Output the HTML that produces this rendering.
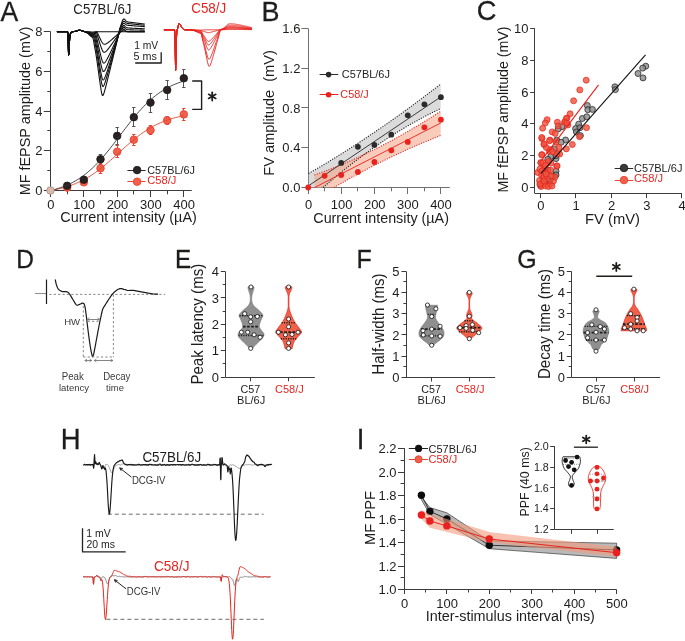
<!DOCTYPE html>
<html><head><meta charset="utf-8"><style>
html,body{margin:0;padding:0;background:#fff;}
svg{display:block;will-change:transform;}
text{font-family:"Liberation Sans", sans-serif;}
</style></head><body>
<svg width="685" height="641" viewBox="0 0 685 641">
<rect width="685" height="641" fill="#fff"/>
<text transform="translate(0.6 20.6) scale(0.9569 1)" font-size="27.8" fill="#1d1d1b" stroke="#1d1d1b" stroke-width="0.3">A</text>
<line x1="50.5" y1="31.5" x2="50.5" y2="190.5" stroke="#3c3c3c" stroke-width="1"/>
<line x1="50.5" y1="190.5" x2="191.8" y2="190.5" stroke="#3c3c3c" stroke-width="1"/>
<line x1="43.8" y1="190.5" x2="50.5" y2="190.5" stroke="#3c3c3c" stroke-width="1"/>
<text transform="translate(42.5 195.2) scale(0.9569 1)" font-size="13.58" text-anchor="end" fill="#1d1d1b">0</text>
<line x1="47.3" y1="170.5" x2="50.5" y2="170.5" stroke="#3c3c3c" stroke-width="1"/>
<line x1="43.8" y1="150.5" x2="50.5" y2="150.5" stroke="#3c3c3c" stroke-width="1"/>
<text transform="translate(42.5 155.45) scale(0.9569 1)" font-size="13.58" text-anchor="end" fill="#1d1d1b">2</text>
<line x1="47.3" y1="130.5" x2="50.5" y2="130.5" stroke="#3c3c3c" stroke-width="1"/>
<line x1="43.8" y1="111.5" x2="50.5" y2="111.5" stroke="#3c3c3c" stroke-width="1"/>
<text transform="translate(42.5 115.7) scale(0.9569 1)" font-size="13.58" text-anchor="end" fill="#1d1d1b">4</text>
<line x1="47.3" y1="91.5" x2="50.5" y2="91.5" stroke="#3c3c3c" stroke-width="1"/>
<line x1="43.8" y1="71.5" x2="50.5" y2="71.5" stroke="#3c3c3c" stroke-width="1"/>
<text transform="translate(42.5 75.95) scale(0.9569 1)" font-size="13.58" text-anchor="end" fill="#1d1d1b">6</text>
<line x1="47.3" y1="51.5" x2="50.5" y2="51.5" stroke="#3c3c3c" stroke-width="1"/>
<line x1="43.8" y1="31.5" x2="50.5" y2="31.5" stroke="#3c3c3c" stroke-width="1"/>
<text transform="translate(42.5 36.2) scale(0.9569 1)" font-size="13.58" text-anchor="end" fill="#1d1d1b">8</text>
<line x1="50.5" y1="190.5" x2="50.5" y2="197" stroke="#3c3c3c" stroke-width="1"/>
<text transform="translate(50.8 209) scale(0.9569 1)" font-size="13.58" text-anchor="middle" fill="#1d1d1b">0</text>
<line x1="67.5" y1="190.5" x2="67.5" y2="194.3" stroke="#3c3c3c" stroke-width="1"/>
<line x1="83.5" y1="190.5" x2="83.5" y2="197" stroke="#3c3c3c" stroke-width="1"/>
<text transform="translate(84.13 209) scale(0.9569 1)" font-size="13.58" text-anchor="middle" fill="#1d1d1b">100</text>
<line x1="100.5" y1="190.5" x2="100.5" y2="194.3" stroke="#3c3c3c" stroke-width="1"/>
<line x1="117.5" y1="190.5" x2="117.5" y2="197" stroke="#3c3c3c" stroke-width="1"/>
<text transform="translate(117.46 209) scale(0.9569 1)" font-size="13.58" text-anchor="middle" fill="#1d1d1b">200</text>
<line x1="133.5" y1="190.5" x2="133.5" y2="194.3" stroke="#3c3c3c" stroke-width="1"/>
<line x1="150.5" y1="190.5" x2="150.5" y2="197" stroke="#3c3c3c" stroke-width="1"/>
<text transform="translate(150.79 209) scale(0.9569 1)" font-size="13.58" text-anchor="middle" fill="#1d1d1b">300</text>
<line x1="167.5" y1="190.5" x2="167.5" y2="194.3" stroke="#3c3c3c" stroke-width="1"/>
<line x1="183.5" y1="190.5" x2="183.5" y2="197" stroke="#3c3c3c" stroke-width="1"/>
<text transform="translate(184.12 209) scale(0.9569 1)" font-size="13.58" text-anchor="middle" fill="#1d1d1b">400</text>
<text transform="translate(60.28 222.3) scale(0.9569 1)" font-size="15.09" fill="#1d1d1b">Current intensity (µA)</text>
<text transform="translate(29.6 195.35) rotate(-90) scale(0.9569 1)" font-size="15.07" fill="#1d1d1b">MF fEPSP amplitude (mV)</text>
<line x1="82.13" y1="176.5" x2="85.53" y2="176.5" stroke="#555" stroke-width="1"/>
<line x1="82.13" y1="182.5" x2="85.53" y2="182.5" stroke="#555" stroke-width="1"/>
<line x1="83.5" y1="176.7" x2="83.5" y2="182.7" stroke="#555" stroke-width="1"/>
<line x1="98.8" y1="154.5" x2="102.2" y2="154.5" stroke="#555" stroke-width="1"/>
<line x1="98.8" y1="164.5" x2="102.2" y2="164.5" stroke="#555" stroke-width="1"/>
<line x1="100.5" y1="154.2" x2="100.5" y2="164.2" stroke="#555" stroke-width="1"/>
<line x1="98.8" y1="163.5" x2="102.2" y2="163.5" stroke="#e8432f" stroke-width="1"/>
<line x1="98.8" y1="173.5" x2="102.2" y2="173.5" stroke="#e8432f" stroke-width="1"/>
<line x1="100.5" y1="163.3" x2="100.5" y2="173.3" stroke="#e8432f" stroke-width="1"/>
<line x1="115.46" y1="127.5" x2="118.86" y2="127.5" stroke="#555" stroke-width="1"/>
<line x1="115.46" y1="144.5" x2="118.86" y2="144.5" stroke="#555" stroke-width="1"/>
<line x1="117.5" y1="127.4" x2="117.5" y2="144.4" stroke="#555" stroke-width="1"/>
<line x1="115.46" y1="145.5" x2="118.86" y2="145.5" stroke="#e8432f" stroke-width="1"/>
<line x1="115.46" y1="157.5" x2="118.86" y2="157.5" stroke="#e8432f" stroke-width="1"/>
<line x1="117.5" y1="145.7" x2="117.5" y2="157.7" stroke="#e8432f" stroke-width="1"/>
<line x1="132.12" y1="107.5" x2="135.52" y2="107.5" stroke="#555" stroke-width="1"/>
<line x1="132.12" y1="126.5" x2="135.52" y2="126.5" stroke="#555" stroke-width="1"/>
<line x1="133.5" y1="107.6" x2="133.5" y2="126.8" stroke="#555" stroke-width="1"/>
<line x1="132.12" y1="134.5" x2="135.52" y2="134.5" stroke="#e8432f" stroke-width="1"/>
<line x1="132.12" y1="145.5" x2="135.52" y2="145.5" stroke="#e8432f" stroke-width="1"/>
<line x1="133.5" y1="134.2" x2="133.5" y2="145.2" stroke="#e8432f" stroke-width="1"/>
<line x1="148.79" y1="93.5" x2="152.19" y2="93.5" stroke="#555" stroke-width="1"/>
<line x1="148.79" y1="112.5" x2="152.19" y2="112.5" stroke="#555" stroke-width="1"/>
<line x1="150.5" y1="93" x2="150.5" y2="112.2" stroke="#555" stroke-width="1"/>
<line x1="148.79" y1="125.5" x2="152.19" y2="125.5" stroke="#e8432f" stroke-width="1"/>
<line x1="148.79" y1="134.5" x2="152.19" y2="134.5" stroke="#e8432f" stroke-width="1"/>
<line x1="150.5" y1="126" x2="150.5" y2="134.4" stroke="#e8432f" stroke-width="1"/>
<line x1="165.46" y1="80.5" x2="168.85" y2="80.5" stroke="#555" stroke-width="1"/>
<line x1="165.46" y1="99.5" x2="168.85" y2="99.5" stroke="#555" stroke-width="1"/>
<line x1="167.5" y1="80.5" x2="167.5" y2="99.5" stroke="#555" stroke-width="1"/>
<line x1="165.46" y1="116.5" x2="168.85" y2="116.5" stroke="#e8432f" stroke-width="1"/>
<line x1="165.46" y1="124.5" x2="168.85" y2="124.5" stroke="#e8432f" stroke-width="1"/>
<line x1="167.5" y1="116.4" x2="167.5" y2="124.4" stroke="#e8432f" stroke-width="1"/>
<line x1="182.12" y1="69.5" x2="185.52" y2="69.5" stroke="#555" stroke-width="1"/>
<line x1="182.12" y1="87.5" x2="185.52" y2="87.5" stroke="#555" stroke-width="1"/>
<line x1="183.5" y1="69.1" x2="183.5" y2="87.5" stroke="#555" stroke-width="1"/>
<line x1="182.12" y1="108.5" x2="185.52" y2="108.5" stroke="#e8432f" stroke-width="1"/>
<line x1="182.12" y1="120.5" x2="185.52" y2="120.5" stroke="#e8432f" stroke-width="1"/>
<line x1="183.5" y1="108.8" x2="183.5" y2="120" stroke="#e8432f" stroke-width="1"/>
<circle cx="67.16" cy="187.6" r="3.8" fill="#f0604b" stroke="#e53d2c" stroke-width="0.8"/>
<circle cx="83.83" cy="182.3" r="3.8" fill="#f0604b" stroke="#e53d2c" stroke-width="0.8"/>
<circle cx="100.5" cy="168.3" r="3.8" fill="#f0604b" stroke="#e53d2c" stroke-width="0.8"/>
<circle cx="117.16" cy="151.7" r="3.8" fill="#f0604b" stroke="#e53d2c" stroke-width="0.8"/>
<circle cx="133.82" cy="139.7" r="3.8" fill="#f0604b" stroke="#e53d2c" stroke-width="0.8"/>
<circle cx="150.49" cy="130.2" r="3.8" fill="#f0604b" stroke="#e53d2c" stroke-width="0.8"/>
<circle cx="167.16" cy="120.4" r="3.8" fill="#f0604b" stroke="#e53d2c" stroke-width="0.8"/>
<circle cx="183.82" cy="114.4" r="3.8" fill="#f0604b" stroke="#e53d2c" stroke-width="0.8"/>
<path d="M50.5 190.5 L52.17 190.21 L53.83 189.91 L55.5 189.58 L57.17 189.23 L58.83 188.86 L60.5 188.47 L62.17 188.05 L63.83 187.6 L65.5 187.13 L67.16 186.62 L68.83 186.09 L70.5 185.52 L72.16 184.92 L73.83 184.28 L75.5 183.61 L77.16 182.9 L78.83 182.15 L80.5 181.37 L82.16 180.54 L83.83 179.67 L85.5 178.76 L87.16 177.81 L88.83 176.82 L90.5 175.78 L92.16 174.7 L93.83 173.58 L95.5 172.41 L97.16 171.21 L98.83 169.96 L100.5 168.68 L102.16 167.36 L103.83 166.01 L105.49 164.63 L107.16 163.22 L108.83 161.78 L110.49 160.32 L112.16 158.84 L113.83 157.34 L115.49 155.83 L117.16 154.32 L118.83 152.8 L120.49 151.28 L122.16 149.76 L123.83 148.26 L125.49 146.76 L127.16 145.28 L128.83 143.82 L130.49 142.39 L132.16 140.98 L133.82 139.6 L135.49 138.25 L137.16 136.93 L138.82 135.65 L140.49 134.41 L142.16 133.21 L143.82 132.05 L145.49 130.93 L147.16 129.85 L148.82 128.81 L150.49 127.82 L152.16 126.87 L153.82 125.96 L155.49 125.1 L157.16 124.27 L158.82 123.49 L160.49 122.75 L162.16 122.04 L163.82 121.37 L165.49 120.74 L167.16 120.14 L168.82 119.57 L170.49 119.04 L172.15 118.54 L173.82 118.06 L175.49 117.62 L177.15 117.2 L178.82 116.81 L180.49 116.44 L182.15 116.09 L183.82 115.77" stroke="#e5402c" stroke-width="0.9" fill="none" stroke-linejoin="round"/>
<circle cx="67.16" cy="185.8" r="3.8" fill="#2a2020" stroke="#1a1a1a" stroke-width="0.8"/>
<circle cx="83.83" cy="179.7" r="3.8" fill="#2a2020" stroke="#1a1a1a" stroke-width="0.8"/>
<circle cx="100.5" cy="159.2" r="3.8" fill="#2a2020" stroke="#1a1a1a" stroke-width="0.8"/>
<circle cx="117.16" cy="135.9" r="3.8" fill="#2a2020" stroke="#1a1a1a" stroke-width="0.8"/>
<circle cx="133.82" cy="117.2" r="3.8" fill="#2a2020" stroke="#1a1a1a" stroke-width="0.8"/>
<circle cx="150.49" cy="102.6" r="3.8" fill="#2a2020" stroke="#1a1a1a" stroke-width="0.8"/>
<circle cx="167.16" cy="90" r="3.8" fill="#2a2020" stroke="#1a1a1a" stroke-width="0.8"/>
<circle cx="183.82" cy="78.3" r="3.8" fill="#2a2020" stroke="#1a1a1a" stroke-width="0.8"/>
<path d="M50.5 190.5 L52.17 190.1 L53.83 189.67 L55.5 189.21 L57.17 188.72 L58.83 188.2 L60.5 187.65 L62.17 187.06 L63.83 186.43 L65.5 185.77 L67.16 185.06 L68.83 184.31 L70.5 183.51 L72.16 182.67 L73.83 181.78 L75.5 180.84 L77.16 179.85 L78.83 178.8 L80.5 177.7 L82.16 176.54 L83.83 175.32 L85.5 174.04 L87.16 172.71 L88.83 171.31 L90.5 169.85 L92.16 168.33 L93.83 166.75 L95.5 165.11 L97.16 163.4 L98.83 161.64 L100.5 159.83 L102.16 157.96 L103.83 156.04 L105.49 154.07 L107.16 152.05 L108.83 150 L110.49 147.91 L112.16 145.78 L113.83 143.63 L115.49 141.45 L117.16 139.26 L118.83 137.06 L120.49 134.85 L122.16 132.64 L123.83 130.44 L125.49 128.25 L127.16 126.08 L128.83 123.93 L130.49 121.8 L132.16 119.71 L133.82 117.66 L135.49 115.64 L137.16 113.68 L138.82 111.76 L140.49 109.89 L142.16 108.07 L143.82 106.32 L145.49 104.62 L147.16 102.98 L148.82 101.4 L150.49 99.88 L152.16 98.42 L153.82 97.03 L155.49 95.69 L157.16 94.42 L158.82 93.2 L160.49 92.04 L162.16 90.94 L163.82 89.9 L165.49 88.91 L167.16 87.97 L168.82 87.08 L170.49 86.24 L172.15 85.45 L173.82 84.7 L175.49 83.99 L177.15 83.33 L178.82 82.7 L180.49 82.12 L182.15 81.56 L183.82 81.04" stroke="#333" stroke-width="0.9" fill="none" stroke-linejoin="round"/>
<circle cx="50.5" cy="190.5" r="3.8" fill="#d9b9aa" stroke="#a08a80" stroke-width="0.8"/>
<path d="M192.2 81 L201.6 81 L201.6 109.4 L192.2 109.4" stroke="#1d1d1b" stroke-width="1.4" fill="none" stroke-linejoin="round"/>
<line x1="212.2" y1="92.3" x2="212.2" y2="100.5" stroke="#1d1d1b" stroke-width="1.75" stroke-linecap="round"/>
<line x1="208.65" y1="94.35" x2="215.75" y2="98.45" stroke="#1d1d1b" stroke-width="1.75" stroke-linecap="round"/>
<line x1="208.65" y1="98.45" x2="215.75" y2="94.35" stroke="#1d1d1b" stroke-width="1.75" stroke-linecap="round"/>
<line x1="127.4" y1="170.5" x2="145.6" y2="170.5" stroke="#2a2a2a" stroke-width="1"/>
<circle cx="137.1" cy="170.1" r="3.8" fill="#2a2424" stroke="#1a1a1a" stroke-width="0.8"/>
<text transform="translate(147.26 173.7) scale(0.9569 1)" font-size="11.35" fill="#1d1d1b">C57BL/6J</text>
<line x1="127.4" y1="181.5" x2="145.6" y2="181.5" stroke="#e8432f" stroke-width="1"/>
<circle cx="137.1" cy="181.7" r="3.8" fill="#f0604b" stroke="#e53d2c" stroke-width="0.8"/>
<text transform="translate(147.24 184.3) scale(0.9569 1)" font-size="11.66" fill="#e52521">C58/J</text>
<text transform="translate(73.34 13.65) scale(0.9569 1)" font-size="13.82" fill="#1d1d1b">C57BL/6J</text>
<text transform="translate(191.23 13.1) scale(0.9569 1)" font-size="14" fill="#e52521">C58/J</text>
<text transform="translate(134.18 49) scale(0.9569 1)" font-size="10.76" fill="#1d1d1b">1 mV</text>
<text transform="translate(133.47 59.5) scale(0.9569 1)" font-size="11.29" fill="#1d1d1b">5 ms</text>
<path d="M135.2 63 L161.2 63 L161.2 52.2" stroke="#1d1d1b" stroke-width="1.3" fill="none" stroke-linejoin="round"/>
<path d="M56.9 31.7 L57.2 31.7 L57.5 31.7 L57.8 31.7 L58.1 31.7 L58.4 31.7 L58.7 31.7 L59 31.7 L59.3 31.7 L59.6 31.7 L59.9 31.7 L60.2 31.7 L60.5 31.7 L60.8 31.7 L61.1 31.7 L61.4 31.7 L61.7 31.7 L62 31.7 L62.3 31.7 L62.6 31.7 L62.9 31.7 L63.2 31.7 L63.5 31.7 L63.8 31.7 L64.1 31.7 L64.4 31.7 L64.7 31.7 L65 31.7 L65.3 31.7 L65.6 31.7 L65.9 31.7 L66.2 31.7 L66.5 31.7 L66.8 31.7 L67.1 31.7 L67.4 31.72 L67.7 32.11 L68 35.48 L68.3 46.17 L68.6 54.99 L68.9 53.54 L69.2 47.73 L69.5 41.28 L69.8 37.06 L70.1 34.9 L70.4 33.83 L70.7 33.17 L71 32.68 L71.3 32.31 L71.6 32.05 L71.9 31.88 L72.2 31.77 L72.5 31.7 L72.8 31.66 L73.1 31.63 L73.4 31.6 L73.7 31.57 L74 31.53 L74.3 31.48 L74.6 31.43 L74.9 31.38 L75.2 31.31 L75.5 31.24 L75.8 31.16 L76.1 31.07 L76.4 30.98 L76.7 30.89 L77 30.79 L77.3 30.7 L77.6 30.61 L77.9 30.53 L78.2 30.45 L78.5 30.39 L78.8 30.35 L79.1 30.32 L79.4 30.3 L79.7 30.3 L80 30.32 L80.3 30.36 L80.6 30.41 L80.9 30.48 L81.2 30.55 L81.5 30.64 L81.8 30.73 L82.1 30.83 L82.4 30.92 L82.7 31.01 L83 31.1 L83.3 31.19 L83.6 31.27 L83.9 31.34 L84.2 31.41 L84.5 31.47 L84.8 31.52 L85.1 31.56 L85.4 31.6 L85.7 31.63 L86 31.66 L86.3 31.69 L86.6 31.71 L86.9 31.73 L87.2 31.74 L87.5 31.76 L87.8 31.78 L88.1 31.79 L88.4 31.81 L88.7 31.82 L89 31.84 L89.3 31.86 L89.6 31.87 L89.9 31.89 L90.2 31.9 L90.5 31.92 L90.8 31.93 L91.1 31.95 L91.4 31.96 L91.7 31.97 L92 31.98 L92.3 31.99 L92.6 31.99 L92.9 32 L93.2 32 L93.5 32 L93.8 31.98 L94.1 31.96 L94.4 31.93 L94.7 31.9 L95 31.87 L95.3 31.83 L95.6 31.8 L95.9 31.77 L96.2 31.75 L96.5 31.74 L96.8 31.72 L97.1 31.72 L97.4 31.71 L97.7 31.71 L98 31.7 L98.3 31.7 L98.6 31.7 L98.9 31.7 L99.2 31.7 L99.5 31.7 L99.8 31.7 L100.1 31.7 L100.4 31.7 L100.7 31.7 L101 31.7 L101.3 31.7 L101.6 31.7 L101.9 31.7 L102.2 31.7 L102.5 31.7 L102.8 31.7 L103.1 31.7 L103.4 31.7 L103.7 31.7 L104 31.7 L104.3 31.7 L104.6 31.7 L104.9 31.7 L105.2 31.7 L105.5 31.7 L105.8 31.7 L106.1 31.7 L106.4 31.7 L106.7 31.7 L107 31.7 L107.3 31.7 L107.6 31.7 L107.9 31.7 L108.2 31.7 L108.5 31.7 L108.8 31.7 L109.1 31.7 L109.4 31.7 L109.7 31.7 L110 31.7 L110.3 31.7 L110.6 31.7 L110.9 31.7 L111.2 31.7 L111.5 31.7 L111.8 31.7 L112.1 31.7 L112.4 31.7 L112.7 31.7 L113 31.7 L113.3 31.7 L113.6 31.7 L113.9 31.7 L114.2 31.7 L114.5 31.7 L114.8 31.7 L115.1 31.7 L115.4 31.7 L115.7 31.7 L116 31.7 L116.3 31.7 L116.6 31.7 L116.9 31.7 L117.2 31.7 L117.5 31.7 L117.8 31.7 L118.1 31.7 L118.4 31.7 L118.7 31.7 L119 31.7 L119.3 31.7 L119.6 31.7 L119.9 31.7 L120.2 31.7 L120.5 31.7 L120.8 31.7 L121.1 31.7 L121.4 31.7 L121.7 31.7 L122 31.7 L122.3 31.7 L122.6 31.7 L122.9 31.7 L123.2 31.7 L123.5 31.7 L123.8 31.7 L124.1 31.7 L124.4 31.7 L124.7 31.7 L125 31.7 L125.3 31.7 L125.6 31.7 L125.9 31.7 L126.2 31.7 L126.5 31.7 L126.8 31.7 L127.1 31.7 L127.4 31.7 L127.7 31.7 L128 31.7 L128.3 31.7 L128.6 31.7 L128.9 31.7 L129.2 31.7 L129.5 31.7 L129.8 31.7 L130.1 31.7 L130.4 31.7 L130.7 31.7 L131 31.7 L131.3 31.7 L131.6 31.7 L131.9 31.7 L132.2 31.7 L132.5 31.7 L132.8 31.7 L133.1 31.7 L133.4 31.7 L133.7 31.7 L134 31.7 L134.3 31.7 L134.6 31.7 L134.9 31.7 L135.2 31.7 L135.5 31.7 L135.8 31.7 L136.1 31.7 L136.4 31.7 L136.7 31.7 L137 31.7 L137.3 31.7 L137.6 31.7 L137.9 31.7 L138.2 31.7 L138.5 31.7 L138.8 31.7 L139.1 31.7 L139.4 31.7 L139.7 31.7 L140 31.7 L140.3 31.7 L140.6 31.7 L140.9 31.7 L141.2 31.7 L141.5 31.7 L141.8 31.7 L142.1 31.7 L142.4 31.7 L142.7 31.7 L143 31.7 L143.3 31.7 L143.6 31.7 L143.9 31.7 L144.2 31.7 L144.5 31.7 L144.8 31.7" stroke="#111" stroke-width="1.1" fill="none" stroke-linejoin="round"/>
<path d="M56.9 31.7 L57.2 31.7 L57.5 31.7 L57.8 31.7 L58.1 31.7 L58.4 31.7 L58.7 31.7 L59 31.7 L59.3 31.7 L59.6 31.7 L59.9 31.7 L60.2 31.7 L60.5 31.7 L60.8 31.7 L61.1 31.7 L61.4 31.7 L61.7 31.7 L62 31.7 L62.3 31.7 L62.6 31.7 L62.9 31.7 L63.2 31.7 L63.5 31.7 L63.8 31.7 L64.1 31.7 L64.4 31.7 L64.7 31.7 L65 31.7 L65.3 31.7 L65.6 31.7 L65.9 31.7 L66.2 31.7 L66.5 31.7 L66.8 31.7 L67.1 31.7 L67.4 31.72 L67.7 32.11 L68 35.48 L68.3 46.17 L68.6 54.99 L68.9 53.54 L69.2 47.73 L69.5 41.28 L69.8 37.06 L70.1 34.9 L70.4 33.83 L70.7 33.17 L71 32.68 L71.3 32.31 L71.6 32.05 L71.9 31.88 L72.2 31.77 L72.5 31.7 L72.8 31.66 L73.1 31.63 L73.4 31.6 L73.7 31.57 L74 31.53 L74.3 31.48 L74.6 31.43 L74.9 31.38 L75.2 31.31 L75.5 31.24 L75.8 31.16 L76.1 31.07 L76.4 30.98 L76.7 30.89 L77 30.79 L77.3 30.7 L77.6 30.61 L77.9 30.53 L78.2 30.45 L78.5 30.39 L78.8 30.35 L79.1 30.32 L79.4 30.3 L79.7 30.3 L80 30.33 L80.3 30.36 L80.6 30.41 L80.9 30.48 L81.2 30.56 L81.5 30.64 L81.8 30.74 L82.1 30.83 L82.4 30.93 L82.7 31.02 L83 31.12 L83.3 31.21 L83.6 31.29 L83.9 31.37 L84.2 31.44 L84.5 31.51 L84.8 31.57 L85.1 31.62 L85.4 31.67 L85.7 31.72 L86 31.77 L86.3 31.81 L86.6 31.86 L86.9 31.9 L87.2 31.95 L87.5 32 L87.8 32.05 L88.1 32.1 L88.4 32.15 L88.7 32.21 L89 32.27 L89.3 32.33 L89.6 32.39 L89.9 32.45 L90.2 32.52 L90.5 32.58 L90.8 32.63 L91.1 32.69 L91.4 32.74 L91.7 32.78 L92 32.82 L92.3 32.85 L92.6 32.88 L92.9 32.89 L93.2 32.9 L93.5 32.89 L93.8 32.84 L94.1 32.75 L94.4 32.63 L94.7 32.5 L95 32.36 L95.3 32.23 L95.6 32.1 L95.9 32 L96.2 31.91 L96.5 31.84 L96.8 31.8 L97.1 32.18 L97.4 32.69 L97.7 33.36 L98 34.03 L98.3 34.7 L98.6 35.37 L98.9 36.04 L99.2 36.69 L99.5 37.34 L99.8 37.98 L100.1 38.6 L100.4 39.22 L100.7 39.82 L101 40.4 L101.3 40.96 L101.6 41.49 L101.9 42 L102.2 42.47 L102.5 42.9 L102.8 43.29 L103.1 43.63 L103.4 43.9 L103.7 44.11 L104 44.24 L104.3 44.3 L104.6 44.29 L104.9 44.25 L105.2 44.19 L105.5 44.1 L105.8 43.98 L106.1 43.85 L106.4 43.69 L106.7 43.52 L107 43.34 L107.3 43.14 L107.6 42.94 L107.9 42.73 L108.2 42.51 L108.5 42.28 L108.8 42.05 L109.1 41.81 L109.4 41.57 L109.7 41.33 L110 41.09 L110.3 40.84 L110.6 40.59 L110.9 40.33 L111.2 40.08 L111.5 39.82 L111.8 39.56 L112.1 39.3 L112.4 39.04 L112.7 38.78 L113 38.52 L113.3 38.26 L113.6 37.99 L113.9 37.73 L114.2 37.46 L114.5 37.2 L114.8 36.93 L115.1 36.66 L115.4 36.39 L115.7 36.13 L116 35.86 L116.3 35.59 L116.6 35.32 L116.9 35.05 L117.2 34.78 L117.5 34.51 L117.8 34.24 L118.1 33.97 L118.4 33.7 L118.7 33.43 L119 33.15 L119.3 32.88 L119.6 32.61 L119.9 32.34 L120.2 32.15 L120.5 32.05 L120.8 31.63 L121.1 31.58 L121.4 31.51 L121.7 31.41 L122 31.29 L122.3 31.14 L122.6 30.99 L122.9 30.86 L123.2 30.75 L123.5 30.7 L123.8 30.71 L124.1 30.75 L124.4 30.82 L124.7 30.92 L125 31.03 L125.3 31.15 L125.6 31.26 L125.9 31.36 L126.2 31.45 L126.5 31.52 L126.8 31.58 L127.1 31.62 L127.4 31.65 L127.7 31.67 L128 31.68 L128.3 31.69 L128.6 31.69 L128.9 31.7 L129.2 31.7 L129.5 31.7 L129.8 31.7 L130.1 31.7 L130.4 31.7 L130.7 31.7 L131 31.7 L131.3 31.7 L131.6 31.7 L131.9 31.7 L132.2 31.7 L132.5 31.7 L132.8 31.7 L133.1 31.7 L133.4 31.7 L133.7 31.7 L134 31.7 L134.3 31.7 L134.6 31.7 L134.9 31.7 L135.2 31.7 L135.5 31.7 L135.8 31.7 L136.1 31.7 L136.4 31.7 L136.7 31.7 L137 31.7 L137.3 31.7 L137.6 31.7 L137.9 31.7 L138.2 31.7 L138.5 31.7 L138.8 31.7 L139.1 31.7 L139.4 31.7 L139.7 31.7 L140 31.7 L140.3 31.7 L140.6 31.7 L140.9 31.7 L141.2 31.7 L141.5 31.7 L141.8 31.7 L142.1 31.7 L142.4 31.7 L142.7 31.7 L143 31.7 L143.3 31.7 L143.6 31.7 L143.9 31.7 L144.2 31.7 L144.5 31.7 L144.8 31.7" stroke="#111" stroke-width="1.1" fill="none" stroke-linejoin="round"/>
<path d="M56.9 31.7 L57.2 31.7 L57.5 31.7 L57.8 31.7 L58.1 31.7 L58.4 31.7 L58.7 31.7 L59 31.7 L59.3 31.7 L59.6 31.7 L59.9 31.7 L60.2 31.7 L60.5 31.7 L60.8 31.7 L61.1 31.7 L61.4 31.7 L61.7 31.7 L62 31.7 L62.3 31.7 L62.6 31.7 L62.9 31.7 L63.2 31.7 L63.5 31.7 L63.8 31.7 L64.1 31.7 L64.4 31.7 L64.7 31.7 L65 31.7 L65.3 31.7 L65.6 31.7 L65.9 31.7 L66.2 31.7 L66.5 31.7 L66.8 31.7 L67.1 31.7 L67.4 31.72 L67.7 32.11 L68 35.48 L68.3 46.17 L68.6 54.99 L68.9 53.54 L69.2 47.73 L69.5 41.28 L69.8 37.06 L70.1 34.9 L70.4 33.83 L70.7 33.17 L71 32.68 L71.3 32.31 L71.6 32.05 L71.9 31.88 L72.2 31.77 L72.5 31.7 L72.8 31.66 L73.1 31.63 L73.4 31.6 L73.7 31.57 L74 31.53 L74.3 31.48 L74.6 31.43 L74.9 31.38 L75.2 31.31 L75.5 31.24 L75.8 31.16 L76.1 31.07 L76.4 30.98 L76.7 30.89 L77 30.79 L77.3 30.7 L77.6 30.61 L77.9 30.53 L78.2 30.45 L78.5 30.39 L78.8 30.35 L79.1 30.32 L79.4 30.3 L79.7 30.31 L80 30.33 L80.3 30.36 L80.6 30.42 L80.9 30.48 L81.2 30.56 L81.5 30.65 L81.8 30.74 L82.1 30.84 L82.4 30.94 L82.7 31.03 L83 31.13 L83.3 31.22 L83.6 31.31 L83.9 31.39 L84.2 31.47 L84.5 31.54 L84.8 31.61 L85.1 31.68 L85.4 31.74 L85.7 31.8 L86 31.86 L86.3 31.92 L86.6 31.99 L86.9 32.06 L87.2 32.13 L87.5 32.2 L87.8 32.28 L88.1 32.37 L88.4 32.46 L88.7 32.55 L89 32.65 L89.3 32.75 L89.6 32.86 L89.9 32.96 L90.2 33.06 L90.5 33.16 L90.8 33.26 L91.1 33.35 L91.4 33.43 L91.7 33.51 L92 33.57 L92.3 33.62 L92.6 33.66 L92.9 33.69 L93.2 33.7 L93.5 33.68 L93.8 33.6 L94.1 33.45 L94.4 33.26 L94.7 33.03 L95 32.8 L95.3 32.58 L95.6 32.37 L95.9 32.19 L96.2 32.05 L96.5 32.66 L96.8 33.4 L97.1 34.39 L97.4 35.38 L97.7 36.39 L98 37.4 L98.3 38.4 L98.6 39.4 L98.9 40.4 L99.2 41.38 L99.5 42.35 L99.8 43.31 L100.1 44.25 L100.4 45.17 L100.7 46.07 L101 46.94 L101.3 47.77 L101.6 48.57 L101.9 49.31 L102.2 50 L102.5 50.62 L102.8 51.17 L103.1 51.62 L103.4 51.96 L103.7 52.19 L104 52.29 L104.3 52.29 L104.6 52.23 L104.9 52.12 L105.2 51.96 L105.5 51.77 L105.8 51.53 L106.1 51.27 L106.4 50.99 L106.7 50.68 L107 50.36 L107.3 50.02 L107.6 49.67 L107.9 49.3 L108.2 48.93 L108.5 48.55 L108.8 48.17 L109.1 47.78 L109.4 47.38 L109.7 46.98 L110 46.58 L110.3 46.17 L110.6 45.76 L110.9 45.35 L111.2 44.93 L111.5 44.51 L111.8 44.09 L112.1 43.67 L112.4 43.25 L112.7 42.83 L113 42.4 L113.3 41.98 L113.6 41.55 L113.9 41.12 L114.2 40.7 L114.5 40.27 L114.8 39.84 L115.1 39.41 L115.4 38.97 L115.7 38.54 L116 38.11 L116.3 37.68 L116.6 37.25 L116.9 36.81 L117.2 36.38 L117.5 35.94 L117.8 35.51 L118.1 35.07 L118.4 34.64 L118.7 34.2 L119 33.77 L119.3 33.33 L119.6 32.89 L119.9 32.53 L120.2 32.31 L120.5 31.61 L120.8 31.53 L121.1 31.4 L121.4 31.21 L121.7 30.95 L122 30.63 L122.3 30.25 L122.6 29.86 L122.9 29.51 L123.2 29.24 L123.5 29.11 L123.8 29.12 L124.1 29.23 L124.4 29.42 L124.7 29.68 L125 29.97 L125.3 30.27 L125.6 30.56 L125.9 30.83 L126.2 31.06 L126.5 31.24 L126.8 31.39 L127.1 31.49 L127.4 31.57 L127.7 31.62 L128 31.65 L128.3 31.67 L128.6 31.69 L128.9 31.69 L129.2 31.7 L129.5 31.7 L129.8 31.7 L130.1 31.7 L130.4 31.7 L130.7 31.7 L131 31.7 L131.3 31.7 L131.6 31.7 L131.9 31.7 L132.2 31.7 L132.5 31.7 L132.8 31.7 L133.1 31.7 L133.4 31.7 L133.7 31.7 L134 31.7 L134.3 31.7 L134.6 31.7 L134.9 31.7 L135.2 31.7 L135.5 31.7 L135.8 31.7 L136.1 31.7 L136.4 31.7 L136.7 31.7 L137 31.7 L137.3 31.7 L137.6 31.7 L137.9 31.7 L138.2 31.7 L138.5 31.7 L138.8 31.7 L139.1 31.7 L139.4 31.7 L139.7 31.7 L140 31.7 L140.3 31.7 L140.6 31.7 L140.9 31.7 L141.2 31.7 L141.5 31.7 L141.8 31.7 L142.1 31.7 L142.4 31.7 L142.7 31.7 L143 31.7 L143.3 31.7 L143.6 31.7 L143.9 31.7 L144.2 31.7 L144.5 31.7 L144.8 31.7" stroke="#111" stroke-width="1.1" fill="none" stroke-linejoin="round"/>
<path d="M56.9 31.7 L57.2 31.7 L57.5 31.7 L57.8 31.7 L58.1 31.7 L58.4 31.7 L58.7 31.7 L59 31.7 L59.3 31.7 L59.6 31.7 L59.9 31.7 L60.2 31.7 L60.5 31.7 L60.8 31.7 L61.1 31.7 L61.4 31.7 L61.7 31.7 L62 31.7 L62.3 31.7 L62.6 31.7 L62.9 31.7 L63.2 31.7 L63.5 31.7 L63.8 31.7 L64.1 31.7 L64.4 31.7 L64.7 31.7 L65 31.7 L65.3 31.7 L65.6 31.7 L65.9 31.7 L66.2 31.7 L66.5 31.7 L66.8 31.7 L67.1 31.7 L67.4 31.72 L67.7 32.11 L68 35.48 L68.3 46.17 L68.6 54.99 L68.9 53.54 L69.2 47.73 L69.5 41.28 L69.8 37.06 L70.1 34.9 L70.4 33.83 L70.7 33.17 L71 32.68 L71.3 32.31 L71.6 32.05 L71.9 31.88 L72.2 31.77 L72.5 31.7 L72.8 31.66 L73.1 31.63 L73.4 31.6 L73.7 31.57 L74 31.53 L74.3 31.48 L74.6 31.43 L74.9 31.38 L75.2 31.31 L75.5 31.24 L75.8 31.16 L76.1 31.07 L76.4 30.98 L76.7 30.89 L77 30.79 L77.3 30.7 L77.6 30.61 L77.9 30.53 L78.2 30.45 L78.5 30.39 L78.8 30.35 L79.1 30.32 L79.4 30.3 L79.7 30.31 L80 30.33 L80.3 30.36 L80.6 30.42 L80.9 30.48 L81.2 30.56 L81.5 30.65 L81.8 30.74 L82.1 30.84 L82.4 30.94 L82.7 31.04 L83 31.14 L83.3 31.24 L83.6 31.33 L83.9 31.42 L84.2 31.51 L84.5 31.59 L84.8 31.67 L85.1 31.74 L85.4 31.82 L85.7 31.9 L86 31.98 L86.3 32.07 L86.6 32.16 L86.9 32.25 L87.2 32.35 L87.5 32.46 L87.8 32.58 L88.1 32.71 L88.4 32.84 L88.7 32.98 L89 33.13 L89.3 33.28 L89.6 33.43 L89.9 33.59 L90.2 33.74 L90.5 33.89 L90.8 34.04 L91.1 34.17 L91.4 34.3 L91.7 34.41 L92 34.5 L92.3 34.58 L92.6 34.64 L92.9 34.68 L93.2 34.7 L93.5 34.68 L93.8 34.55 L94.1 34.33 L94.4 34.04 L94.7 33.7 L95 33.35 L95.3 33.01 L95.6 33.68 L95.9 34.23 L96.2 35.45 L96.5 36.73 L96.8 38.04 L97.1 39.38 L97.4 40.74 L97.7 42.12 L98 43.5 L98.3 44.89 L98.6 46.26 L98.9 47.63 L99.2 48.99 L99.5 50.33 L99.8 51.65 L100.1 52.94 L100.4 54.21 L100.7 55.44 L101 56.63 L101.3 57.77 L101.6 58.84 L101.9 59.84 L102.2 60.74 L102.5 61.53 L102.8 62.18 L103.1 62.68 L103.4 62.99 L103.7 63.1 L104 63.06 L104.3 62.94 L104.6 62.73 L104.9 62.46 L105.2 62.12 L105.5 61.73 L105.8 61.3 L106.1 60.84 L106.4 60.34 L106.7 59.83 L107 59.29 L107.3 58.74 L107.6 58.18 L107.9 57.61 L108.2 57.02 L108.5 56.43 L108.8 55.84 L109.1 55.23 L109.4 54.62 L109.7 54.01 L110 53.4 L110.3 52.78 L110.6 52.15 L110.9 51.53 L111.2 50.9 L111.5 50.27 L111.8 49.64 L112.1 49.01 L112.4 48.38 L112.7 47.74 L113 47.1 L113.3 46.47 L113.6 45.83 L113.9 45.19 L114.2 44.54 L114.5 43.9 L114.8 43.26 L115.1 42.61 L115.4 41.97 L115.7 41.32 L116 40.67 L116.3 40.02 L116.6 39.36 L116.9 38.7 L117.2 38.04 L117.5 37.37 L117.8 36.69 L118.1 36 L118.4 35.3 L118.7 34.59 L119 33.86 L119.3 33.12 L119.6 32.46 L119.9 32.01 L120.2 30.81 L120.5 30.61 L120.8 30.39 L121.1 30.12 L121.4 29.8 L121.7 29.43 L122 29.02 L122.3 28.57 L122.6 28.13 L122.9 27.74 L123.2 27.44 L123.5 27.29 L123.8 27.28 L124.1 27.38 L124.4 27.55 L124.7 27.79 L125 28.07 L125.3 28.36 L125.6 28.65 L125.9 28.91 L126.2 29.13 L126.5 29.31 L126.8 29.46 L127.1 29.57 L127.4 29.65 L127.7 29.7 L128 29.74 L128.3 29.77 L128.6 29.79 L128.9 29.8 L129.2 29.81 L129.5 29.82 L129.8 29.83 L130.1 29.84 L130.4 29.84 L130.7 29.85 L131 29.86 L131.3 29.87 L131.6 29.87 L131.9 29.88 L132.2 29.89 L132.5 29.9 L132.8 29.9 L133.1 29.91 L133.4 29.92 L133.7 29.92 L134 29.93 L134.3 29.94 L134.6 29.95 L134.9 29.95 L135.2 29.96 L135.5 29.97 L135.8 29.98 L136.1 29.98 L136.4 29.99 L136.7 30 L137 30.01 L137.3 30.01 L137.6 30.02 L137.9 30.03 L138.2 30.03 L138.5 30.04 L138.8 30.05 L139.1 30.06 L139.4 30.06 L139.7 30.07 L140 30.08 L140.3 30.09 L140.6 30.09 L140.9 30.1 L141.2 30.11 L141.5 30.11 L141.8 30.12 L142.1 30.13 L142.4 30.14 L142.7 30.14 L143 30.15 L143.3 30.16 L143.6 30.17 L143.9 30.17 L144.2 30.18 L144.5 30.19 L144.8 30.2" stroke="#111" stroke-width="1.1" fill="none" stroke-linejoin="round"/>
<path d="M56.9 31.7 L57.2 31.7 L57.5 31.7 L57.8 31.7 L58.1 31.7 L58.4 31.7 L58.7 31.7 L59 31.7 L59.3 31.7 L59.6 31.7 L59.9 31.7 L60.2 31.7 L60.5 31.7 L60.8 31.7 L61.1 31.7 L61.4 31.7 L61.7 31.7 L62 31.7 L62.3 31.7 L62.6 31.7 L62.9 31.7 L63.2 31.7 L63.5 31.7 L63.8 31.7 L64.1 31.7 L64.4 31.7 L64.7 31.7 L65 31.7 L65.3 31.7 L65.6 31.7 L65.9 31.7 L66.2 31.7 L66.5 31.7 L66.8 31.7 L67.1 31.7 L67.4 31.72 L67.7 32.11 L68 35.48 L68.3 46.17 L68.6 54.99 L68.9 53.54 L69.2 47.73 L69.5 41.28 L69.8 37.06 L70.1 34.9 L70.4 33.83 L70.7 33.17 L71 32.68 L71.3 32.31 L71.6 32.05 L71.9 31.88 L72.2 31.77 L72.5 31.7 L72.8 31.66 L73.1 31.63 L73.4 31.6 L73.7 31.57 L74 31.53 L74.3 31.48 L74.6 31.43 L74.9 31.38 L75.2 31.31 L75.5 31.24 L75.8 31.16 L76.1 31.07 L76.4 30.98 L76.7 30.89 L77 30.79 L77.3 30.7 L77.6 30.61 L77.9 30.53 L78.2 30.46 L78.5 30.39 L78.8 30.35 L79.1 30.32 L79.4 30.3 L79.7 30.31 L80 30.33 L80.3 30.36 L80.6 30.42 L80.9 30.49 L81.2 30.56 L81.5 30.65 L81.8 30.75 L82.1 30.85 L82.4 30.95 L82.7 31.05 L83 31.15 L83.3 31.25 L83.6 31.35 L83.9 31.44 L84.2 31.53 L84.5 31.62 L84.8 31.71 L85.1 31.79 L85.4 31.88 L85.7 31.97 L86 32.06 L86.3 32.16 L86.6 32.27 L86.9 32.39 L87.2 32.51 L87.5 32.65 L87.8 32.79 L88.1 32.95 L88.4 33.11 L88.7 33.28 L89 33.46 L89.3 33.65 L89.6 33.84 L89.9 34.03 L90.2 34.22 L90.5 34.4 L90.8 34.58 L91.1 34.75 L91.4 34.9 L91.7 35.04 L92 35.16 L92.3 35.25 L92.6 35.33 L92.9 35.38 L93.2 35.4 L93.5 35.37 L93.8 35.21 L94.1 34.94 L94.4 34.58 L94.7 34.17 L95 34.99 L95.3 35.58 L95.6 36.9 L95.9 38.28 L96.2 39.71 L96.5 41.2 L96.8 42.74 L97.1 44.32 L97.4 45.92 L97.7 47.54 L98 49.17 L98.3 50.8 L98.6 52.43 L98.9 54.05 L99.2 55.65 L99.5 57.23 L99.8 58.79 L100.1 60.33 L100.4 61.82 L100.7 63.28 L101 64.68 L101.3 66.01 L101.6 67.26 L101.9 68.41 L102.2 69.42 L102.5 70.27 L102.8 70.92 L103.1 71.34 L103.4 71.5 L103.7 71.45 L104 71.28 L104.3 71 L104.6 70.62 L104.9 70.17 L105.2 69.65 L105.5 69.08 L105.8 68.47 L106.1 67.83 L106.4 67.16 L106.7 66.47 L107 65.77 L107.3 65.05 L107.6 64.32 L107.9 63.58 L108.2 62.83 L108.5 62.08 L108.8 61.31 L109.1 60.55 L109.4 59.78 L109.7 59 L110 58.23 L110.3 57.45 L110.6 56.66 L110.9 55.88 L111.2 55.09 L111.5 54.3 L111.8 53.51 L112.1 52.72 L112.4 51.93 L112.7 51.13 L113 50.34 L113.3 49.54 L113.6 48.74 L113.9 47.94 L114.2 47.14 L114.5 46.34 L114.8 45.53 L115.1 44.73 L115.4 43.92 L115.7 43.11 L116 42.3 L116.3 41.48 L116.6 40.66 L116.9 39.83 L117.2 38.99 L117.5 38.14 L117.8 37.27 L118.1 36.39 L118.4 35.49 L118.7 34.56 L119 33.6 L119.3 32.68 L119.6 31.98 L119.9 31.52 L120.2 30.02 L120.5 29.69 L120.8 29.32 L121.1 28.92 L121.4 28.48 L121.7 28.01 L122 27.51 L122.3 27.01 L122.6 26.52 L122.9 26.09 L123.2 25.77 L123.5 25.6 L123.8 25.57 L124.1 25.65 L124.4 25.81 L124.7 26.04 L125 26.3 L125.3 26.59 L125.6 26.86 L125.9 27.11 L126.2 27.33 L126.5 27.52 L126.8 27.66 L127.1 27.77 L127.4 27.85 L127.7 27.91 L128 27.96 L128.3 27.99 L128.6 28.01 L128.9 28.03 L129.2 28.05 L129.5 28.07 L129.8 28.08 L130.1 28.1 L130.4 28.11 L130.7 28.13 L131 28.14 L131.3 28.15 L131.6 28.17 L131.9 28.18 L132.2 28.2 L132.5 28.21 L132.8 28.23 L133.1 28.24 L133.4 28.25 L133.7 28.27 L134 28.28 L134.3 28.3 L134.6 28.31 L134.9 28.32 L135.2 28.34 L135.5 28.35 L135.8 28.37 L136.1 28.38 L136.4 28.39 L136.7 28.41 L137 28.42 L137.3 28.44 L137.6 28.45 L137.9 28.47 L138.2 28.48 L138.5 28.49 L138.8 28.51 L139.1 28.52 L139.4 28.54 L139.7 28.55 L140 28.56 L140.3 28.58 L140.6 28.59 L140.9 28.61 L141.2 28.62 L141.5 28.64 L141.8 28.65 L142.1 28.66 L142.4 28.68 L142.7 28.69 L143 28.71 L143.3 28.72 L143.6 28.73 L143.9 28.75 L144.2 28.76 L144.5 28.78 L144.8 28.79" stroke="#111" stroke-width="1.1" fill="none" stroke-linejoin="round"/>
<path d="M56.9 31.7 L57.2 31.7 L57.5 31.7 L57.8 31.7 L58.1 31.7 L58.4 31.7 L58.7 31.7 L59 31.7 L59.3 31.7 L59.6 31.7 L59.9 31.7 L60.2 31.7 L60.5 31.7 L60.8 31.7 L61.1 31.7 L61.4 31.7 L61.7 31.7 L62 31.7 L62.3 31.7 L62.6 31.7 L62.9 31.7 L63.2 31.7 L63.5 31.7 L63.8 31.7 L64.1 31.7 L64.4 31.7 L64.7 31.7 L65 31.7 L65.3 31.7 L65.6 31.7 L65.9 31.7 L66.2 31.7 L66.5 31.7 L66.8 31.7 L67.1 31.7 L67.4 31.72 L67.7 32.11 L68 35.48 L68.3 46.17 L68.6 54.99 L68.9 53.54 L69.2 47.73 L69.5 41.28 L69.8 37.06 L70.1 34.9 L70.4 33.83 L70.7 33.17 L71 32.68 L71.3 32.31 L71.6 32.05 L71.9 31.88 L72.2 31.77 L72.5 31.7 L72.8 31.66 L73.1 31.63 L73.4 31.6 L73.7 31.57 L74 31.53 L74.3 31.48 L74.6 31.43 L74.9 31.38 L75.2 31.31 L75.5 31.24 L75.8 31.16 L76.1 31.07 L76.4 30.98 L76.7 30.89 L77 30.79 L77.3 30.7 L77.6 30.61 L77.9 30.53 L78.2 30.46 L78.5 30.39 L78.8 30.35 L79.1 30.32 L79.4 30.3 L79.7 30.31 L80 30.33 L80.3 30.37 L80.6 30.42 L80.9 30.49 L81.2 30.57 L81.5 30.66 L81.8 30.75 L82.1 30.85 L82.4 30.96 L82.7 31.06 L83 31.16 L83.3 31.27 L83.6 31.37 L83.9 31.46 L84.2 31.56 L84.5 31.65 L84.8 31.74 L85.1 31.84 L85.4 31.94 L85.7 32.04 L86 32.15 L86.3 32.26 L86.6 32.39 L86.9 32.52 L87.2 32.67 L87.5 32.83 L87.8 33 L88.1 33.18 L88.4 33.38 L88.7 33.58 L89 33.8 L89.3 34.02 L89.6 34.24 L89.9 34.47 L90.2 34.7 L90.5 34.92 L90.8 35.13 L91.1 35.33 L91.4 35.51 L91.7 35.67 L92 35.81 L92.3 35.93 L92.6 36.01 L92.9 36.07 L93.2 36.1 L93.5 36.06 L93.8 35.88 L94.1 35.56 L94.4 36.67 L94.7 37.33 L95 38.75 L95.3 40.19 L95.6 41.67 L95.9 43.21 L96.2 44.82 L96.5 46.5 L96.8 48.23 L97.1 50.01 L97.4 51.83 L97.7 53.67 L98 55.52 L98.3 57.37 L98.6 59.22 L98.9 61.06 L99.2 62.89 L99.5 64.69 L99.8 66.47 L100.1 68.22 L100.4 69.93 L100.7 71.58 L101 73.17 L101.3 74.68 L101.6 76.08 L101.9 77.33 L102.2 78.4 L102.5 79.23 L102.8 79.78 L103.1 80 L103.4 79.93 L103.7 79.71 L104 79.33 L104.3 78.84 L104.6 78.24 L104.9 77.58 L105.2 76.86 L105.5 76.09 L105.8 75.29 L106.1 74.46 L106.4 73.61 L106.7 72.75 L107 71.87 L107.3 70.98 L107.6 70.08 L107.9 69.17 L108.2 68.26 L108.5 67.34 L108.8 66.42 L109.1 65.49 L109.4 64.56 L109.7 63.63 L110 62.69 L110.3 61.76 L110.6 60.82 L110.9 59.87 L111.2 58.93 L111.5 57.98 L111.8 57.04 L112.1 56.09 L112.4 55.14 L112.7 54.19 L113 53.24 L113.3 52.28 L113.6 51.33 L113.9 50.37 L114.2 49.42 L114.5 48.46 L114.8 47.5 L115.1 46.54 L115.4 45.57 L115.7 44.6 L116 43.62 L116.3 42.64 L116.6 41.65 L116.9 40.65 L117.2 39.63 L117.5 38.6 L117.8 37.54 L118.1 36.45 L118.4 35.32 L118.7 34.14 L119 32.96 L119.3 31.99 L119.6 31.28 L119.9 29.35 L120.2 28.85 L120.5 28.31 L120.8 27.75 L121.1 27.17 L121.4 26.58 L121.7 26 L122 25.43 L122.3 24.88 L122.6 24.38 L122.9 23.96 L123.2 23.65 L123.5 23.46 L123.8 23.41 L124.1 23.44 L124.4 23.55 L124.7 23.72 L125 23.92 L125.3 24.14 L125.6 24.36 L125.9 24.56 L126.2 24.74 L126.5 24.89 L126.8 25.01 L127.1 25.11 L127.4 25.18 L127.7 25.24 L128 25.29 L128.3 25.33 L128.6 25.36 L128.9 25.39 L129.2 25.41 L129.5 25.44 L129.8 25.46 L130.1 25.49 L130.4 25.51 L130.7 25.54 L131 25.56 L131.3 25.59 L131.6 25.61 L131.9 25.64 L132.2 25.66 L132.5 25.68 L132.8 25.71 L133.1 25.73 L133.4 25.76 L133.7 25.78 L134 25.81 L134.3 25.83 L134.6 25.86 L134.9 25.88 L135.2 25.9 L135.5 25.93 L135.8 25.95 L136.1 25.98 L136.4 26 L136.7 26.03 L137 26.05 L137.3 26.07 L137.6 26.1 L137.9 26.12 L138.2 26.15 L138.5 26.17 L138.8 26.2 L139.1 26.22 L139.4 26.25 L139.7 26.27 L140 26.29 L140.3 26.32 L140.6 26.34 L140.9 26.37 L141.2 26.39 L141.5 26.42 L141.8 26.44 L142.1 26.46 L142.4 26.49 L142.7 26.51 L143 26.54 L143.3 26.56 L143.6 26.59 L143.9 26.61 L144.2 26.64 L144.5 26.66 L144.8 26.68" stroke="#111" stroke-width="1.1" fill="none" stroke-linejoin="round"/>
<path d="M56.9 31.7 L57.2 31.7 L57.5 31.7 L57.8 31.7 L58.1 31.7 L58.4 31.7 L58.7 31.7 L59 31.7 L59.3 31.7 L59.6 31.7 L59.9 31.7 L60.2 31.7 L60.5 31.7 L60.8 31.7 L61.1 31.7 L61.4 31.7 L61.7 31.7 L62 31.7 L62.3 31.7 L62.6 31.7 L62.9 31.7 L63.2 31.7 L63.5 31.7 L63.8 31.7 L64.1 31.7 L64.4 31.7 L64.7 31.7 L65 31.7 L65.3 31.7 L65.6 31.7 L65.9 31.7 L66.2 31.7 L66.5 31.7 L66.8 31.7 L67.1 31.7 L67.4 31.72 L67.7 32.11 L68 35.48 L68.3 46.17 L68.6 54.99 L68.9 53.54 L69.2 47.73 L69.5 41.28 L69.8 37.06 L70.1 34.9 L70.4 33.83 L70.7 33.17 L71 32.68 L71.3 32.31 L71.6 32.05 L71.9 31.88 L72.2 31.77 L72.5 31.7 L72.8 31.66 L73.1 31.63 L73.4 31.6 L73.7 31.57 L74 31.53 L74.3 31.48 L74.6 31.43 L74.9 31.38 L75.2 31.31 L75.5 31.24 L75.8 31.16 L76.1 31.07 L76.4 30.98 L76.7 30.89 L77 30.79 L77.3 30.7 L77.6 30.61 L77.9 30.53 L78.2 30.46 L78.5 30.39 L78.8 30.35 L79.1 30.32 L79.4 30.3 L79.7 30.31 L80 30.33 L80.3 30.37 L80.6 30.42 L80.9 30.49 L81.2 30.57 L81.5 30.66 L81.8 30.76 L82.1 30.86 L82.4 30.96 L82.7 31.07 L83 31.17 L83.3 31.28 L83.6 31.38 L83.9 31.48 L84.2 31.58 L84.5 31.68 L84.8 31.78 L85.1 31.89 L85.4 31.99 L85.7 32.11 L86 32.23 L86.3 32.36 L86.6 32.5 L86.9 32.66 L87.2 32.83 L87.5 33.01 L87.8 33.21 L88.1 33.42 L88.4 33.65 L88.7 33.88 L89 34.13 L89.3 34.39 L89.6 34.65 L89.9 34.91 L90.2 35.17 L90.5 35.43 L90.8 35.67 L91.1 35.9 L91.4 36.11 L91.7 36.3 L92 36.47 L92.3 36.6 L92.6 36.7 L92.9 36.77 L93.2 36.8 L93.5 36.76 L93.8 36.54 L94.1 38.4 L94.4 39.74 L94.7 41.26 L95 42.76 L95.3 44.27 L95.6 45.83 L95.9 47.47 L96.2 49.18 L96.5 50.97 L96.8 52.83 L97.1 54.75 L97.4 56.71 L97.7 58.69 L98 60.69 L98.3 62.7 L98.6 64.7 L98.9 66.7 L99.2 68.68 L99.5 70.64 L99.8 72.58 L100.1 74.48 L100.4 76.33 L100.7 78.13 L101 79.86 L101.3 81.48 L101.6 82.97 L101.9 84.28 L102.2 85.35 L102.5 86.1 L102.8 86.47 L103.1 86.46 L103.4 86.22 L103.7 85.8 L104 85.22 L104.3 84.54 L104.6 83.76 L104.9 82.92 L105.2 82.04 L105.5 81.12 L105.8 80.17 L106.1 79.21 L106.4 78.22 L106.7 77.22 L107 76.22 L107.3 75.2 L107.6 74.18 L107.9 73.15 L108.2 72.11 L108.5 71.07 L108.8 70.03 L109.1 68.98 L109.4 67.93 L109.7 66.88 L110 65.83 L110.3 64.77 L110.6 63.72 L110.9 62.66 L111.2 61.6 L111.5 60.53 L111.8 59.47 L112.1 58.41 L112.4 57.34 L112.7 56.28 L113 55.21 L113.3 54.14 L113.6 53.07 L113.9 52 L114.2 50.93 L114.5 49.86 L114.8 48.78 L115.1 47.7 L115.4 46.62 L115.7 45.53 L116 44.44 L116.3 43.33 L116.6 42.22 L116.9 41.09 L117.2 39.95 L117.5 38.77 L117.8 37.57 L118.1 36.33 L118.4 35.04 L118.7 33.7 L119 32.49 L119.3 31.56 L119.6 29.26 L119.9 28.69 L120.2 28.06 L120.5 27.38 L120.8 26.66 L121.1 25.93 L121.4 25.2 L121.7 24.49 L122 23.79 L122.3 23.14 L122.6 22.55 L122.9 22.05 L123.2 21.67 L123.5 21.45 L123.8 21.38 L124.1 21.41 L124.4 21.53 L124.7 21.72 L125 21.94 L125.3 22.19 L125.6 22.43 L125.9 22.66 L126.2 22.86 L126.5 23.03 L126.8 23.17 L127.1 23.29 L127.4 23.37 L127.7 23.44 L128 23.5 L128.3 23.55 L128.6 23.59 L128.9 23.62 L129.2 23.66 L129.5 23.69 L129.8 23.72 L130.1 23.75 L130.4 23.78 L130.7 23.81 L131 23.84 L131.3 23.88 L131.6 23.91 L131.9 23.94 L132.2 23.97 L132.5 24 L132.8 24.03 L133.1 24.06 L133.4 24.09 L133.7 24.12 L134 24.16 L134.3 24.19 L134.6 24.22 L134.9 24.25 L135.2 24.28 L135.5 24.31 L135.8 24.34 L136.1 24.37 L136.4 24.41 L136.7 24.44 L137 24.47 L137.3 24.5 L137.6 24.53 L137.9 24.56 L138.2 24.59 L138.5 24.62 L138.8 24.66 L139.1 24.69 L139.4 24.72 L139.7 24.75 L140 24.78 L140.3 24.81 L140.6 24.84 L140.9 24.87 L141.2 24.9 L141.5 24.94 L141.8 24.97 L142.1 25 L142.4 25.03 L142.7 25.06 L143 25.09 L143.3 25.12 L143.6 25.15 L143.9 25.19 L144.2 25.22 L144.5 25.25 L144.8 25.28" stroke="#111" stroke-width="1.1" fill="none" stroke-linejoin="round"/>
<path d="M56.9 31.7 L57.2 31.7 L57.5 31.7 L57.8 31.7 L58.1 31.7 L58.4 31.7 L58.7 31.7 L59 31.7 L59.3 31.7 L59.6 31.7 L59.9 31.7 L60.2 31.7 L60.5 31.7 L60.8 31.7 L61.1 31.7 L61.4 31.7 L61.7 31.7 L62 31.7 L62.3 31.7 L62.6 31.7 L62.9 31.7 L63.2 31.7 L63.5 31.7 L63.8 31.7 L64.1 31.7 L64.4 31.7 L64.7 31.7 L65 31.7 L65.3 31.7 L65.6 31.7 L65.9 31.7 L66.2 31.7 L66.5 31.7 L66.8 31.7 L67.1 31.7 L67.4 31.72 L67.7 32.11 L68 35.48 L68.3 46.17 L68.6 54.99 L68.9 53.54 L69.2 47.73 L69.5 41.28 L69.8 37.06 L70.1 34.9 L70.4 33.83 L70.7 33.17 L71 32.68 L71.3 32.31 L71.6 32.05 L71.9 31.88 L72.2 31.77 L72.5 31.7 L72.8 31.66 L73.1 31.63 L73.4 31.6 L73.7 31.57 L74 31.53 L74.3 31.48 L74.6 31.43 L74.9 31.38 L75.2 31.31 L75.5 31.24 L75.8 31.16 L76.1 31.07 L76.4 30.98 L76.7 30.89 L77 30.79 L77.3 30.7 L77.6 30.61 L77.9 30.53 L78.2 30.46 L78.5 30.39 L78.8 30.35 L79.1 30.32 L79.4 30.3 L79.7 30.31 L80 30.33 L80.3 30.37 L80.6 30.42 L80.9 30.49 L81.2 30.57 L81.5 30.66 L81.8 30.76 L82.1 30.86 L82.4 30.97 L82.7 31.08 L83 31.18 L83.3 31.29 L83.6 31.4 L83.9 31.5 L84.2 31.61 L84.5 31.71 L84.8 31.82 L85.1 31.93 L85.4 32.05 L85.7 32.18 L86 32.31 L86.3 32.46 L86.6 32.62 L86.9 32.8 L87.2 32.99 L87.5 33.19 L87.8 33.42 L88.1 33.66 L88.4 33.91 L88.7 34.18 L89 34.47 L89.3 34.76 L89.6 35.05 L89.9 35.35 L90.2 35.65 L90.5 35.94 L90.8 36.22 L91.1 36.48 L91.4 36.72 L91.7 36.94 L92 37.12 L92.3 37.27 L92.6 37.39 L92.9 37.46 L93.2 39.42 L93.5 40.17 L93.8 41.97 L94.1 43.83 L94.4 45.55 L94.7 47.19 L95 48.8 L95.3 50.42 L95.6 52.11 L95.9 53.87 L96.2 55.73 L96.5 57.68 L96.8 59.7 L97.1 61.79 L97.4 63.93 L97.7 66.11 L98 68.3 L98.3 70.5 L98.6 72.7 L98.9 74.9 L99.2 77.08 L99.5 79.25 L99.8 81.39 L100.1 83.49 L100.4 85.55 L100.7 87.54 L101 89.44 L101.3 91.22 L101.6 92.81 L101.9 94.14 L102.2 95.1 L102.5 95.57 L102.8 95.53 L103.1 95.19 L103.4 94.61 L103.7 93.85 L104 92.96 L104.3 91.99 L104.6 90.96 L104.9 89.89 L105.2 88.79 L105.5 87.66 L105.8 86.52 L106.1 85.36 L106.4 84.19 L106.7 83.02 L107 81.83 L107.3 80.65 L107.6 79.45 L107.9 78.26 L108.2 77.06 L108.5 75.85 L108.8 74.65 L109.1 73.44 L109.4 72.23 L109.7 71.02 L110 69.81 L110.3 68.59 L110.6 67.38 L110.9 66.16 L111.2 64.95 L111.5 63.73 L111.8 62.51 L112.1 61.29 L112.4 60.07 L112.7 58.85 L113 57.63 L113.3 56.4 L113.6 55.18 L113.9 53.95 L114.2 52.73 L114.5 51.5 L114.8 50.27 L115.1 49.03 L115.4 47.79 L115.7 46.55 L116 45.3 L116.3 44.03 L116.6 42.76 L116.9 41.47 L117.2 40.15 L117.5 38.81 L117.8 37.43 L118.1 36.01 L118.4 34.52 L118.7 33.14 L119 32.08 L119.3 31.31 L119.6 28.8 L119.9 28.12 L120.2 27.37 L120.5 26.55 L120.8 25.68 L121.1 24.79 L121.4 23.89 L121.7 22.99 L122 22.11 L122.3 21.26 L122.6 20.48 L122.9 19.82 L123.2 19.33 L123.5 19.04 L123.8 18.96 L124.1 19.02 L124.4 19.19 L124.7 19.46 L125 19.78 L125.3 20.13 L125.6 20.48 L125.9 20.8 L126.2 21.08 L126.5 21.32 L126.8 21.52 L127.1 21.67 L127.4 21.79 L127.7 21.88 L128 21.95 L128.3 22.01 L128.6 22.06 L128.9 22.11 L129.2 22.15 L129.5 22.18 L129.8 22.22 L130.1 22.26 L130.4 22.3 L130.7 22.33 L131 22.37 L131.3 22.41 L131.6 22.45 L131.9 22.48 L132.2 22.52 L132.5 22.56 L132.8 22.59 L133.1 22.63 L133.4 22.67 L133.7 22.7 L134 22.74 L134.3 22.78 L134.6 22.82 L134.9 22.85 L135.2 22.89 L135.5 22.93 L135.8 22.96 L136.1 23 L136.4 23.04 L136.7 23.07 L137 23.11 L137.3 23.15 L137.6 23.19 L137.9 23.22 L138.2 23.26 L138.5 23.3 L138.8 23.33 L139.1 23.37 L139.4 23.41 L139.7 23.45 L140 23.48 L140.3 23.52 L140.6 23.56 L140.9 23.59 L141.2 23.63 L141.5 23.67 L141.8 23.7 L142.1 23.74 L142.4 23.78 L142.7 23.82 L143 23.85 L143.3 23.89 L143.6 23.93 L143.9 23.96 L144.2 24 L144.5 24.04 L144.8 24.08" stroke="#111" stroke-width="1.1" fill="none" stroke-linejoin="round"/>
<path d="M163.9 29.8 L164.2 29.8 L164.5 29.8 L164.8 29.8 L165.1 29.8 L165.4 29.8 L165.7 29.8 L166 29.8 L166.3 29.8 L166.6 29.8 L166.9 29.8 L167.2 29.8 L167.5 29.8 L167.8 29.8 L168.1 29.8 L168.4 29.8 L168.7 29.8 L169 29.8 L169.3 29.8 L169.6 29.8 L169.9 29.8 L170.2 29.8 L170.5 29.8 L170.8 29.8 L171.1 29.8 L171.4 29.8 L171.7 29.8 L172 29.8 L172.3 29.8 L172.6 29.8 L172.9 29.8 L173.2 29.8 L173.5 29.8 L173.8 29.8 L174.1 29.8 L174.4 29.83 L174.7 30.54 L175 36.65 L175.3 55.77 L175.6 70.3 L175.9 63.5 L176.2 49.22 L176.5 37.52 L176.8 31.83 L177.1 29.89 L177.4 29.09 L177.7 28.25 L178 27.04 L178.3 25.6 L178.6 24.28 L178.9 23.55 L179.2 23.53 L179.5 23.7 L179.8 23.99 L180.1 24.4 L180.4 24.89 L180.7 25.44 L181 26.02 L181.3 26.59 L181.6 27.14 L181.9 27.64 L182.2 28.09 L182.5 28.48 L182.8 28.8 L183.1 29.06 L183.4 29.27 L183.7 29.42 L184 29.54 L184.3 29.63 L184.6 29.68 L184.9 29.73 L185.2 29.75 L185.5 29.77 L185.8 29.78 L186.1 29.79 L186.4 29.8 L186.7 29.8 L187 29.8 L187.3 29.8 L187.6 29.8 L187.9 29.8 L188.2 29.8 L188.5 29.8 L188.8 29.81 L189.1 29.81 L189.4 29.81 L189.7 29.81 L190 29.81 L190.3 29.81 L190.6 29.82 L190.9 29.82 L191.2 29.82 L191.5 29.82 L191.8 29.83 L192.1 29.83 L192.4 29.84 L192.7 29.84 L193 29.85 L193.3 29.85 L193.6 29.86 L193.9 29.87 L194.2 29.88 L194.5 29.88 L194.8 29.89 L195.1 29.9 L195.4 29.91 L195.7 29.92 L196 29.94 L196.3 29.95 L196.6 29.96 L196.9 29.97 L197.2 29.98 L197.5 29.99 L197.8 30.01 L198.1 30.02 L198.4 30.03 L198.7 30.04 L199 30.05 L199.3 30.06 L199.6 30.07 L199.9 30.08 L200.2 30.08 L200.5 30.09 L200.8 30.09 L201.1 30.1 L201.4 30.1 L201.7 30.1 L202 30.1 L202.3 30.08 L202.6 30.06 L202.9 30.03 L203.2 30 L203.5 29.97 L203.8 29.93 L204.1 29.9 L204.4 29.87 L204.7 29.85 L205 29.84 L205.3 29.82 L205.6 29.82 L205.9 29.81 L206.2 29.81 L206.5 29.8 L206.8 29.8 L207.1 29.8 L207.4 29.8 L207.7 29.8 L208 29.8 L208.3 29.8 L208.6 29.8 L208.9 29.8 L209.2 29.8 L209.5 29.8 L209.8 29.8 L210.1 29.8 L210.4 29.8 L210.7 29.8 L211 29.8 L211.3 29.8 L211.6 29.8 L211.9 29.8 L212.2 29.8 L212.5 29.8 L212.8 29.8 L213.1 29.8 L213.4 29.8 L213.7 29.8 L214 29.8 L214.3 29.8 L214.6 29.8 L214.9 29.8 L215.2 29.8 L215.5 29.8 L215.8 29.8 L216.1 29.8 L216.4 29.8 L216.7 29.8 L217 29.8 L217.3 29.8 L217.6 29.8 L217.9 29.8 L218.2 29.8 L218.5 29.79 L218.8 29.79 L219.1 29.79 L219.4 29.79 L219.7 29.79 L220 29.78 L220.3 29.78 L220.6 29.78 L220.9 29.77 L221.2 29.77 L221.5 29.76 L221.8 29.75 L222.1 29.74 L222.4 29.73 L222.7 29.72 L223 29.71 L223.3 29.7 L223.6 29.69 L223.9 29.67 L224.2 29.66 L224.5 29.64 L224.8 29.62 L225.1 29.61 L225.4 29.59 L225.7 29.57 L226 29.55 L226.3 29.53 L226.6 29.51 L226.9 29.5 L227.2 29.48 L227.5 29.46 L227.8 29.45 L228.1 29.44 L228.4 29.43 L228.7 29.42 L229 29.41 L229.3 29.4 L229.6 29.4 L229.9 29.4 L230.2 29.4 L230.5 29.4 L230.8 29.4 L231.1 29.4 L231.4 29.4 L231.7 29.4 L232 29.4 L232.3 29.41 L232.6 29.41 L232.9 29.41 L233.2 29.41 L233.5 29.41 L233.8 29.41 L234.1 29.41 L234.4 29.42 L234.7 29.42 L235 29.42 L235.3 29.42 L235.6 29.43 L235.9 29.43 L236.2 29.43 L236.5 29.44 L236.8 29.44 L237.1 29.44 L237.4 29.44 L237.7 29.45 L238 29.45 L238.3 29.46 L238.6 29.46 L238.9 29.46 L239.2 29.47 L239.5 29.47 L239.8 29.47 L240.1 29.48 L240.4 29.48 L240.7 29.49 L241 29.49 L241.3 29.5 L241.6 29.5 L241.9 29.5 L242.2 29.51 L242.5 29.51 L242.8 29.52 L243.1 29.52 L243.4 29.53 L243.7 29.53 L244 29.54 L244.3 29.54 L244.6 29.55 L244.9 29.55 L245.2 29.55 L245.5 29.56 L245.8 29.56 L246.1 29.57 L246.4 29.57 L246.7 29.58 L247 29.58 L247.3 29.59 L247.6 29.59 L247.9 29.6 L248.2 29.6 L248.5 29.61 L248.8 29.61 L249.1 29.61 L249.4 29.62 L249.7 29.62 L250 29.63 L250.3 29.63 L250.6 29.64 L250.9 29.64 L251.2 29.64 L251.5 29.65 L251.8 29.65" stroke="#e8221c" stroke-width="0.95" fill="none" stroke-linejoin="round"/>
<path d="M163.9 29.8 L164.2 29.8 L164.5 29.8 L164.8 29.8 L165.1 29.8 L165.4 29.8 L165.7 29.8 L166 29.8 L166.3 29.8 L166.6 29.8 L166.9 29.8 L167.2 29.8 L167.5 29.8 L167.8 29.8 L168.1 29.8 L168.4 29.8 L168.7 29.8 L169 29.8 L169.3 29.8 L169.6 29.8 L169.9 29.8 L170.2 29.8 L170.5 29.8 L170.8 29.8 L171.1 29.8 L171.4 29.8 L171.7 29.8 L172 29.8 L172.3 29.8 L172.6 29.8 L172.9 29.8 L173.2 29.8 L173.5 29.8 L173.8 29.8 L174.1 29.8 L174.4 29.83 L174.7 30.54 L175 36.65 L175.3 55.77 L175.6 70.3 L175.9 63.5 L176.2 49.22 L176.5 37.52 L176.8 31.83 L177.1 29.89 L177.4 29.09 L177.7 28.25 L178 27.04 L178.3 25.6 L178.6 24.28 L178.9 23.55 L179.2 23.53 L179.5 23.7 L179.8 23.99 L180.1 24.4 L180.4 24.89 L180.7 25.44 L181 26.02 L181.3 26.59 L181.6 27.14 L181.9 27.64 L182.2 28.09 L182.5 28.48 L182.8 28.8 L183.1 29.06 L183.4 29.27 L183.7 29.42 L184 29.54 L184.3 29.63 L184.6 29.69 L184.9 29.73 L185.2 29.75 L185.5 29.77 L185.8 29.78 L186.1 29.79 L186.4 29.8 L186.7 29.8 L187 29.8 L187.3 29.8 L187.6 29.81 L187.9 29.81 L188.2 29.81 L188.5 29.81 L188.8 29.81 L189.1 29.82 L189.4 29.82 L189.7 29.83 L190 29.83 L190.3 29.83 L190.6 29.84 L190.9 29.85 L191.2 29.86 L191.5 29.86 L191.8 29.88 L192.1 29.89 L192.4 29.9 L192.7 29.91 L193 29.93 L193.3 29.94 L193.6 29.96 L193.9 29.98 L194.2 30 L194.5 30.03 L194.8 30.05 L195.1 30.08 L195.4 30.1 L195.7 30.13 L196 30.16 L196.3 30.19 L196.6 30.22 L196.9 30.25 L197.2 30.28 L197.5 30.32 L197.8 30.35 L198.1 30.38 L198.4 30.41 L198.7 30.44 L199 30.46 L199.3 30.49 L199.6 30.51 L199.9 30.53 L200.2 30.55 L200.5 30.57 L200.8 30.58 L201.1 30.59 L201.4 30.6 L201.7 30.72 L202 30.87 L202.3 31.01 L202.6 31.11 L202.9 31.2 L203.2 31.28 L203.5 31.34 L203.8 31.41 L204.1 31.49 L204.4 31.57 L204.7 31.67 L205 31.77 L205.3 31.88 L205.6 31.99 L205.9 32.1 L206.2 32.21 L206.5 32.31 L206.8 32.4 L207.1 32.48 L207.4 32.54 L207.7 32.58 L208 32.6 L208.3 32.6 L208.6 32.58 L208.9 32.56 L209.2 32.53 L209.5 32.49 L209.8 32.44 L210.1 32.38 L210.4 32.32 L210.7 32.26 L211 32.19 L211.3 32.12 L211.6 32.05 L211.9 31.98 L212.2 31.9 L212.5 31.83 L212.8 31.75 L213.1 31.67 L213.4 31.59 L213.7 31.51 L214 31.43 L214.3 31.35 L214.6 31.27 L214.9 31.18 L215.2 31.1 L215.5 31.02 L215.8 30.93 L216.1 30.85 L216.4 30.76 L216.7 30.68 L217 30.59 L217.3 30.51 L217.6 30.42 L217.9 30.34 L218.2 30.25 L218.5 30.16 L218.8 30.07 L219.1 29.98 L219.4 29.9 L219.7 29.85 L220 29.76 L220.3 29.75 L220.6 29.74 L220.9 29.73 L221.2 29.71 L221.5 29.7 L221.8 29.68 L222.1 29.66 L222.4 29.64 L222.7 29.61 L223 29.58 L223.3 29.55 L223.6 29.52 L223.9 29.48 L224.2 29.45 L224.5 29.4 L224.8 29.36 L225.1 29.32 L225.4 29.27 L225.7 29.23 L226 29.18 L226.3 29.13 L226.6 29.09 L226.9 29.04 L227.2 29 L227.5 28.96 L227.8 28.92 L228.1 28.89 L228.4 28.86 L228.7 28.84 L229 28.82 L229.3 28.81 L229.6 28.8 L229.9 28.8 L230.2 28.8 L230.5 28.8 L230.8 28.8 L231.1 28.8 L231.4 28.81 L231.7 28.81 L232 28.81 L232.3 28.81 L232.6 28.82 L232.9 28.82 L233.2 28.82 L233.5 28.83 L233.8 28.83 L234.1 28.84 L234.4 28.84 L234.7 28.85 L235 28.85 L235.3 28.86 L235.6 28.87 L235.9 28.87 L236.2 28.88 L236.5 28.89 L236.8 28.9 L237.1 28.9 L237.4 28.91 L237.7 28.92 L238 28.93 L238.3 28.94 L238.6 28.95 L238.9 28.96 L239.2 28.97 L239.5 28.98 L239.8 28.99 L240.1 29 L240.4 29.01 L240.7 29.02 L241 29.03 L241.3 29.04 L241.6 29.05 L241.9 29.06 L242.2 29.07 L242.5 29.08 L242.8 29.09 L243.1 29.11 L243.4 29.12 L243.7 29.13 L244 29.14 L244.3 29.15 L244.6 29.16 L244.9 29.18 L245.2 29.19 L245.5 29.2 L245.8 29.21 L246.1 29.22 L246.4 29.23 L246.7 29.25 L247 29.26 L247.3 29.27 L247.6 29.28 L247.9 29.29 L248.2 29.3 L248.5 29.31 L248.8 29.33 L249.1 29.34 L249.4 29.35 L249.7 29.36 L250 29.37 L250.3 29.38 L250.6 29.39 L250.9 29.4 L251.2 29.41 L251.5 29.42 L251.8 29.43" stroke="#e8221c" stroke-width="0.95" fill="none" stroke-linejoin="round"/>
<path d="M163.9 29.8 L164.2 29.8 L164.5 29.8 L164.8 29.8 L165.1 29.8 L165.4 29.8 L165.7 29.8 L166 29.8 L166.3 29.8 L166.6 29.8 L166.9 29.8 L167.2 29.8 L167.5 29.8 L167.8 29.8 L168.1 29.8 L168.4 29.8 L168.7 29.8 L169 29.8 L169.3 29.8 L169.6 29.8 L169.9 29.8 L170.2 29.8 L170.5 29.8 L170.8 29.8 L171.1 29.8 L171.4 29.8 L171.7 29.8 L172 29.8 L172.3 29.8 L172.6 29.8 L172.9 29.8 L173.2 29.8 L173.5 29.8 L173.8 29.8 L174.1 29.8 L174.4 29.83 L174.7 30.54 L175 36.65 L175.3 55.77 L175.6 70.3 L175.9 63.5 L176.2 49.22 L176.5 37.52 L176.8 31.83 L177.1 29.89 L177.4 29.09 L177.7 28.25 L178 27.04 L178.3 25.6 L178.6 24.28 L178.9 23.55 L179.2 23.53 L179.5 23.7 L179.8 23.99 L180.1 24.4 L180.4 24.89 L180.7 25.44 L181 26.02 L181.3 26.59 L181.6 27.14 L181.9 27.65 L182.2 28.09 L182.5 28.48 L182.8 28.8 L183.1 29.06 L183.4 29.27 L183.7 29.42 L184 29.54 L184.3 29.63 L184.6 29.69 L184.9 29.73 L185.2 29.76 L185.5 29.77 L185.8 29.79 L186.1 29.79 L186.4 29.8 L186.7 29.8 L187 29.81 L187.3 29.81 L187.6 29.81 L187.9 29.82 L188.2 29.82 L188.5 29.82 L188.8 29.83 L189.1 29.84 L189.4 29.84 L189.7 29.85 L190 29.86 L190.3 29.87 L190.6 29.88 L190.9 29.9 L191.2 29.91 L191.5 29.93 L191.8 29.95 L192.1 29.97 L192.4 30 L192.7 30.03 L193 30.06 L193.3 30.09 L193.6 30.13 L193.9 30.17 L194.2 30.21 L194.5 30.25 L194.8 30.3 L195.1 30.35 L195.4 30.41 L195.7 30.46 L196 30.52 L196.3 30.58 L196.6 30.64 L196.9 30.71 L197.2 30.77 L197.5 30.83 L197.8 30.9 L198.1 30.96 L198.4 31.02 L198.7 31.07 L199 31.13 L199.3 31.18 L199.6 31.23 L199.9 31.27 L200.2 31.31 L200.5 31.34 L200.8 31.36 L201.1 31.38 L201.4 31.39 L201.7 31.98 L202 32.59 L202.3 33.16 L202.6 33.68 L202.9 34.16 L203.2 34.61 L203.5 35.04 L203.8 35.48 L204.1 35.92 L204.4 36.39 L204.7 36.86 L205 37.35 L205.3 37.85 L205.6 38.36 L205.9 38.85 L206.2 39.34 L206.5 39.79 L206.8 40.22 L207.1 40.59 L207.4 40.91 L207.7 41.16 L208 41.32 L208.3 41.4 L208.6 41.39 L208.9 41.32 L209.2 41.21 L209.5 41.06 L209.8 40.88 L210.1 40.66 L210.4 40.42 L210.7 40.17 L211 39.89 L211.3 39.61 L211.6 39.31 L211.9 39.01 L212.2 38.7 L212.5 38.38 L212.8 38.06 L213.1 37.73 L213.4 37.4 L213.7 37.07 L214 36.74 L214.3 36.4 L214.6 36.06 L214.9 35.72 L215.2 35.38 L215.5 35.04 L215.8 34.69 L216.1 34.34 L216.4 34 L216.7 33.65 L217 33.3 L217.3 32.95 L217.6 32.6 L217.9 32.24 L218.2 31.89 L218.5 31.53 L218.8 31.18 L219.1 30.82 L219.4 30.46 L219.7 30.17 L220 30.07 L220.3 29.7 L220.6 29.68 L220.9 29.66 L221.2 29.64 L221.5 29.61 L221.8 29.57 L222.1 29.53 L222.4 29.49 L222.7 29.44 L223 29.39 L223.3 29.33 L223.6 29.27 L223.9 29.2 L224.2 29.13 L224.5 29.05 L224.8 28.97 L225.1 28.88 L225.4 28.8 L225.7 28.71 L226 28.62 L226.3 28.53 L226.6 28.45 L226.9 28.36 L227.2 28.28 L227.5 28.2 L227.8 28.14 L228.1 28.07 L228.4 28.02 L228.7 27.97 L229 27.94 L229.3 27.92 L229.6 27.9 L229.9 27.9 L230.2 27.9 L230.5 27.9 L230.8 27.9 L231.1 27.91 L231.4 27.91 L231.7 27.91 L232 27.92 L232.3 27.92 L232.6 27.93 L232.9 27.94 L233.2 27.94 L233.5 27.95 L233.8 27.96 L234.1 27.97 L234.4 27.98 L234.7 27.99 L235 28 L235.3 28.02 L235.6 28.03 L235.9 28.04 L236.2 28.05 L236.5 28.07 L236.8 28.08 L237.1 28.1 L237.4 28.11 L237.7 28.13 L238 28.15 L238.3 28.16 L238.6 28.18 L238.9 28.2 L239.2 28.22 L239.5 28.24 L239.8 28.25 L240.1 28.27 L240.4 28.29 L240.7 28.31 L241 28.33 L241.3 28.35 L241.6 28.38 L241.9 28.4 L242.2 28.42 L242.5 28.44 L242.8 28.46 L243.1 28.48 L243.4 28.5 L243.7 28.53 L244 28.55 L244.3 28.57 L244.6 28.59 L244.9 28.61 L245.2 28.64 L245.5 28.66 L245.8 28.68 L246.1 28.7 L246.4 28.72 L246.7 28.75 L247 28.77 L247.3 28.79 L247.6 28.81 L247.9 28.83 L248.2 28.86 L248.5 28.88 L248.8 28.9 L249.1 28.92 L249.4 28.94 L249.7 28.96 L250 28.98 L250.3 29 L250.6 29.02 L250.9 29.04 L251.2 29.06 L251.5 29.08 L251.8 29.1" stroke="#e8221c" stroke-width="0.95" fill="none" stroke-linejoin="round"/>
<path d="M163.9 29.8 L164.2 29.8 L164.5 29.8 L164.8 29.8 L165.1 29.8 L165.4 29.8 L165.7 29.8 L166 29.8 L166.3 29.8 L166.6 29.8 L166.9 29.8 L167.2 29.8 L167.5 29.8 L167.8 29.8 L168.1 29.8 L168.4 29.8 L168.7 29.8 L169 29.8 L169.3 29.8 L169.6 29.8 L169.9 29.8 L170.2 29.8 L170.5 29.8 L170.8 29.8 L171.1 29.8 L171.4 29.8 L171.7 29.8 L172 29.8 L172.3 29.8 L172.6 29.8 L172.9 29.8 L173.2 29.8 L173.5 29.8 L173.8 29.8 L174.1 29.8 L174.4 29.83 L174.7 30.54 L175 36.65 L175.3 55.77 L175.6 70.3 L175.9 63.5 L176.2 49.22 L176.5 37.52 L176.8 31.83 L177.1 29.89 L177.4 29.09 L177.7 28.25 L178 27.04 L178.3 25.6 L178.6 24.28 L178.9 23.55 L179.2 23.53 L179.5 23.7 L179.8 23.99 L180.1 24.4 L180.4 24.89 L180.7 25.44 L181 26.02 L181.3 26.59 L181.6 27.14 L181.9 27.65 L182.2 28.09 L182.5 28.48 L182.8 28.8 L183.1 29.06 L183.4 29.27 L183.7 29.42 L184 29.54 L184.3 29.63 L184.6 29.69 L184.9 29.73 L185.2 29.76 L185.5 29.78 L185.8 29.79 L186.1 29.8 L186.4 29.8 L186.7 29.81 L187 29.81 L187.3 29.81 L187.6 29.82 L187.9 29.82 L188.2 29.83 L188.5 29.83 L188.8 29.84 L189.1 29.85 L189.4 29.86 L189.7 29.87 L190 29.88 L190.3 29.9 L190.6 29.91 L190.9 29.93 L191.2 29.95 L191.5 29.98 L191.8 30.01 L192.1 30.04 L192.4 30.07 L192.7 30.11 L193 30.15 L193.3 30.2 L193.6 30.25 L193.9 30.3 L194.2 30.36 L194.5 30.42 L194.8 30.49 L195.1 30.56 L195.4 30.63 L195.7 30.71 L196 30.79 L196.3 30.88 L196.6 30.96 L196.9 31.05 L197.2 31.13 L197.5 31.22 L197.8 31.31 L198.1 31.39 L198.4 31.47 L198.7 31.55 L199 31.63 L199.3 31.7 L199.6 31.76 L199.9 31.82 L200.2 31.87 L200.5 31.91 L200.8 31.95 L201.1 31.97 L201.4 31.99 L201.7 32.78 L202 33.56 L202.3 34.27 L202.6 34.91 L202.9 35.5 L203.2 36.05 L203.5 36.58 L203.8 37.11 L204.1 37.66 L204.4 38.23 L204.7 38.83 L205 39.44 L205.3 40.08 L205.6 40.72 L205.9 41.36 L206.2 41.99 L206.5 42.59 L206.8 43.15 L207.1 43.67 L207.4 44.11 L207.7 44.47 L208 44.73 L208.3 44.87 L208.6 44.9 L208.9 44.84 L209.2 44.71 L209.5 44.53 L209.8 44.3 L210.1 44.02 L210.4 43.72 L210.7 43.38 L211 43.03 L211.3 42.66 L211.6 42.27 L211.9 41.88 L212.2 41.47 L212.5 41.06 L212.8 40.64 L213.1 40.22 L213.4 39.79 L213.7 39.36 L214 38.92 L214.3 38.48 L214.6 38.04 L214.9 37.6 L215.2 37.16 L215.5 36.71 L215.8 36.26 L216.1 35.81 L216.4 35.36 L216.7 34.91 L217 34.46 L217.3 34 L217.6 33.54 L217.9 33.08 L218.2 32.62 L218.5 32.16 L218.8 31.7 L219.1 31.23 L219.4 30.76 L219.7 30.35 L220 30.15 L220.3 29.67 L220.6 29.64 L220.9 29.61 L221.2 29.57 L221.5 29.53 L221.8 29.49 L222.1 29.43 L222.4 29.37 L222.7 29.31 L223 29.24 L223.3 29.16 L223.6 29.07 L223.9 28.98 L224.2 28.88 L224.5 28.77 L224.8 28.66 L225.1 28.55 L225.4 28.43 L225.7 28.31 L226 28.19 L226.3 28.07 L226.6 27.95 L226.9 27.83 L227.2 27.72 L227.5 27.62 L227.8 27.52 L228.1 27.44 L228.4 27.36 L228.7 27.3 L229 27.25 L229.3 27.22 L229.6 27.2 L229.9 27.2 L230.2 27.2 L230.5 27.2 L230.8 27.21 L231.1 27.21 L231.4 27.21 L231.7 27.22 L232 27.23 L232.3 27.23 L232.6 27.24 L232.9 27.25 L233.2 27.26 L233.5 27.27 L233.8 27.28 L234.1 27.3 L234.4 27.31 L234.7 27.33 L235 27.34 L235.3 27.36 L235.6 27.37 L235.9 27.39 L236.2 27.41 L236.5 27.43 L236.8 27.45 L237.1 27.47 L237.4 27.49 L237.7 27.51 L238 27.54 L238.3 27.56 L238.6 27.58 L238.9 27.61 L239.2 27.63 L239.5 27.66 L239.8 27.69 L240.1 27.71 L240.4 27.74 L240.7 27.77 L241 27.79 L241.3 27.82 L241.6 27.85 L241.9 27.88 L242.2 27.91 L242.5 27.94 L242.8 27.97 L243.1 28 L243.4 28.03 L243.7 28.06 L244 28.09 L244.3 28.12 L244.6 28.15 L244.9 28.18 L245.2 28.21 L245.5 28.24 L245.8 28.27 L246.1 28.3 L246.4 28.33 L246.7 28.36 L247 28.39 L247.3 28.42 L247.6 28.45 L247.9 28.48 L248.2 28.51 L248.5 28.54 L248.8 28.57 L249.1 28.6 L249.4 28.62 L249.7 28.65 L250 28.68 L250.3 28.71 L250.6 28.74 L250.9 28.76 L251.2 28.79 L251.5 28.82 L251.8 28.84" stroke="#e8221c" stroke-width="0.95" fill="none" stroke-linejoin="round"/>
<path d="M163.9 29.8 L164.2 29.8 L164.5 29.8 L164.8 29.8 L165.1 29.8 L165.4 29.8 L165.7 29.8 L166 29.8 L166.3 29.8 L166.6 29.8 L166.9 29.8 L167.2 29.8 L167.5 29.8 L167.8 29.8 L168.1 29.8 L168.4 29.8 L168.7 29.8 L169 29.8 L169.3 29.8 L169.6 29.8 L169.9 29.8 L170.2 29.8 L170.5 29.8 L170.8 29.8 L171.1 29.8 L171.4 29.8 L171.7 29.8 L172 29.8 L172.3 29.8 L172.6 29.8 L172.9 29.8 L173.2 29.8 L173.5 29.8 L173.8 29.8 L174.1 29.8 L174.4 29.83 L174.7 30.54 L175 36.65 L175.3 55.77 L175.6 70.3 L175.9 63.5 L176.2 49.22 L176.5 37.52 L176.8 31.83 L177.1 29.89 L177.4 29.09 L177.7 28.25 L178 27.04 L178.3 25.6 L178.6 24.28 L178.9 23.55 L179.2 23.53 L179.5 23.7 L179.8 23.99 L180.1 24.4 L180.4 24.89 L180.7 25.44 L181 26.02 L181.3 26.59 L181.6 27.14 L181.9 27.65 L182.2 28.09 L182.5 28.48 L182.8 28.8 L183.1 29.06 L183.4 29.27 L183.7 29.42 L184 29.54 L184.3 29.63 L184.6 29.69 L184.9 29.73 L185.2 29.76 L185.5 29.78 L185.8 29.79 L186.1 29.8 L186.4 29.8 L186.7 29.81 L187 29.81 L187.3 29.82 L187.6 29.82 L187.9 29.83 L188.2 29.84 L188.5 29.84 L188.8 29.85 L189.1 29.86 L189.4 29.87 L189.7 29.89 L190 29.9 L190.3 29.92 L190.6 29.94 L190.9 29.97 L191.2 30 L191.5 30.03 L191.8 30.06 L192.1 30.1 L192.4 30.15 L192.7 30.19 L193 30.25 L193.3 30.31 L193.6 30.37 L193.9 30.44 L194.2 30.51 L194.5 30.59 L194.8 30.68 L195.1 30.77 L195.4 30.86 L195.7 30.96 L196 31.06 L196.3 31.17 L196.6 31.28 L196.9 31.39 L197.2 31.5 L197.5 31.61 L197.8 31.72 L198.1 31.83 L198.4 31.93 L198.7 32.03 L199 32.13 L199.3 32.21 L199.6 32.3 L199.9 32.37 L200.2 32.44 L200.5 32.49 L200.8 32.53 L201.1 32.57 L201.4 33.19 L201.7 33.68 L202 34.68 L202.3 35.59 L202.6 36.41 L202.9 37.15 L203.2 37.85 L203.5 38.53 L203.8 39.22 L204.1 39.92 L204.4 40.66 L204.7 41.43 L205 42.24 L205.3 43.07 L205.6 43.91 L205.9 44.76 L206.2 45.59 L206.5 46.4 L206.8 47.17 L207.1 47.88 L207.4 48.53 L207.7 49.07 L208 49.5 L208.3 49.78 L208.6 49.9 L208.9 49.87 L209.2 49.74 L209.5 49.53 L209.8 49.24 L210.1 48.89 L210.4 48.49 L210.7 48.05 L211 47.58 L211.3 47.09 L211.6 46.58 L211.9 46.05 L212.2 45.51 L212.5 44.96 L212.8 44.4 L213.1 43.84 L213.4 43.27 L213.7 42.7 L214 42.12 L214.3 41.54 L214.6 40.95 L214.9 40.36 L215.2 39.77 L215.5 39.18 L215.8 38.58 L216.1 37.99 L216.4 37.39 L216.7 36.79 L217 36.19 L217.3 35.58 L217.6 34.97 L217.9 34.37 L218.2 33.76 L218.5 33.14 L218.8 32.53 L219.1 31.91 L219.4 31.29 L219.7 30.68 L220 30.32 L220.3 29.63 L220.6 29.6 L220.9 29.56 L221.2 29.51 L221.5 29.46 L221.8 29.4 L222.1 29.34 L222.4 29.26 L222.7 29.18 L223 29.08 L223.3 28.98 L223.6 28.87 L223.9 28.76 L224.2 28.63 L224.5 28.5 L224.8 28.36 L225.1 28.21 L225.4 28.06 L225.7 27.91 L226 27.75 L226.3 27.6 L226.6 27.45 L226.9 27.3 L227.2 27.16 L227.5 27.03 L227.8 26.91 L228.1 26.8 L228.4 26.71 L228.7 26.63 L229 26.57 L229.3 26.53 L229.6 26.5 L229.9 26.5 L230.2 26.5 L230.5 26.5 L230.8 26.51 L231.1 26.51 L231.4 26.52 L231.7 26.52 L232 26.53 L232.3 26.54 L232.6 26.55 L232.9 26.56 L233.2 26.58 L233.5 26.59 L233.8 26.61 L234.1 26.62 L234.4 26.64 L234.7 26.66 L235 26.68 L235.3 26.7 L235.6 26.72 L235.9 26.74 L236.2 26.77 L236.5 26.79 L236.8 26.82 L237.1 26.84 L237.4 26.87 L237.7 26.9 L238 26.93 L238.3 26.96 L238.6 26.99 L238.9 27.02 L239.2 27.05 L239.5 27.08 L239.8 27.12 L240.1 27.15 L240.4 27.18 L240.7 27.22 L241 27.25 L241.3 27.29 L241.6 27.33 L241.9 27.36 L242.2 27.4 L242.5 27.44 L242.8 27.47 L243.1 27.51 L243.4 27.55 L243.7 27.59 L244 27.62 L244.3 27.66 L244.6 27.7 L244.9 27.74 L245.2 27.78 L245.5 27.82 L245.8 27.86 L246.1 27.89 L246.4 27.93 L246.7 27.97 L247 28.01 L247.3 28.05 L247.6 28.09 L247.9 28.12 L248.2 28.16 L248.5 28.2 L248.8 28.23 L249.1 28.27 L249.4 28.31 L249.7 28.34 L250 28.38 L250.3 28.42 L250.6 28.45 L250.9 28.48 L251.2 28.52 L251.5 28.55 L251.8 28.59" stroke="#e8221c" stroke-width="0.95" fill="none" stroke-linejoin="round"/>
<path d="M163.9 29.8 L164.2 29.8 L164.5 29.8 L164.8 29.8 L165.1 29.8 L165.4 29.8 L165.7 29.8 L166 29.8 L166.3 29.8 L166.6 29.8 L166.9 29.8 L167.2 29.8 L167.5 29.8 L167.8 29.8 L168.1 29.8 L168.4 29.8 L168.7 29.8 L169 29.8 L169.3 29.8 L169.6 29.8 L169.9 29.8 L170.2 29.8 L170.5 29.8 L170.8 29.8 L171.1 29.8 L171.4 29.8 L171.7 29.8 L172 29.8 L172.3 29.8 L172.6 29.8 L172.9 29.8 L173.2 29.8 L173.5 29.8 L173.8 29.8 L174.1 29.8 L174.4 29.83 L174.7 30.54 L175 36.65 L175.3 55.77 L175.6 70.3 L175.9 63.5 L176.2 49.22 L176.5 37.52 L176.8 31.83 L177.1 29.89 L177.4 29.09 L177.7 28.25 L178 27.04 L178.3 25.6 L178.6 24.28 L178.9 23.55 L179.2 23.53 L179.5 23.7 L179.8 23.99 L180.1 24.4 L180.4 24.89 L180.7 25.44 L181 26.02 L181.3 26.59 L181.6 27.14 L181.9 27.65 L182.2 28.09 L182.5 28.48 L182.8 28.8 L183.1 29.06 L183.4 29.27 L183.7 29.43 L184 29.54 L184.3 29.63 L184.6 29.69 L184.9 29.73 L185.2 29.76 L185.5 29.78 L185.8 29.79 L186.1 29.8 L186.4 29.81 L186.7 29.81 L187 29.82 L187.3 29.82 L187.6 29.83 L187.9 29.83 L188.2 29.84 L188.5 29.85 L188.8 29.86 L189.1 29.87 L189.4 29.89 L189.7 29.91 L190 29.93 L190.3 29.95 L190.6 29.97 L190.9 30 L191.2 30.04 L191.5 30.08 L191.8 30.12 L192.1 30.17 L192.4 30.22 L192.7 30.28 L193 30.34 L193.3 30.41 L193.6 30.49 L193.9 30.58 L194.2 30.67 L194.5 30.76 L194.8 30.87 L195.1 30.98 L195.4 31.09 L195.7 31.21 L196 31.33 L196.3 31.46 L196.6 31.59 L196.9 31.73 L197.2 31.86 L197.5 31.99 L197.8 32.13 L198.1 32.26 L198.4 32.39 L198.7 32.51 L199 32.62 L199.3 32.73 L199.6 32.83 L199.9 32.92 L200.2 33 L200.5 33.07 L200.8 33.12 L201.1 33.16 L201.4 34.09 L201.7 34.85 L202 36.22 L202.3 37.47 L202.6 38.6 L202.9 39.66 L203.2 40.66 L203.5 41.64 L203.8 42.62 L204.1 43.64 L204.4 44.69 L204.7 45.79 L205 46.94 L205.3 48.12 L205.6 49.32 L205.9 50.53 L206.2 51.74 L206.5 52.94 L206.8 54.1 L207.1 55.21 L207.4 56.25 L207.7 57.2 L208 58.01 L208.3 58.66 L208.6 59.1 L208.9 59.29 L209.2 59.25 L209.5 59.04 L209.8 58.69 L210.1 58.23 L210.4 57.67 L210.7 57.04 L211 56.36 L211.3 55.64 L211.6 54.89 L211.9 54.11 L212.2 53.32 L212.5 52.52 L212.8 51.7 L213.1 50.87 L213.4 50.03 L213.7 49.19 L214 48.34 L214.3 47.49 L214.6 46.63 L214.9 45.77 L215.2 44.91 L215.5 44.04 L215.8 43.17 L216.1 42.3 L216.4 41.43 L216.7 40.55 L217 39.67 L217.3 38.79 L217.6 37.91 L217.9 37.02 L218.2 36.13 L218.5 35.24 L218.8 34.34 L219.1 33.44 L219.4 32.53 L219.7 31.62 L220 30.83 L220.3 30.47 L220.6 29.52 L220.9 29.46 L221.2 29.4 L221.5 29.33 L221.8 29.25 L222.1 29.15 L222.4 29.05 L222.7 28.93 L223 28.8 L223.3 28.66 L223.6 28.51 L223.9 28.34 L224.2 28.17 L224.5 27.98 L224.8 27.79 L225.1 27.58 L225.4 27.37 L225.7 27.16 L226 26.95 L226.3 26.73 L226.6 26.52 L226.9 26.32 L227.2 26.12 L227.5 25.94 L227.8 25.77 L228.1 25.62 L228.4 25.49 L228.7 25.38 L229 25.3 L229.3 25.24 L229.6 25.21 L229.9 25.2 L230.2 25.2 L230.5 25.2 L230.8 25.21 L231.1 25.22 L231.4 25.22 L231.7 25.23 L232 25.25 L232.3 25.26 L232.6 25.27 L232.9 25.29 L233.2 25.31 L233.5 25.33 L233.8 25.35 L234.1 25.37 L234.4 25.4 L234.7 25.42 L235 25.45 L235.3 25.48 L235.6 25.51 L235.9 25.54 L236.2 25.57 L236.5 25.61 L236.8 25.64 L237.1 25.68 L237.4 25.72 L237.7 25.76 L238 25.8 L238.3 25.84 L238.6 25.88 L238.9 25.92 L239.2 25.97 L239.5 26.01 L239.8 26.06 L240.1 26.11 L240.4 26.15 L240.7 26.2 L241 26.25 L241.3 26.3 L241.6 26.35 L241.9 26.4 L242.2 26.45 L242.5 26.5 L242.8 26.56 L243.1 26.61 L243.4 26.66 L243.7 26.71 L244 26.77 L244.3 26.82 L244.6 26.87 L244.9 26.93 L245.2 26.98 L245.5 27.04 L245.8 27.09 L246.1 27.14 L246.4 27.2 L246.7 27.25 L247 27.3 L247.3 27.36 L247.6 27.41 L247.9 27.46 L248.2 27.51 L248.5 27.57 L248.8 27.62 L249.1 27.67 L249.4 27.72 L249.7 27.77 L250 27.82 L250.3 27.87 L250.6 27.92 L250.9 27.97 L251.2 28.01 L251.5 28.06 L251.8 28.11" stroke="#e8221c" stroke-width="0.95" fill="none" stroke-linejoin="round"/>
<path d="M163.9 29.8 L164.2 29.8 L164.5 29.8 L164.8 29.8 L165.1 29.8 L165.4 29.8 L165.7 29.8 L166 29.8 L166.3 29.8 L166.6 29.8 L166.9 29.8 L167.2 29.8 L167.5 29.8 L167.8 29.8 L168.1 29.8 L168.4 29.8 L168.7 29.8 L169 29.8 L169.3 29.8 L169.6 29.8 L169.9 29.8 L170.2 29.8 L170.5 29.8 L170.8 29.8 L171.1 29.8 L171.4 29.8 L171.7 29.8 L172 29.8 L172.3 29.8 L172.6 29.8 L172.9 29.8 L173.2 29.8 L173.5 29.8 L173.8 29.8 L174.1 29.8 L174.4 29.83 L174.7 30.54 L175 36.65 L175.3 55.77 L175.6 70.3 L175.9 63.5 L176.2 49.22 L176.5 37.52 L176.8 31.83 L177.1 29.89 L177.4 29.09 L177.7 28.25 L178 27.04 L178.3 25.6 L178.6 24.28 L178.9 23.55 L179.2 23.53 L179.5 23.7 L179.8 23.99 L180.1 24.4 L180.4 24.89 L180.7 25.44 L181 26.02 L181.3 26.59 L181.6 27.14 L181.9 27.65 L182.2 28.09 L182.5 28.48 L182.8 28.8 L183.1 29.06 L183.4 29.27 L183.7 29.43 L184 29.54 L184.3 29.63 L184.6 29.69 L184.9 29.73 L185.2 29.76 L185.5 29.78 L185.8 29.79 L186.1 29.8 L186.4 29.81 L186.7 29.81 L187 29.82 L187.3 29.82 L187.6 29.83 L187.9 29.84 L188.2 29.85 L188.5 29.86 L188.8 29.87 L189.1 29.88 L189.4 29.9 L189.7 29.92 L190 29.94 L190.3 29.96 L190.6 29.99 L190.9 30.02 L191.2 30.06 L191.5 30.1 L191.8 30.15 L192.1 30.2 L192.4 30.26 L192.7 30.32 L193 30.39 L193.3 30.47 L193.6 30.55 L193.9 30.64 L194.2 30.74 L194.5 30.85 L194.8 30.96 L195.1 31.08 L195.4 31.2 L195.7 31.33 L196 31.47 L196.3 31.61 L196.6 31.75 L196.9 31.9 L197.2 32.04 L197.5 32.19 L197.8 32.33 L198.1 32.48 L198.4 32.61 L198.7 32.75 L199 32.87 L199.3 32.99 L199.6 33.1 L199.9 33.2 L200.2 33.28 L200.5 33.35 L200.8 33.41 L201.1 33.46 L201.4 34.62 L201.7 35.56 L202 37.16 L202.3 38.63 L202.6 39.99 L202.9 41.26 L203.2 42.47 L203.5 43.65 L203.8 44.85 L204.1 46.08 L204.4 47.35 L204.7 48.68 L205 50.06 L205.3 51.48 L205.6 52.93 L205.9 54.4 L206.2 55.87 L206.5 57.34 L206.8 58.78 L207.1 60.18 L207.4 61.52 L207.7 62.79 L208 63.94 L208.3 64.93 L208.6 65.72 L208.9 66.22 L209.2 66.4 L209.5 66.28 L209.8 65.95 L210.1 65.43 L210.4 64.78 L210.7 64.01 L211 63.18 L211.3 62.29 L211.6 61.35 L211.9 60.39 L212.2 59.41 L212.5 58.4 L212.8 57.39 L213.1 56.36 L213.4 55.32 L213.7 54.27 L214 53.22 L214.3 52.17 L214.6 51.1 L214.9 50.04 L215.2 48.97 L215.5 47.9 L215.8 46.82 L216.1 45.74 L216.4 44.66 L216.7 43.58 L217 42.49 L217.3 41.4 L217.6 40.31 L217.9 39.22 L218.2 38.12 L218.5 37.01 L218.8 35.91 L219.1 34.79 L219.4 33.67 L219.7 32.55 L220 31.44 L220.3 30.73 L220.6 29.43 L220.9 29.36 L221.2 29.28 L221.5 29.18 L221.8 29.08 L222.1 28.95 L222.4 28.82 L222.7 28.67 L223 28.5 L223.3 28.32 L223.6 28.12 L223.9 27.9 L224.2 27.67 L224.5 27.43 L224.8 27.17 L225.1 26.91 L225.4 26.64 L225.7 26.36 L226 26.08 L226.3 25.8 L226.6 25.52 L226.9 25.26 L227.2 25 L227.5 24.76 L227.8 24.54 L228.1 24.35 L228.4 24.18 L228.7 24.04 L229 23.93 L229.3 23.85 L229.6 23.81 L229.9 23.8 L230.2 23.8 L230.5 23.81 L230.8 23.81 L231.1 23.82 L231.4 23.83 L231.7 23.84 L232 23.86 L232.3 23.88 L232.6 23.9 L232.9 23.92 L233.2 23.94 L233.5 23.97 L233.8 24 L234.1 24.02 L234.4 24.06 L234.7 24.09 L235 24.13 L235.3 24.16 L235.6 24.2 L235.9 24.24 L236.2 24.29 L236.5 24.33 L236.8 24.38 L237.1 24.43 L237.4 24.47 L237.7 24.53 L238 24.58 L238.3 24.63 L238.6 24.69 L238.9 24.74 L239.2 24.8 L239.5 24.86 L239.8 24.92 L240.1 24.98 L240.4 25.04 L240.7 25.11 L241 25.17 L241.3 25.23 L241.6 25.3 L241.9 25.37 L242.2 25.43 L242.5 25.5 L242.8 25.57 L243.1 25.64 L243.4 25.71 L243.7 25.77 L244 25.84 L244.3 25.91 L244.6 25.98 L244.9 26.05 L245.2 26.12 L245.5 26.19 L245.8 26.26 L246.1 26.33 L246.4 26.4 L246.7 26.47 L247 26.54 L247.3 26.61 L247.6 26.68 L247.9 26.75 L248.2 26.82 L248.5 26.89 L248.8 26.95 L249.1 27.02 L249.4 27.09 L249.7 27.15 L250 27.22 L250.3 27.28 L250.6 27.35 L250.9 27.41 L251.2 27.47 L251.5 27.53 L251.8 27.59" stroke="#e8221c" stroke-width="0.95" fill="none" stroke-linejoin="round"/>
<text transform="translate(261.44 20.5) scale(0.9569 1)" font-size="28.21" fill="#1d1d1b" stroke="#1d1d1b" stroke-width="0.3">B</text>
<line x1="308.5" y1="28.5" x2="308.5" y2="187.5" stroke="#6e6e6e" stroke-width="1"/>
<line x1="308.2" y1="187.5" x2="449.8" y2="187.5" stroke="#6e6e6e" stroke-width="1"/>
<line x1="301.4" y1="187.5" x2="308.2" y2="187.5" stroke="#6e6e6e" stroke-width="1"/>
<text transform="translate(300.4 192.1) scale(0.9569 1)" font-size="13.58" text-anchor="end" fill="#1d1d1b">0.0</text>
<line x1="301.4" y1="147.5" x2="308.2" y2="147.5" stroke="#6e6e6e" stroke-width="1"/>
<text transform="translate(300.4 152.34) scale(0.9569 1)" font-size="13.58" text-anchor="end" fill="#1d1d1b">0.4</text>
<line x1="301.4" y1="107.5" x2="308.2" y2="107.5" stroke="#6e6e6e" stroke-width="1"/>
<text transform="translate(300.4 112.58) scale(0.9569 1)" font-size="13.58" text-anchor="end" fill="#1d1d1b">0.8</text>
<line x1="301.4" y1="68.5" x2="308.2" y2="68.5" stroke="#6e6e6e" stroke-width="1"/>
<text transform="translate(300.4 72.82) scale(0.9569 1)" font-size="13.58" text-anchor="end" fill="#1d1d1b">1.2</text>
<line x1="301.4" y1="28.5" x2="308.2" y2="28.5" stroke="#6e6e6e" stroke-width="1"/>
<text transform="translate(300.4 33.06) scale(0.9569 1)" font-size="13.58" text-anchor="end" fill="#1d1d1b">1.6</text>
<line x1="308.5" y1="187.5" x2="308.5" y2="194" stroke="#6e6e6e" stroke-width="1"/>
<text transform="translate(308.5 209) scale(0.9569 1)" font-size="13.58" text-anchor="middle" fill="#1d1d1b">0</text>
<line x1="324.5" y1="187.5" x2="324.5" y2="191.3" stroke="#6e6e6e" stroke-width="1"/>
<line x1="341.5" y1="187.5" x2="341.5" y2="194" stroke="#6e6e6e" stroke-width="1"/>
<text transform="translate(341.62 209) scale(0.9569 1)" font-size="13.58" text-anchor="middle" fill="#1d1d1b">100</text>
<line x1="357.5" y1="187.5" x2="357.5" y2="191.3" stroke="#6e6e6e" stroke-width="1"/>
<line x1="374.5" y1="187.5" x2="374.5" y2="194" stroke="#6e6e6e" stroke-width="1"/>
<text transform="translate(374.74 209) scale(0.9569 1)" font-size="13.58" text-anchor="middle" fill="#1d1d1b">200</text>
<line x1="391.5" y1="187.5" x2="391.5" y2="191.3" stroke="#6e6e6e" stroke-width="1"/>
<line x1="407.5" y1="187.5" x2="407.5" y2="194" stroke="#6e6e6e" stroke-width="1"/>
<text transform="translate(407.86 209) scale(0.9569 1)" font-size="13.58" text-anchor="middle" fill="#1d1d1b">300</text>
<line x1="424.5" y1="187.5" x2="424.5" y2="191.3" stroke="#6e6e6e" stroke-width="1"/>
<line x1="440.5" y1="187.5" x2="440.5" y2="194" stroke="#6e6e6e" stroke-width="1"/>
<text transform="translate(440.98 209) scale(0.9569 1)" font-size="13.58" text-anchor="middle" fill="#1d1d1b">400</text>
<text transform="translate(313.28 222.9) scale(0.9569 1)" font-size="14.99" fill="#1d1d1b">Current intensity (µA)</text>
<text transform="translate(274.4 175.67) rotate(-90) scale(0.9569 1)" font-size="15.23" fill="#1d1d1b">FV amplitude  (mV)</text>
<path d="M308.5 173.6 L311.89 171.64 L315.28 169.67 L318.67 167.67 L322.06 165.66 L325.45 163.63 L328.84 161.59 L332.23 159.52 L335.62 157.44 L339.01 155.34 L342.4 153.22 L345.79 151.08 L349.18 148.93 L352.57 146.75 L355.96 144.56 L359.35 142.36 L362.74 140.13 L366.13 137.89 L369.52 135.62 L372.91 133.35 L376.29 131.05 L379.68 128.73 L383.07 126.4 L386.46 124.05 L389.85 121.68 L393.24 119.29 L396.63 116.89 L400.02 114.47 L403.41 112.02 L406.8 109.57 L410.19 107.09 L413.58 104.6 L416.97 102.08 L420.36 99.55 L423.75 97.01 L427.14 94.44 L430.53 91.86 L433.92 89.26 L437.31 86.64 L440.7 84 L440.7 108.6 L440.7 108.6 L437.68 110.03 L434.66 111.49 L431.65 112.98 L428.63 114.51 L425.61 116.06 L422.59 117.65 L419.57 119.27 L416.56 120.91 L413.54 122.59 L410.52 124.3 L407.5 126.05 L404.48 127.82 L401.47 129.63 L398.45 131.46 L395.43 133.33 L392.41 135.23 L389.39 137.16 L386.38 139.12 L383.36 141.11 L380.34 143.13 L377.32 145.19 L374.31 147.27 L371.29 149.39 L368.27 151.54 L365.25 153.71 L362.23 155.93 L359.22 158.17 L356.2 160.44 L353.18 162.74 L350.16 165.08 L347.14 167.45 L344.13 169.84 L341.11 172.27 L338.09 174.73 L335.07 177.22 L332.05 179.75 L329.04 182.3 L326.02 184.88 L323 187.5 L308.5 187.5 Z" stroke="none" stroke-width="1" fill="#bdbdbd" stroke-linejoin="round" fill-opacity="0.55"/>
<path d="M314.4 175 L317.64 173.85 L320.88 172.67 L324.12 171.47 L327.35 170.24 L330.59 168.99 L333.83 167.71 L337.07 166.41 L340.31 165.08 L343.55 163.72 L346.78 162.34 L350.02 160.94 L353.26 159.51 L356.5 158.05 L359.74 156.57 L362.98 155.06 L366.22 153.52 L369.45 151.97 L372.69 150.38 L375.93 148.77 L379.17 147.13 L382.41 145.47 L385.65 143.79 L388.88 142.07 L392.12 140.34 L395.36 138.57 L398.6 136.78 L401.84 134.97 L405.08 133.13 L408.32 131.26 L411.55 129.37 L414.79 127.45 L418.03 125.51 L421.27 123.54 L424.51 121.55 L427.75 119.53 L430.98 117.49 L434.22 115.42 L437.46 113.32 L440.7 111.2 L440.7 135.5 L440.7 135.5 L437.96 136.57 L435.23 137.65 L432.49 138.75 L429.76 139.86 L427.02 140.99 L424.28 142.13 L421.55 143.28 L418.81 144.45 L416.08 145.63 L413.34 146.82 L410.61 148.03 L407.87 149.26 L405.13 150.49 L402.4 151.74 L399.66 153.01 L396.93 154.28 L394.19 155.58 L391.45 156.88 L388.72 158.2 L385.98 159.53 L383.25 160.88 L380.51 162.24 L377.77 163.62 L375.04 165.01 L372.3 166.41 L369.57 167.83 L366.83 169.26 L364.09 170.7 L361.36 172.16 L358.62 173.63 L355.89 175.12 L353.15 176.61 L350.42 178.13 L347.68 179.66 L344.94 181.2 L342.21 182.75 L339.47 184.32 L336.74 185.9 L334 187.5 L314.4 187.5 Z" stroke="none" stroke-width="1" fill="#f4a184" stroke-linejoin="round" fill-opacity="0.55"/>
<path d="M308.5 173.6 L311.89 171.64 L315.28 169.67 L318.67 167.67 L322.06 165.66 L325.45 163.63 L328.84 161.59 L332.23 159.52 L335.62 157.44 L339.01 155.34 L342.4 153.22 L345.79 151.08 L349.18 148.93 L352.57 146.75 L355.96 144.56 L359.35 142.36 L362.74 140.13 L366.13 137.89 L369.52 135.62 L372.91 133.35 L376.29 131.05 L379.68 128.73 L383.07 126.4 L386.46 124.05 L389.85 121.68 L393.24 119.29 L396.63 116.89 L400.02 114.47 L403.41 112.02 L406.8 109.57 L410.19 107.09 L413.58 104.6 L416.97 102.08 L420.36 99.55 L423.75 97.01 L427.14 94.44 L430.53 91.86 L433.92 89.26 L437.31 86.64 L440.7 84" stroke="#1a1a1a" stroke-width="1.1" fill="none" stroke-linejoin="round" stroke-dasharray="1.1 1.4"/>
<path d="M323 187.5 L326.02 184.88 L329.04 182.3 L332.05 179.75 L335.07 177.22 L338.09 174.73 L341.11 172.27 L344.13 169.84 L347.14 167.45 L350.16 165.08 L353.18 162.74 L356.2 160.44 L359.22 158.17 L362.23 155.93 L365.25 153.71 L368.27 151.54 L371.29 149.39 L374.31 147.27 L377.32 145.19 L380.34 143.13 L383.36 141.11 L386.38 139.12 L389.39 137.16 L392.41 135.23 L395.43 133.33 L398.45 131.46 L401.47 129.63 L404.48 127.82 L407.5 126.05 L410.52 124.3 L413.54 122.59 L416.56 120.91 L419.57 119.27 L422.59 117.65 L425.61 116.06 L428.63 114.51 L431.65 112.98 L434.66 111.49 L437.68 110.03 L440.7 108.6" stroke="#1a1a1a" stroke-width="1.1" fill="none" stroke-linejoin="round" stroke-dasharray="1.1 1.4"/>
<path d="M314.4 175 L317.64 173.85 L320.88 172.67 L324.12 171.47 L327.35 170.24 L330.59 168.99 L333.83 167.71 L337.07 166.41 L340.31 165.08 L343.55 163.72 L346.78 162.34 L350.02 160.94 L353.26 159.51 L356.5 158.05 L359.74 156.57 L362.98 155.06 L366.22 153.52 L369.45 151.97 L372.69 150.38 L375.93 148.77 L379.17 147.13 L382.41 145.47 L385.65 143.79 L388.88 142.07 L392.12 140.34 L395.36 138.57 L398.6 136.78 L401.84 134.97 L405.08 133.13 L408.32 131.26 L411.55 129.37 L414.79 127.45 L418.03 125.51 L421.27 123.54 L424.51 121.55 L427.75 119.53 L430.98 117.49 L434.22 115.42 L437.46 113.32 L440.7 111.2" stroke="#e8221c" stroke-width="1.1" fill="none" stroke-linejoin="round" stroke-dasharray="1.1 1.4"/>
<path d="M334 187.5 L336.74 185.9 L339.47 184.32 L342.21 182.75 L344.94 181.2 L347.68 179.66 L350.42 178.13 L353.15 176.61 L355.89 175.12 L358.62 173.63 L361.36 172.16 L364.09 170.7 L366.83 169.26 L369.57 167.83 L372.3 166.41 L375.04 165.01 L377.77 163.62 L380.51 162.24 L383.25 160.88 L385.98 159.53 L388.72 158.2 L391.45 156.88 L394.19 155.58 L396.93 154.28 L399.66 153.01 L402.4 151.74 L405.13 150.49 L407.87 149.26 L410.61 148.03 L413.34 146.82 L416.08 145.63 L418.81 144.45 L421.55 143.28 L424.28 142.13 L427.02 140.99 L429.76 139.86 L432.49 138.75 L435.23 137.65 L437.96 136.57 L440.7 135.5" stroke="#e8221c" stroke-width="1.1" fill="none" stroke-linejoin="round" stroke-dasharray="1.1 1.4"/>
<line x1="308.2" y1="186" x2="440.9" y2="96.8" stroke="#2a2a2a" stroke-width="0.9"/>
<line x1="314.6" y1="187.5" x2="440.9" y2="122.9" stroke="#e8221c" stroke-width="0.9"/>
<circle cx="341.2" cy="162.9" r="2.9" fill="#2b2b2b" stroke="none" stroke-width="1"/>
<circle cx="357.9" cy="146.8" r="2.9" fill="#2b2b2b" stroke="none" stroke-width="1"/>
<circle cx="374.4" cy="144.9" r="2.9" fill="#2b2b2b" stroke="none" stroke-width="1"/>
<circle cx="391.3" cy="134.7" r="2.9" fill="#2b2b2b" stroke="none" stroke-width="1"/>
<circle cx="407.8" cy="115.3" r="2.9" fill="#2b2b2b" stroke="none" stroke-width="1"/>
<circle cx="424.4" cy="104.3" r="2.9" fill="#2b2b2b" stroke="none" stroke-width="1"/>
<circle cx="440.9" cy="97.2" r="2.9" fill="#2b2b2b" stroke="none" stroke-width="1"/>
<circle cx="324.6" cy="175.8" r="2.9" fill="#e8221c" stroke="none" stroke-width="1"/>
<circle cx="341.2" cy="175" r="2.9" fill="#e8221c" stroke="none" stroke-width="1"/>
<circle cx="357.9" cy="172" r="2.9" fill="#e8221c" stroke="none" stroke-width="1"/>
<circle cx="374.4" cy="162" r="2.9" fill="#e8221c" stroke="none" stroke-width="1"/>
<circle cx="391.3" cy="150.3" r="2.9" fill="#e8221c" stroke="none" stroke-width="1"/>
<circle cx="407.8" cy="141.9" r="2.9" fill="#e8221c" stroke="none" stroke-width="1"/>
<circle cx="424.4" cy="127.3" r="2.9" fill="#e8221c" stroke="none" stroke-width="1"/>
<circle cx="440.9" cy="119.7" r="2.9" fill="#e8221c" stroke="none" stroke-width="1"/>
<circle cx="308.2" cy="187.5" r="2.9" fill="#e8221c" stroke="none" stroke-width="1"/>
<line x1="319.6" y1="74.5" x2="338.3" y2="74.5" stroke="#2b2b2b" stroke-width="1"/>
<circle cx="328.6" cy="74.6" r="2.8" fill="#2b2b2b" stroke="none" stroke-width="1"/>
<text transform="translate(341.85 77.75) scale(0.9569 1)" font-size="11.45" fill="#1d1d1b">C57BL/6J</text>
<line x1="319.6" y1="94.5" x2="338.3" y2="94.5" stroke="#e8221c" stroke-width="1"/>
<circle cx="328.6" cy="94.7" r="2.8" fill="#e8221c" stroke="none" stroke-width="1"/>
<text transform="translate(340.35 97.6) scale(0.9569 1)" font-size="11.4" fill="#e52521">C58/J</text>
<text transform="translate(476.64 19.8) scale(0.9569 1)" font-size="28.42" fill="#1d1d1b" stroke="#1d1d1b" stroke-width="0.3">C</text>
<line x1="534.5" y1="28.5" x2="534.5" y2="193.4" stroke="#3c3c3c" stroke-width="1"/>
<line x1="534.8" y1="193.5" x2="682" y2="193.5" stroke="#3c3c3c" stroke-width="1"/>
<line x1="530.2" y1="187.5" x2="534.8" y2="187.5" stroke="#3c3c3c" stroke-width="1"/>
<text transform="translate(528.4 191.9) scale(0.9569 1)" font-size="13.58" text-anchor="end" fill="#1d1d1b">0</text>
<line x1="530.2" y1="155.5" x2="534.8" y2="155.5" stroke="#3c3c3c" stroke-width="1"/>
<text transform="translate(528.4 160.15) scale(0.9569 1)" font-size="13.58" text-anchor="end" fill="#1d1d1b">2</text>
<line x1="530.2" y1="123.5" x2="534.8" y2="123.5" stroke="#3c3c3c" stroke-width="1"/>
<text transform="translate(528.4 128.4) scale(0.9569 1)" font-size="13.58" text-anchor="end" fill="#1d1d1b">4</text>
<line x1="530.2" y1="92.5" x2="534.8" y2="92.5" stroke="#3c3c3c" stroke-width="1"/>
<text transform="translate(528.4 96.65) scale(0.9569 1)" font-size="13.58" text-anchor="end" fill="#1d1d1b">6</text>
<line x1="530.2" y1="60.5" x2="534.8" y2="60.5" stroke="#3c3c3c" stroke-width="1"/>
<text transform="translate(528.4 64.9) scale(0.9569 1)" font-size="13.58" text-anchor="end" fill="#1d1d1b">8</text>
<line x1="530.2" y1="28.5" x2="534.8" y2="28.5" stroke="#3c3c3c" stroke-width="1"/>
<text transform="translate(528.4 33.15) scale(0.9569 1)" font-size="13.58" text-anchor="end" fill="#1d1d1b">10</text>
<line x1="540.5" y1="193.4" x2="540.5" y2="198.2" stroke="#3c3c3c" stroke-width="1"/>
<text transform="translate(540.8 210.4) scale(0.9569 1)" font-size="13.58" text-anchor="middle" fill="#1d1d1b">0</text>
<line x1="575.5" y1="193.4" x2="575.5" y2="198.2" stroke="#3c3c3c" stroke-width="1"/>
<text transform="translate(576.15 210.4) scale(0.9569 1)" font-size="13.58" text-anchor="middle" fill="#1d1d1b">1</text>
<line x1="611.5" y1="193.4" x2="611.5" y2="198.2" stroke="#3c3c3c" stroke-width="1"/>
<text transform="translate(611.5 210.4) scale(0.9569 1)" font-size="13.58" text-anchor="middle" fill="#1d1d1b">2</text>
<line x1="646.5" y1="193.4" x2="646.5" y2="198.2" stroke="#3c3c3c" stroke-width="1"/>
<text transform="translate(646.85 210.4) scale(0.9569 1)" font-size="13.58" text-anchor="middle" fill="#1d1d1b">3</text>
<line x1="681.5" y1="193.4" x2="681.5" y2="198.2" stroke="#3c3c3c" stroke-width="1"/>
<text transform="translate(682.2 210.4) scale(0.9569 1)" font-size="13.58" text-anchor="middle" fill="#1d1d1b">4</text>
<text transform="translate(585.02 223.5) scale(0.9569 1)" font-size="15.43" fill="#1d1d1b">FV (mV)</text>
<text transform="translate(508.2 192.43) rotate(-90) scale(0.9569 1)" font-size="14.81" fill="#1d1d1b">MF fEPSP amplitude (mV)</text>
<circle cx="645.8" cy="66.2" r="3" fill="#8a8a8a" stroke="#2a2a2a" stroke-width="0.8" fill-opacity="0.8"/>
<circle cx="642.7" cy="68.1" r="3" fill="#8a8a8a" stroke="#2a2a2a" stroke-width="0.8" fill-opacity="0.8"/>
<circle cx="638" cy="73.5" r="3" fill="#8a8a8a" stroke="#2a2a2a" stroke-width="0.8" fill-opacity="0.8"/>
<circle cx="643" cy="77.9" r="3" fill="#8a8a8a" stroke="#2a2a2a" stroke-width="0.8" fill-opacity="0.8"/>
<circle cx="614.9" cy="86.8" r="3" fill="#8a8a8a" stroke="#2a2a2a" stroke-width="0.8" fill-opacity="0.8"/>
<circle cx="615.4" cy="89.6" r="3" fill="#8a8a8a" stroke="#2a2a2a" stroke-width="0.8" fill-opacity="0.8"/>
<circle cx="587.3" cy="105.5" r="3" fill="#8a8a8a" stroke="#2a2a2a" stroke-width="0.8" fill-opacity="0.8"/>
<circle cx="587.8" cy="109.7" r="3" fill="#8a8a8a" stroke="#2a2a2a" stroke-width="0.8" fill-opacity="0.8"/>
<circle cx="592.4" cy="109.4" r="3" fill="#8a8a8a" stroke="#2a2a2a" stroke-width="0.8" fill-opacity="0.8"/>
<circle cx="582.3" cy="118.5" r="3" fill="#8a8a8a" stroke="#2a2a2a" stroke-width="0.8" fill-opacity="0.8"/>
<circle cx="586.8" cy="116.8" r="3" fill="#8a8a8a" stroke="#2a2a2a" stroke-width="0.8" fill-opacity="0.8"/>
<circle cx="578.7" cy="124.2" r="3" fill="#8a8a8a" stroke="#2a2a2a" stroke-width="0.8" fill-opacity="0.8"/>
<circle cx="575.6" cy="128.6" r="3" fill="#8a8a8a" stroke="#2a2a2a" stroke-width="0.8" fill-opacity="0.8"/>
<circle cx="580" cy="127.7" r="3" fill="#8a8a8a" stroke="#2a2a2a" stroke-width="0.8" fill-opacity="0.8"/>
<circle cx="576.4" cy="132" r="3" fill="#8a8a8a" stroke="#2a2a2a" stroke-width="0.8" fill-opacity="0.8"/>
<circle cx="580.4" cy="135.6" r="3" fill="#8a8a8a" stroke="#2a2a2a" stroke-width="0.8" fill-opacity="0.8"/>
<circle cx="561.9" cy="126.7" r="3" fill="#8a8a8a" stroke="#2a2a2a" stroke-width="0.8" fill-opacity="0.8"/>
<circle cx="558.2" cy="128.9" r="3" fill="#8a8a8a" stroke="#2a2a2a" stroke-width="0.8" fill-opacity="0.8"/>
<circle cx="556.7" cy="140" r="3" fill="#8a8a8a" stroke="#2a2a2a" stroke-width="0.8" fill-opacity="0.8"/>
<circle cx="565.6" cy="140" r="3" fill="#8a8a8a" stroke="#2a2a2a" stroke-width="0.8" fill-opacity="0.8"/>
<circle cx="561.1" cy="142.3" r="3" fill="#8a8a8a" stroke="#2a2a2a" stroke-width="0.8" fill-opacity="0.8"/>
<circle cx="554.5" cy="148.9" r="3" fill="#8a8a8a" stroke="#2a2a2a" stroke-width="0.8" fill-opacity="0.8"/>
<circle cx="550.8" cy="156.4" r="3" fill="#8a8a8a" stroke="#2a2a2a" stroke-width="0.8" fill-opacity="0.8"/>
<circle cx="556" cy="158.6" r="3" fill="#8a8a8a" stroke="#2a2a2a" stroke-width="0.8" fill-opacity="0.8"/>
<circle cx="556" cy="155.6" r="3" fill="#8a8a8a" stroke="#2a2a2a" stroke-width="0.8" fill-opacity="0.8"/>
<circle cx="547.8" cy="159.3" r="3" fill="#8a8a8a" stroke="#2a2a2a" stroke-width="0.8" fill-opacity="0.8"/>
<circle cx="556" cy="171.2" r="3" fill="#8a8a8a" stroke="#2a2a2a" stroke-width="0.8" fill-opacity="0.8"/>
<circle cx="556" cy="174.9" r="3" fill="#8a8a8a" stroke="#2a2a2a" stroke-width="0.8" fill-opacity="0.8"/>
<circle cx="540.4" cy="185.3" r="3" fill="#8a8a8a" stroke="#2a2a2a" stroke-width="0.8" fill-opacity="0.8"/>
<circle cx="545" cy="183" r="3" fill="#8a8a8a" stroke="#2a2a2a" stroke-width="0.8" fill-opacity="0.8"/>
<circle cx="550" cy="180" r="3" fill="#8a8a8a" stroke="#2a2a2a" stroke-width="0.8" fill-opacity="0.8"/>
<circle cx="543" cy="178" r="3" fill="#8a8a8a" stroke="#2a2a2a" stroke-width="0.8" fill-opacity="0.8"/>
<circle cx="552.5" cy="176.5" r="3" fill="#8a8a8a" stroke="#2a2a2a" stroke-width="0.8" fill-opacity="0.8"/>
<circle cx="548" cy="170" r="3" fill="#8a8a8a" stroke="#2a2a2a" stroke-width="0.8" fill-opacity="0.8"/>
<circle cx="586.2" cy="80.2" r="3" fill="#f0503c" stroke="#e3261c" stroke-width="0.8" fill-opacity="0.8" stroke-opacity="0.9"/>
<circle cx="579.8" cy="89.9" r="3" fill="#f0503c" stroke="#e3261c" stroke-width="0.8" fill-opacity="0.8" stroke-opacity="0.9"/>
<circle cx="573.6" cy="100.8" r="3" fill="#f0503c" stroke="#e3261c" stroke-width="0.8" fill-opacity="0.8" stroke-opacity="0.9"/>
<circle cx="570.1" cy="113.8" r="3" fill="#f0503c" stroke="#e3261c" stroke-width="0.8" fill-opacity="0.8" stroke-opacity="0.9"/>
<circle cx="567" cy="118" r="3" fill="#f0503c" stroke="#e3261c" stroke-width="0.8" fill-opacity="0.8" stroke-opacity="0.9"/>
<circle cx="564.7" cy="121.9" r="3" fill="#f0503c" stroke="#e3261c" stroke-width="0.8" fill-opacity="0.8" stroke-opacity="0.9"/>
<circle cx="567.8" cy="125" r="3" fill="#f0503c" stroke="#e3261c" stroke-width="0.8" fill-opacity="0.8" stroke-opacity="0.9"/>
<circle cx="586.5" cy="127.7" r="3" fill="#f0503c" stroke="#e3261c" stroke-width="0.8" fill-opacity="0.8" stroke-opacity="0.9"/>
<circle cx="579.5" cy="136.7" r="3" fill="#f0503c" stroke="#e3261c" stroke-width="0.8" fill-opacity="0.8" stroke-opacity="0.9"/>
<circle cx="547.1" cy="119.7" r="3" fill="#f0503c" stroke="#e3261c" stroke-width="0.8" fill-opacity="0.8" stroke-opacity="0.9"/>
<circle cx="545.3" cy="123" r="3" fill="#f0503c" stroke="#e3261c" stroke-width="0.8" fill-opacity="0.8" stroke-opacity="0.9"/>
<circle cx="542.6" cy="128.2" r="3" fill="#f0503c" stroke="#e3261c" stroke-width="0.8" fill-opacity="0.8" stroke-opacity="0.9"/>
<circle cx="557.4" cy="122.2" r="3" fill="#f0503c" stroke="#e3261c" stroke-width="0.8" fill-opacity="0.8" stroke-opacity="0.9"/>
<circle cx="558.2" cy="126" r="3" fill="#f0503c" stroke="#e3261c" stroke-width="0.8" fill-opacity="0.8" stroke-opacity="0.9"/>
<circle cx="566.3" cy="118.5" r="3" fill="#f0503c" stroke="#e3261c" stroke-width="0.8" fill-opacity="0.8" stroke-opacity="0.9"/>
<circle cx="564.9" cy="122.2" r="3" fill="#f0503c" stroke="#e3261c" stroke-width="0.8" fill-opacity="0.8" stroke-opacity="0.9"/>
<circle cx="552.2" cy="131.9" r="3" fill="#f0503c" stroke="#e3261c" stroke-width="0.8" fill-opacity="0.8" stroke-opacity="0.9"/>
<circle cx="555.2" cy="133.4" r="3" fill="#f0503c" stroke="#e3261c" stroke-width="0.8" fill-opacity="0.8" stroke-opacity="0.9"/>
<circle cx="541.9" cy="138.6" r="3" fill="#f0503c" stroke="#e3261c" stroke-width="0.8" fill-opacity="0.8" stroke-opacity="0.9"/>
<circle cx="550" cy="140" r="3" fill="#f0503c" stroke="#e3261c" stroke-width="0.8" fill-opacity="0.8" stroke-opacity="0.9"/>
<circle cx="544.1" cy="144.5" r="3" fill="#f0503c" stroke="#e3261c" stroke-width="0.8" fill-opacity="0.8" stroke-opacity="0.9"/>
<circle cx="546.3" cy="147.5" r="3" fill="#f0503c" stroke="#e3261c" stroke-width="0.8" fill-opacity="0.8" stroke-opacity="0.9"/>
<circle cx="558.9" cy="147.5" r="3" fill="#f0503c" stroke="#e3261c" stroke-width="0.8" fill-opacity="0.8" stroke-opacity="0.9"/>
<circle cx="566.3" cy="148.9" r="3" fill="#f0503c" stroke="#e3261c" stroke-width="0.8" fill-opacity="0.8" stroke-opacity="0.9"/>
<circle cx="572.3" cy="144.5" r="3" fill="#f0503c" stroke="#e3261c" stroke-width="0.8" fill-opacity="0.8" stroke-opacity="0.9"/>
<circle cx="541.9" cy="154.6" r="3" fill="#f0503c" stroke="#e3261c" stroke-width="0.8" fill-opacity="0.8" stroke-opacity="0.9"/>
<circle cx="549.3" cy="151.2" r="3" fill="#f0503c" stroke="#e3261c" stroke-width="0.8" fill-opacity="0.8" stroke-opacity="0.9"/>
<circle cx="559.7" cy="154.1" r="3" fill="#f0503c" stroke="#e3261c" stroke-width="0.8" fill-opacity="0.8" stroke-opacity="0.9"/>
<circle cx="541.1" cy="163" r="3" fill="#f0503c" stroke="#e3261c" stroke-width="0.8" fill-opacity="0.8" stroke-opacity="0.9"/>
<circle cx="550.8" cy="163" r="3" fill="#f0503c" stroke="#e3261c" stroke-width="0.8" fill-opacity="0.8" stroke-opacity="0.9"/>
<circle cx="556.7" cy="166" r="3" fill="#f0503c" stroke="#e3261c" stroke-width="0.8" fill-opacity="0.8" stroke-opacity="0.9"/>
<circle cx="544.5" cy="168" r="3" fill="#f0503c" stroke="#e3261c" stroke-width="0.8" fill-opacity="0.8" stroke-opacity="0.9"/>
<circle cx="548" cy="173" r="3" fill="#f0503c" stroke="#e3261c" stroke-width="0.8" fill-opacity="0.8" stroke-opacity="0.9"/>
<circle cx="541.5" cy="175" r="3" fill="#f0503c" stroke="#e3261c" stroke-width="0.8" fill-opacity="0.8" stroke-opacity="0.9"/>
<circle cx="539.5" cy="180.5" r="3" fill="#f0503c" stroke="#e3261c" stroke-width="0.8" fill-opacity="0.8" stroke-opacity="0.9"/>
<circle cx="543" cy="183.5" r="3" fill="#f0503c" stroke="#e3261c" stroke-width="0.8" fill-opacity="0.8" stroke-opacity="0.9"/>
<circle cx="546.5" cy="179" r="3" fill="#f0503c" stroke="#e3261c" stroke-width="0.8" fill-opacity="0.8" stroke-opacity="0.9"/>
<circle cx="550.5" cy="184" r="3" fill="#f0503c" stroke="#e3261c" stroke-width="0.8" fill-opacity="0.8" stroke-opacity="0.9"/>
<circle cx="553.5" cy="181" r="3" fill="#f0503c" stroke="#e3261c" stroke-width="0.8" fill-opacity="0.8" stroke-opacity="0.9"/>
<circle cx="541" cy="186.5" r="3" fill="#f0503c" stroke="#e3261c" stroke-width="0.8" fill-opacity="0.8" stroke-opacity="0.9"/>
<circle cx="545.5" cy="186" r="3" fill="#f0503c" stroke="#e3261c" stroke-width="0.8" fill-opacity="0.8" stroke-opacity="0.9"/>
<circle cx="548.5" cy="186.5" r="3" fill="#f0503c" stroke="#e3261c" stroke-width="0.8" fill-opacity="0.8" stroke-opacity="0.9"/>
<circle cx="552" cy="186" r="3" fill="#f0503c" stroke="#e3261c" stroke-width="0.8" fill-opacity="0.8" stroke-opacity="0.9"/>
<circle cx="539.8" cy="184" r="3" fill="#f0503c" stroke="#e3261c" stroke-width="0.8" fill-opacity="0.8" stroke-opacity="0.9"/>
<circle cx="544" cy="177" r="3" fill="#f0503c" stroke="#e3261c" stroke-width="0.8" fill-opacity="0.8" stroke-opacity="0.9"/>
<circle cx="537.8" cy="172.5" r="3" fill="#f0503c" stroke="#e3261c" stroke-width="0.8" fill-opacity="0.8" stroke-opacity="0.9"/>
<circle cx="540" cy="169" r="3" fill="#f0503c" stroke="#e3261c" stroke-width="0.8" fill-opacity="0.8" stroke-opacity="0.9"/>
<circle cx="555" cy="177" r="3" fill="#f0503c" stroke="#e3261c" stroke-width="0.8" fill-opacity="0.8" stroke-opacity="0.9"/>
<circle cx="541.8" cy="137.5" r="3" fill="#f0503c" stroke="#e3261c" stroke-width="0.8" fill-opacity="0.8" stroke-opacity="0.9"/>
<circle cx="544" cy="144" r="3" fill="#f0503c" stroke="#e3261c" stroke-width="0.8" fill-opacity="0.8" stroke-opacity="0.9"/>
<circle cx="549.5" cy="140.8" r="3" fill="#f0503c" stroke="#e3261c" stroke-width="0.8" fill-opacity="0.8" stroke-opacity="0.9"/>
<circle cx="550.6" cy="149.5" r="3" fill="#f0503c" stroke="#e3261c" stroke-width="0.8" fill-opacity="0.8" stroke-opacity="0.9"/>
<circle cx="552.8" cy="151.7" r="3" fill="#f0503c" stroke="#e3261c" stroke-width="0.8" fill-opacity="0.8" stroke-opacity="0.9"/>
<circle cx="541.8" cy="155" r="3" fill="#f0503c" stroke="#e3261c" stroke-width="0.8" fill-opacity="0.8" stroke-opacity="0.9"/>
<circle cx="540.7" cy="162.6" r="3" fill="#f0503c" stroke="#e3261c" stroke-width="0.8" fill-opacity="0.8" stroke-opacity="0.9"/>
<circle cx="542.9" cy="162.6" r="3" fill="#f0503c" stroke="#e3261c" stroke-width="0.8" fill-opacity="0.8" stroke-opacity="0.9"/>
<circle cx="548.4" cy="161.5" r="3" fill="#f0503c" stroke="#e3261c" stroke-width="0.8" fill-opacity="0.8" stroke-opacity="0.9"/>
<circle cx="557.1" cy="153.9" r="3" fill="#f0503c" stroke="#e3261c" stroke-width="0.8" fill-opacity="0.8" stroke-opacity="0.9"/>
<circle cx="556" cy="141.9" r="3" fill="#f0503c" stroke="#e3261c" stroke-width="0.8" fill-opacity="0.8" stroke-opacity="0.9"/>
<circle cx="566.9" cy="123.3" r="3" fill="#f0503c" stroke="#e3261c" stroke-width="0.8" fill-opacity="0.8" stroke-opacity="0.9"/>
<circle cx="557.1" cy="165.9" r="3" fill="#f0503c" stroke="#e3261c" stroke-width="0.8" fill-opacity="0.8" stroke-opacity="0.9"/>
<circle cx="542" cy="171" r="3" fill="#f0503c" stroke="#e3261c" stroke-width="0.8" fill-opacity="0.8" stroke-opacity="0.9"/>
<circle cx="546" cy="174" r="3" fill="#f0503c" stroke="#e3261c" stroke-width="0.8" fill-opacity="0.8" stroke-opacity="0.9"/>
<circle cx="551" cy="176" r="3" fill="#f0503c" stroke="#e3261c" stroke-width="0.8" fill-opacity="0.8" stroke-opacity="0.9"/>
<circle cx="544" cy="181" r="3" fill="#f0503c" stroke="#e3261c" stroke-width="0.8" fill-opacity="0.8" stroke-opacity="0.9"/>
<circle cx="545.5" cy="165.5" r="3" fill="#f0503c" stroke="#e3261c" stroke-width="0.8" fill-opacity="0.8" stroke-opacity="0.9"/>
<circle cx="550.5" cy="170" r="3" fill="#f0503c" stroke="#e3261c" stroke-width="0.8" fill-opacity="0.8" stroke-opacity="0.9"/>
<line x1="541" y1="173.4" x2="645.5" y2="54.8" stroke="#111" stroke-width="1.1"/>
<line x1="541.5" y1="160.4" x2="598.5" y2="84.9" stroke="#e8221c" stroke-width="1.1"/>
<line x1="614.7" y1="168.5" x2="633.2" y2="168.5" stroke="#2a2a2a" stroke-width="1"/>
<circle cx="624" cy="168" r="3.8" fill="#3a3a3a" stroke="#1a1a1a" stroke-width="0.8"/>
<text transform="translate(634.05 171.9) scale(0.9569 1)" font-size="11.52" fill="#1d1d1b">C57BL/6J</text>
<line x1="614.7" y1="180.5" x2="633.2" y2="180.5" stroke="#e8432f" stroke-width="1"/>
<circle cx="624" cy="180.1" r="3.8" fill="#f0604b" stroke="#e53d2c" stroke-width="0.8"/>
<text transform="translate(634.04 182.3) scale(0.9569 1)" font-size="11.61" fill="#e52521">C58/J</text>
<text transform="translate(16.34 267.8) scale(0.9569 1)" font-size="25.6" fill="#1d1d1b" stroke="#1d1d1b" stroke-width="0.3">D</text>
<line x1="35" y1="293.5" x2="46.8" y2="293.5" stroke="#808080" stroke-width="0.9"/>
<line x1="46.5" y1="279.5" x2="46.5" y2="304" stroke="#1d1d1b" stroke-width="1.2"/>
<line x1="49.3" y1="294.4" x2="165.2" y2="294.4" stroke="#777" stroke-width="0.9" stroke-dasharray="2.2 2.2"/>
<path d="M55.2 279.5 L55.33 280.11 L55.51 280.97 L55.73 281.98 L55.97 283.05 L56.23 284.09 L56.5 285 L56.78 285.81 L57.06 286.6 L57.36 287.36 L57.7 288.07 L58.07 288.72 L58.5 289.3 L58.98 289.8 L59.5 290.23 L60.07 290.59 L60.67 290.91 L61.32 291.17 L62 291.4 L62.76 291.54 L63.61 291.59 L64.51 291.59 L65.39 291.6 L66.2 291.65 L66.9 291.8 L67.45 292.01 L67.89 292.24 L68.26 292.52 L68.61 292.88 L69.01 293.36 L69.5 294 L70.1 294.86 L70.77 295.92 L71.47 297.11 L72.19 298.32 L72.88 299.48 L73.5 300.5 L74.06 301.42 L74.59 302.33 L75.09 303.18 L75.57 303.94 L76.04 304.56 L76.5 305 L76.93 305.23 L77.31 305.27 L77.69 305.17 L78.07 304.99 L78.5 304.78 L79 304.6 L79.61 304.38 L80.3 304.05 L81.04 303.7 L81.77 303.39 L82.44 303.2 L83 303.2 L83.43 303.35 L83.78 303.59 L84.06 303.95 L84.31 304.45 L84.55 305.13 L84.8 306 L85.05 307.07 L85.28 308.32 L85.5 309.74 L85.72 311.33 L85.95 313.08 L86.2 315 L86.47 317.14 L86.76 319.52 L87.05 322.06 L87.36 324.7 L87.67 327.37 L88 330 L88.35 332.69 L88.72 335.51 L89.1 338.36 L89.48 341.13 L89.85 343.72 L90.2 346 L90.54 348.02 L90.87 349.87 L91.19 351.53 L91.5 352.99 L91.77 354.21 L92 355.2 L92.18 355.9 L92.3 356.31 L92.39 356.5 L92.48 356.52 L92.57 356.44 L92.7 356.3 L92.85 356.16 L93 355.98 L93.16 355.69 L93.34 355.22 L93.55 354.52 L93.8 353.5 L94.09 352.14 L94.42 350.48 L94.78 348.57 L95.17 346.49 L95.57 344.28 L96 342 L96.46 339.55 L96.96 336.85 L97.48 334.03 L98.01 331.2 L98.52 328.49 L99 326 L99.46 323.69 L99.91 321.44 L100.36 319.31 L100.77 317.33 L101.16 315.55 L101.5 314 L101.77 312.75 L101.99 311.77 L102.16 310.99 L102.34 310.33 L102.54 309.69 L102.8 309 L103.12 308.3 L103.46 307.66 L103.83 307.06 L104.23 306.45 L104.65 305.81 L105.1 305.1 L105.58 304.31 L106.11 303.46 L106.66 302.58 L107.21 301.69 L107.77 300.82 L108.3 300 L108.8 299.24 L109.29 298.5 L109.77 297.79 L110.26 297.1 L110.76 296.4 L111.3 295.7 L111.86 294.98 L112.44 294.24 L113.03 293.51 L113.65 292.79 L114.31 292.12 L115 291.5 L115.75 290.91 L116.55 290.33 L117.39 289.79 L118.24 289.31 L119.08 288.94 L119.9 288.7 L120.71 288.62 L121.53 288.69 L122.34 288.86 L123.14 289.09 L123.89 289.31 L124.6 289.5 L125.23 289.67 L125.79 289.86 L126.32 290.06 L126.84 290.25 L127.39 290.4 L128 290.5 L128.64 290.52 L129.27 290.47 L129.94 290.38 L130.66 290.3 L131.47 290.26 L132.4 290.3 L133.48 290.43 L134.68 290.61 L135.98 290.84 L137.32 291.1 L138.67 291.35 L140 291.6 L141.34 291.85 L142.75 292.11 L144.16 292.38 L145.54 292.64 L146.84 292.89 L148 293.1 L149.01 293.28 L149.89 293.44 L150.68 293.57 L151.44 293.7 L152.2 293.8 L153 293.9 L153.9 293.98 L154.88 294.05 L155.86 294.1 L156.77 294.14 L157.54 294.17 L158.1 294.2" stroke="#1a1a1a" stroke-width="1.2" fill="none" stroke-linejoin="round"/>
<line x1="83.3" y1="306" x2="83.3" y2="357" stroke="#777" stroke-width="0.9" stroke-dasharray="2.2 2.2"/>
<line x1="83.3" y1="357" x2="113.4" y2="357" stroke="#777" stroke-width="0.9" stroke-dasharray="2.2 2.2"/>
<line x1="113.4" y1="294.6" x2="113.4" y2="357" stroke="#777" stroke-width="0.9" stroke-dasharray="2.2 2.2"/>
<line x1="87.6" y1="321.3" x2="99.6" y2="321.3" stroke="#777" stroke-width="0.9" stroke-dasharray="2.2 2.2"/>
<line x1="87.3" y1="319.5" x2="99.6" y2="319.5" stroke="#777" stroke-width="0.9"/>
<path d="M97.4 317.8 L99.6 319.1 L97.4 320.4" stroke="#777" stroke-width="0.8" fill="none" stroke-linejoin="round"/>
<path d="M89.5 317.8 L87.3 319.1 L89.5 320.4" stroke="#777" stroke-width="0.8" fill="none" stroke-linejoin="round"/>
<line x1="84.8" y1="360.5" x2="91.8" y2="360.5" stroke="#777" stroke-width="0.9"/>
<path d="M89.6 359.2 L91.8 360.5 L89.6 361.8" stroke="#777" stroke-width="0.8" fill="none" stroke-linejoin="round"/>
<path d="M87 359.2 L84.8 360.5 L87 361.8" stroke="#777" stroke-width="0.8" fill="none" stroke-linejoin="round"/>
<line x1="94.2" y1="360.5" x2="112.9" y2="360.5" stroke="#777" stroke-width="0.9"/>
<path d="M110.7 359.2 L112.9 360.5 L110.7 361.8" stroke="#777" stroke-width="0.8" fill="none" stroke-linejoin="round"/>
<path d="M96.4 359.2 L94.2 360.5 L96.4 361.8" stroke="#777" stroke-width="0.8" fill="none" stroke-linejoin="round"/>
<text transform="translate(64.24 325.1) scale(0.9569 1)" font-size="9.98" fill="#3a3a3a">HW</text>
<text transform="translate(61.73 379.8) scale(0.9569 1)" font-size="10.12" fill="#3a3a3a">Peak</text>
<text transform="translate(58.93 390.9) scale(0.9569 1)" font-size="9.98" fill="#3a3a3a">latency</text>
<text transform="translate(103.13 379.8) scale(0.9569 1)" font-size="10.05" fill="#3a3a3a">Decay</text>
<text transform="translate(106.11 390.9) scale(0.9569 1)" font-size="9.87" fill="#3a3a3a">time</text>
<text transform="translate(175.06 268.1) scale(0.9569 1)" font-size="25.39" fill="#1d1d1b" stroke="#1d1d1b" stroke-width="0.3">E</text>
<line x1="225.5" y1="271.5" x2="225.5" y2="377.1" stroke="#3c3c3c" stroke-width="1"/>
<line x1="225.3" y1="377.5" x2="314.8" y2="377.5" stroke="#3c3c3c" stroke-width="1"/>
<line x1="220.8" y1="271.5" x2="225.3" y2="271.5" stroke="#3c3c3c" stroke-width="1"/>
<text transform="translate(218.9 276.1) scale(0.9569 1)" font-size="13.58" text-anchor="end" fill="#1d1d1b">4</text>
<line x1="220.8" y1="297.5" x2="225.3" y2="297.5" stroke="#3c3c3c" stroke-width="1"/>
<text transform="translate(218.9 302.5) scale(0.9569 1)" font-size="13.58" text-anchor="end" fill="#1d1d1b">3</text>
<line x1="220.8" y1="324.5" x2="225.3" y2="324.5" stroke="#3c3c3c" stroke-width="1"/>
<text transform="translate(218.9 328.9) scale(0.9569 1)" font-size="13.58" text-anchor="end" fill="#1d1d1b">2</text>
<line x1="220.8" y1="350.5" x2="225.3" y2="350.5" stroke="#3c3c3c" stroke-width="1"/>
<text transform="translate(218.9 355.3) scale(0.9569 1)" font-size="13.58" text-anchor="end" fill="#1d1d1b">1</text>
<line x1="220.8" y1="377.5" x2="225.3" y2="377.5" stroke="#3c3c3c" stroke-width="1"/>
<text transform="translate(218.9 381.7) scale(0.9569 1)" font-size="13.58" text-anchor="end" fill="#1d1d1b">0</text>
<line x1="222.7" y1="284.5" x2="225.3" y2="284.5" stroke="#3c3c3c" stroke-width="1"/>
<line x1="222.7" y1="311.5" x2="225.3" y2="311.5" stroke="#3c3c3c" stroke-width="1"/>
<line x1="222.7" y1="337.5" x2="225.3" y2="337.5" stroke="#3c3c3c" stroke-width="1"/>
<line x1="222.7" y1="363.5" x2="225.3" y2="363.5" stroke="#3c3c3c" stroke-width="1"/>
<line x1="250.5" y1="377.1" x2="250.5" y2="381.3" stroke="#3c3c3c" stroke-width="1"/>
<line x1="288.5" y1="377.1" x2="288.5" y2="381.3" stroke="#3c3c3c" stroke-width="1"/>
<text transform="translate(240.56 392.8) scale(0.9569 1)" font-size="11.24" fill="#1d1d1b">C57</text>
<text transform="translate(237.02 403.9) scale(0.9569 1)" font-size="11.55" fill="#1d1d1b">BL/6J</text>
<text transform="translate(274.95 392.8) scale(0.9569 1)" font-size="11.53" fill="#e52521">C58/J</text>
<text transform="translate(203 384.61) rotate(-90) scale(0.9569 1)" font-size="15.8" fill="#1d1d1b">Peak latency (ms)</text>
<path d="M253.2 286.3 L253.33 286.48 L253.54 286.71 L253.76 287.01 L253.93 287.37 L254 287.8 L253.95 288.32 L253.81 288.92 L253.63 289.58 L253.41 290.28 L253.2 291 L252.97 291.75 L252.71 292.54 L252.43 293.36 L252.19 294.19 L252 295 L251.87 295.81 L251.78 296.62 L251.73 297.44 L251.7 298.23 L251.7 299 L251.71 299.73 L251.74 300.44 L251.8 301.12 L251.91 301.81 L252.1 302.5 L252.33 303.18 L252.6 303.85 L252.94 304.53 L253.4 305.24 L254 306 L254.82 306.83 L255.83 307.72 L256.94 308.64 L258.03 309.58 L259 310.5 L259.93 311.41 L260.88 312.32 L261.74 313.23 L262.42 314.16 L262.8 315.1 L262.8 316.04 L262.48 316.97 L261.99 317.92 L261.45 318.93 L261 320 L260.57 321.2 L260.08 322.52 L259.62 323.86 L259.3 325.15 L259.2 326.3 L259.4 327.29 L259.82 328.16 L260.38 328.97 L260.97 329.74 L261.5 330.5 L262.03 331.24 L262.64 331.93 L263.21 332.6 L263.66 333.28 L263.9 334 L263.9 334.77 L263.74 335.56 L263.43 336.38 L263.01 337.19 L262.5 338 L261.87 338.8 L261.09 339.6 L260.22 340.4 L259.34 341.2 L258.5 342 L257.67 342.82 L256.82 343.66 L255.98 344.49 L255.19 345.28 L254.5 346 L253.89 346.68 L253.35 347.34 L252.87 347.94 L252.49 348.44 L252.2 348.8 L249.8 348.8 L249.51 348.44 L249.13 347.94 L248.65 347.34 L248.11 346.68 L247.5 346 L246.81 345.28 L246.02 344.49 L245.18 343.66 L244.33 342.82 L243.5 342 L242.66 341.2 L241.78 340.4 L240.91 339.6 L240.13 338.8 L239.5 338 L238.99 337.19 L238.57 336.38 L238.26 335.56 L238.1 334.77 L238.1 334 L238.34 333.28 L238.79 332.6 L239.36 331.93 L239.97 331.24 L240.5 330.5 L241.03 329.74 L241.62 328.97 L242.18 328.16 L242.6 327.29 L242.8 326.3 L242.7 325.15 L242.38 323.86 L241.92 322.52 L241.43 321.2 L241 320 L240.55 318.93 L240.01 317.92 L239.52 316.97 L239.2 316.04 L239.2 315.1 L239.58 314.16 L240.26 313.23 L241.12 312.32 L242.07 311.41 L243 310.5 L243.97 309.58 L245.06 308.64 L246.17 307.72 L247.18 306.83 L248 306 L248.6 305.24 L249.06 304.53 L249.4 303.85 L249.67 303.18 L249.9 302.5 L250.09 301.81 L250.2 301.12 L250.26 300.44 L250.29 299.73 L250.3 299 L250.3 298.23 L250.27 297.44 L250.22 296.62 L250.13 295.81 L250 295 L249.81 294.19 L249.57 293.36 L249.29 292.54 L249.03 291.75 L248.8 291 L248.59 290.28 L248.37 289.58 L248.19 288.92 L248.05 288.32 L248 287.8 L248.07 287.37 L248.24 287.01 L248.46 286.71 L248.67 286.48 L248.8 286.3 Z" stroke="#7a7a7a" stroke-width="0.7" fill="#8f8f8f" stroke-linejoin="round"/>
<line x1="239.5" y1="315.8" x2="262.5" y2="315.8" stroke="#1d1d1b" stroke-width="1.4" stroke-dasharray="1.2 1.2"/>
<line x1="243" y1="326.6" x2="259" y2="326.6" stroke="#1d1d1b" stroke-width="1.7" stroke-dasharray="2.6 1.5"/>
<line x1="238.5" y1="335.5" x2="263.5" y2="335.5" stroke="#1d1d1b" stroke-width="1.4" stroke-dasharray="1.2 1.2"/>
<circle cx="251" cy="287" r="2.05" fill="#fff" stroke="#111" stroke-width="0.8"/>
<circle cx="244.7" cy="313.7" r="2.05" fill="#fff" stroke="#111" stroke-width="0.8"/>
<circle cx="250.7" cy="316.8" r="2.05" fill="#fff" stroke="#111" stroke-width="0.8"/>
<circle cx="257.3" cy="316.5" r="2.05" fill="#fff" stroke="#111" stroke-width="0.8"/>
<circle cx="250.7" cy="321.8" r="2.05" fill="#fff" stroke="#111" stroke-width="0.8"/>
<circle cx="241.4" cy="332.2" r="2.05" fill="#fff" stroke="#111" stroke-width="0.8"/>
<circle cx="247.7" cy="332.2" r="2.05" fill="#fff" stroke="#111" stroke-width="0.8"/>
<circle cx="254.1" cy="334.8" r="2.05" fill="#fff" stroke="#111" stroke-width="0.8"/>
<circle cx="260.1" cy="337.3" r="2.05" fill="#fff" stroke="#111" stroke-width="0.8"/>
<circle cx="250.7" cy="348.4" r="2.05" fill="#fff" stroke="#111" stroke-width="0.8"/>
<path d="M291.2 286.3 L291.33 286.44 L291.54 286.63 L291.76 286.87 L291.93 287.16 L292 287.5 L291.95 287.91 L291.82 288.38 L291.64 288.9 L291.42 289.45 L291.2 290 L290.95 290.57 L290.65 291.16 L290.34 291.78 L290.05 292.39 L289.8 293 L289.6 293.58 L289.42 294.15 L289.27 294.73 L289.15 295.34 L289.05 296 L288.99 296.72 L288.96 297.48 L288.95 298.28 L288.95 299.12 L288.95 300 L288.94 300.97 L288.93 302.02 L288.93 303.1 L288.93 304.11 L288.95 305 L288.98 305.73 L289.01 306.34 L289.06 306.9 L289.12 307.43 L289.2 308 L289.3 308.6 L289.43 309.2 L289.57 309.8 L289.73 310.4 L289.9 311 L290.09 311.6 L290.31 312.2 L290.53 312.8 L290.77 313.4 L291 314 L291.23 314.6 L291.46 315.2 L291.7 315.8 L291.95 316.4 L292.2 317 L292.46 317.6 L292.73 318.2 L293 318.8 L293.29 319.4 L293.6 320 L293.9 320.57 L294.2 321.1 L294.52 321.66 L294.91 322.27 L295.4 323 L296.04 323.88 L296.81 324.89 L297.62 325.96 L298.41 327.02 L299.1 328 L299.75 328.9 L300.41 329.76 L300.98 330.59 L301.38 331.4 L301.5 332.2 L301.27 332.98 L300.75 333.74 L300.06 334.48 L299.3 335.23 L298.6 336 L297.91 336.79 L297.17 337.59 L296.41 338.39 L295.71 339.2 L295.1 340 L294.6 340.79 L294.19 341.56 L293.83 342.34 L293.5 343.15 L293.2 344 L292.91 344.99 L292.65 346.09 L292.42 347.19 L292.24 348.13 L292.1 348.8 L285.1 348.8 L284.96 348.13 L284.78 347.19 L284.55 346.09 L284.29 344.99 L284 344 L283.7 343.15 L283.37 342.34 L283.01 341.56 L282.6 340.79 L282.1 340 L281.49 339.2 L280.79 338.39 L280.03 337.59 L279.29 336.79 L278.6 336 L277.9 335.23 L277.14 334.48 L276.45 333.74 L275.93 332.98 L275.7 332.2 L275.82 331.4 L276.22 330.59 L276.79 329.76 L277.45 328.9 L278.1 328 L278.79 327.02 L279.58 325.96 L280.39 324.89 L281.16 323.88 L281.8 323 L282.29 322.27 L282.68 321.66 L283 321.1 L283.3 320.57 L283.6 320 L283.91 319.4 L284.2 318.8 L284.47 318.2 L284.74 317.6 L285 317 L285.25 316.4 L285.5 315.8 L285.74 315.2 L285.97 314.6 L286.2 314 L286.43 313.4 L286.67 312.8 L286.89 312.2 L287.11 311.6 L287.3 311 L287.47 310.4 L287.63 309.8 L287.77 309.2 L287.9 308.6 L288 308 L288.08 307.43 L288.14 306.9 L288.19 306.34 L288.22 305.73 L288.25 305 L288.27 304.11 L288.27 303.1 L288.27 302.02 L288.26 300.97 L288.25 300 L288.25 299.12 L288.25 298.28 L288.24 297.48 L288.21 296.72 L288.15 296 L288.05 295.34 L287.93 294.73 L287.78 294.15 L287.6 293.58 L287.4 293 L287.15 292.39 L286.86 291.78 L286.55 291.16 L286.25 290.57 L286 290 L285.78 289.45 L285.56 288.9 L285.38 288.38 L285.25 287.91 L285.2 287.5 L285.27 287.16 L285.44 286.87 L285.66 286.63 L285.87 286.44 L286 286.3 Z" stroke="#e8221c" stroke-width="0.7" fill="#f0614a" stroke-linejoin="round"/>
<line x1="281.6" y1="322.8" x2="295.6" y2="322.8" stroke="#1d1d1b" stroke-width="1.4" stroke-dasharray="1.2 1.2"/>
<line x1="276" y1="332.2" x2="301.2" y2="332.2" stroke="#1d1d1b" stroke-width="1.7" stroke-dasharray="2.6 1.5"/>
<line x1="280.8" y1="338.7" x2="296.4" y2="338.7" stroke="#1d1d1b" stroke-width="1.4" stroke-dasharray="1.2 1.2"/>
<circle cx="288.6" cy="287" r="2.05" fill="#fff" stroke="#111" stroke-width="0.8"/>
<circle cx="288.6" cy="319" r="2.05" fill="#fff" stroke="#111" stroke-width="0.8"/>
<circle cx="288.6" cy="326.8" r="2.05" fill="#fff" stroke="#111" stroke-width="0.8"/>
<circle cx="278.4" cy="332.2" r="2.05" fill="#fff" stroke="#111" stroke-width="0.8"/>
<circle cx="298" cy="332.2" r="2.05" fill="#fff" stroke="#111" stroke-width="0.8"/>
<circle cx="285.4" cy="334.8" r="2.05" fill="#fff" stroke="#111" stroke-width="0.8"/>
<circle cx="292" cy="334.5" r="2.05" fill="#fff" stroke="#111" stroke-width="0.8"/>
<circle cx="288.6" cy="342.9" r="2.05" fill="#fff" stroke="#111" stroke-width="0.8"/>
<circle cx="288.6" cy="348.4" r="2.05" fill="#fff" stroke="#111" stroke-width="0.8"/>
<text transform="translate(356.5 267.8) scale(0.9569 1)" font-size="26.12" fill="#1d1d1b" stroke="#1d1d1b" stroke-width="0.3">F</text>
<line x1="406.5" y1="271.3" x2="406.5" y2="377.3" stroke="#3c3c3c" stroke-width="1"/>
<line x1="406" y1="377.5" x2="495.1" y2="377.5" stroke="#3c3c3c" stroke-width="1"/>
<line x1="401.5" y1="271.5" x2="406" y2="271.5" stroke="#3c3c3c" stroke-width="1"/>
<text transform="translate(399.6 275.9) scale(0.9569 1)" font-size="13.58" text-anchor="end" fill="#1d1d1b">5</text>
<line x1="401.5" y1="292.5" x2="406" y2="292.5" stroke="#3c3c3c" stroke-width="1"/>
<text transform="translate(399.6 297.1) scale(0.9569 1)" font-size="13.58" text-anchor="end" fill="#1d1d1b">4</text>
<line x1="401.5" y1="313.5" x2="406" y2="313.5" stroke="#3c3c3c" stroke-width="1"/>
<text transform="translate(399.6 318.3) scale(0.9569 1)" font-size="13.58" text-anchor="end" fill="#1d1d1b">3</text>
<line x1="401.5" y1="334.5" x2="406" y2="334.5" stroke="#3c3c3c" stroke-width="1"/>
<text transform="translate(399.6 339.5) scale(0.9569 1)" font-size="13.58" text-anchor="end" fill="#1d1d1b">2</text>
<line x1="401.5" y1="356.5" x2="406" y2="356.5" stroke="#3c3c3c" stroke-width="1"/>
<text transform="translate(399.6 360.7) scale(0.9569 1)" font-size="13.58" text-anchor="end" fill="#1d1d1b">1</text>
<line x1="401.5" y1="377.5" x2="406" y2="377.5" stroke="#3c3c3c" stroke-width="1"/>
<text transform="translate(399.6 381.9) scale(0.9569 1)" font-size="13.58" text-anchor="end" fill="#1d1d1b">0</text>
<line x1="403.4" y1="281.5" x2="406" y2="281.5" stroke="#3c3c3c" stroke-width="1"/>
<line x1="403.4" y1="303.5" x2="406" y2="303.5" stroke="#3c3c3c" stroke-width="1"/>
<line x1="403.4" y1="324.5" x2="406" y2="324.5" stroke="#3c3c3c" stroke-width="1"/>
<line x1="403.4" y1="345.5" x2="406" y2="345.5" stroke="#3c3c3c" stroke-width="1"/>
<line x1="403.4" y1="366.5" x2="406" y2="366.5" stroke="#3c3c3c" stroke-width="1"/>
<line x1="431.5" y1="377.3" x2="431.5" y2="381.5" stroke="#3c3c3c" stroke-width="1"/>
<line x1="469.5" y1="377.3" x2="469.5" y2="381.5" stroke="#3c3c3c" stroke-width="1"/>
<text transform="translate(421.16 392.8) scale(0.9569 1)" font-size="11.24" fill="#1d1d1b">C57</text>
<text transform="translate(417.62 403.9) scale(0.9569 1)" font-size="11.55" fill="#1d1d1b">BL/6J</text>
<text transform="translate(455.75 392.8) scale(0.9569 1)" font-size="11.53" fill="#e52521">C58/J</text>
<text transform="translate(384.4 374.71) rotate(-90) scale(0.9569 1)" font-size="15.75" fill="#1d1d1b">Half-width (ms)</text>
<path d="M437.4 305.3 L437.37 305.8 L437.34 306.5 L437.28 307.32 L437.21 308.18 L437.1 309 L436.94 309.78 L436.74 310.57 L436.51 311.37 L436.29 312.18 L436.1 313 L435.9 313.83 L435.69 314.68 L435.5 315.54 L435.39 316.38 L435.4 317.2 L435.55 317.98 L435.81 318.74 L436.15 319.48 L436.55 320.23 L437 321 L437.51 321.79 L438.11 322.59 L438.75 323.39 L439.39 324.2 L440 325 L440.6 325.8 L441.21 326.61 L441.8 327.42 L442.35 328.22 L442.8 329 L443.17 329.76 L443.49 330.5 L443.73 331.23 L443.91 331.96 L444 332.7 L444.02 333.46 L443.98 334.23 L443.86 335 L443.64 335.76 L443.3 336.5 L442.82 337.23 L442.2 337.95 L441.5 338.65 L440.75 339.34 L440 340 L439.23 340.63 L438.4 341.24 L437.56 341.82 L436.75 342.41 L436 343 L435.29 343.65 L434.58 344.34 L433.94 345.02 L433.39 345.59 L433 346 L430 346 L429.61 345.59 L429.06 345.02 L428.42 344.34 L427.71 343.65 L427 343 L426.25 342.41 L425.44 341.82 L424.6 341.24 L423.77 340.63 L423 340 L422.25 339.34 L421.5 338.65 L420.8 337.95 L420.18 337.23 L419.7 336.5 L419.36 335.76 L419.14 335 L419.02 334.23 L418.98 333.46 L419 332.7 L419.09 331.96 L419.27 331.23 L419.51 330.5 L419.83 329.76 L420.2 329 L420.65 328.22 L421.2 327.42 L421.79 326.61 L422.4 325.8 L423 325 L423.61 324.2 L424.25 323.39 L424.89 322.59 L425.49 321.79 L426 321 L426.45 320.23 L426.85 319.48 L427.19 318.74 L427.45 317.98 L427.6 317.2 L427.61 316.38 L427.5 315.54 L427.31 314.68 L427.1 313.83 L426.9 313 L426.71 312.18 L426.49 311.37 L426.26 310.57 L426.06 309.78 L425.9 309 L425.79 308.18 L425.72 307.32 L425.66 306.5 L425.63 305.8 L425.6 305.3 Z" stroke="#7a7a7a" stroke-width="0.7" fill="#8f8f8f" stroke-linejoin="round"/>
<line x1="427.7" y1="314.4" x2="435.3" y2="314.4" stroke="#1d1d1b" stroke-width="1.4" stroke-dasharray="1.2 1.2"/>
<line x1="421" y1="329.1" x2="442" y2="329.1" stroke="#1d1d1b" stroke-width="1.7" stroke-dasharray="2.6 1.5"/>
<line x1="420.5" y1="335.9" x2="442.5" y2="335.9" stroke="#1d1d1b" stroke-width="1.4" stroke-dasharray="1.2 1.2"/>
<circle cx="427.5" cy="305" r="2.05" fill="#fff" stroke="#111" stroke-width="0.8"/>
<circle cx="435.9" cy="308.8" r="2.05" fill="#fff" stroke="#111" stroke-width="0.8"/>
<circle cx="431.7" cy="316.5" r="2.05" fill="#fff" stroke="#111" stroke-width="0.8"/>
<circle cx="440.1" cy="326.3" r="2.05" fill="#fff" stroke="#111" stroke-width="0.8"/>
<circle cx="431.7" cy="329.1" r="2.05" fill="#fff" stroke="#111" stroke-width="0.8"/>
<circle cx="423" cy="330.8" r="2.05" fill="#fff" stroke="#111" stroke-width="0.8"/>
<circle cx="423.3" cy="335" r="2.05" fill="#fff" stroke="#111" stroke-width="0.8"/>
<circle cx="431.7" cy="335.9" r="2.05" fill="#fff" stroke="#111" stroke-width="0.8"/>
<circle cx="440.1" cy="336.2" r="2.05" fill="#fff" stroke="#111" stroke-width="0.8"/>
<circle cx="431.7" cy="345.3" r="2.05" fill="#fff" stroke="#111" stroke-width="0.8"/>
<path d="M471.9 292.4 L471.98 292.53 L472.11 292.69 L472.24 292.91 L472.32 293.17 L472.3 293.5 L472.16 293.9 L471.94 294.38 L471.66 294.9 L471.37 295.45 L471.1 296 L470.84 296.57 L470.57 297.16 L470.31 297.78 L470.08 298.39 L469.9 299 L469.79 299.57 L469.72 300.1 L469.69 300.66 L469.67 301.27 L469.65 302 L469.63 302.9 L469.61 303.95 L469.61 305.05 L469.62 306.1 L469.65 307 L469.7 307.74 L469.76 308.37 L469.84 308.93 L469.95 309.46 L470.1 310 L470.3 310.52 L470.55 311 L470.81 311.47 L471.07 311.96 L471.3 312.5 L471.5 313.12 L471.71 313.79 L471.89 314.48 L472.02 315.17 L472.1 315.8 L472.05 316.38 L471.88 316.93 L471.7 317.46 L471.61 317.98 L471.7 318.5 L472 319 L472.43 319.47 L472.98 319.94 L473.61 320.44 L474.3 321 L475.1 321.64 L476.04 322.34 L477.02 323.07 L477.97 323.8 L478.8 324.5 L479.57 325.17 L480.32 325.82 L481 326.46 L481.51 327.09 L481.8 327.7 L481.82 328.28 L481.62 328.84 L481.26 329.38 L480.8 329.93 L480.3 330.5 L479.73 331.09 L479.04 331.69 L478.3 332.29 L477.53 332.9 L476.8 333.5 L476.09 334.11 L475.37 334.72 L474.65 335.34 L473.96 335.93 L473.3 336.5 L472.65 337.07 L472 337.66 L471.38 338.2 L470.87 338.67 L470.5 339 L468.1 339 L467.73 338.67 L467.22 338.2 L466.6 337.66 L465.95 337.07 L465.3 336.5 L464.64 335.93 L463.95 335.34 L463.23 334.72 L462.51 334.11 L461.8 333.5 L461.07 332.9 L460.3 332.29 L459.56 331.69 L458.87 331.09 L458.3 330.5 L457.8 329.93 L457.34 329.38 L456.98 328.84 L456.78 328.28 L456.8 327.7 L457.09 327.09 L457.6 326.46 L458.28 325.82 L459.03 325.17 L459.8 324.5 L460.63 323.8 L461.58 323.07 L462.56 322.34 L463.5 321.64 L464.3 321 L464.99 320.44 L465.62 319.94 L466.17 319.47 L466.6 319 L466.9 318.5 L466.99 317.98 L466.9 317.46 L466.72 316.93 L466.55 316.38 L466.5 315.8 L466.58 315.17 L466.71 314.48 L466.89 313.79 L467.1 313.12 L467.3 312.5 L467.53 311.96 L467.79 311.47 L468.05 311 L468.3 310.52 L468.5 310 L468.65 309.46 L468.76 308.93 L468.84 308.37 L468.9 307.74 L468.95 307 L468.98 306.1 L468.99 305.05 L468.99 303.95 L468.97 302.9 L468.95 302 L468.93 301.27 L468.91 300.66 L468.88 300.1 L468.81 299.57 L468.7 299 L468.52 298.39 L468.29 297.78 L468.03 297.16 L467.76 296.57 L467.5 296 L467.23 295.45 L466.94 294.9 L466.66 294.38 L466.44 293.9 L466.3 293.5 L466.28 293.17 L466.36 292.91 L466.49 292.69 L466.62 292.53 L466.7 292.4 Z" stroke="#e8221c" stroke-width="0.7" fill="#f0614a" stroke-linejoin="round"/>
<line x1="464.5" y1="320.7" x2="474.1" y2="320.7" stroke="#1d1d1b" stroke-width="1.4" stroke-dasharray="1.2 1.2"/>
<line x1="457.3" y1="327.7" x2="481.3" y2="327.7" stroke="#1d1d1b" stroke-width="1.7" stroke-dasharray="2.6 1.5"/>
<line x1="458.8" y1="331.7" x2="479.8" y2="331.7" stroke="#1d1d1b" stroke-width="1.4" stroke-dasharray="1.2 1.2"/>
<circle cx="469.3" cy="292.4" r="2.05" fill="#fff" stroke="#111" stroke-width="0.8"/>
<circle cx="469.3" cy="316.2" r="2.05" fill="#fff" stroke="#111" stroke-width="0.8"/>
<circle cx="466.1" cy="325.6" r="2.05" fill="#fff" stroke="#111" stroke-width="0.8"/>
<circle cx="472.4" cy="324.6" r="2.05" fill="#fff" stroke="#111" stroke-width="0.8"/>
<circle cx="460" cy="327.7" r="2.05" fill="#fff" stroke="#111" stroke-width="0.8"/>
<circle cx="466.1" cy="328.4" r="2.05" fill="#fff" stroke="#111" stroke-width="0.8"/>
<circle cx="472.7" cy="330.3" r="2.05" fill="#fff" stroke="#111" stroke-width="0.8"/>
<circle cx="478.7" cy="332.7" r="2.05" fill="#fff" stroke="#111" stroke-width="0.8"/>
<circle cx="469.3" cy="338.7" r="2.05" fill="#fff" stroke="#111" stroke-width="0.8"/>
<text transform="translate(517.35 268.1) scale(0.9569 1)" font-size="26.12" fill="#1d1d1b" stroke="#1d1d1b" stroke-width="0.3">G</text>
<line x1="571.5" y1="271.3" x2="571.5" y2="377.3" stroke="#3c3c3c" stroke-width="1"/>
<line x1="571.3" y1="377.5" x2="660.1" y2="377.5" stroke="#3c3c3c" stroke-width="1"/>
<line x1="566.8" y1="271.5" x2="571.3" y2="271.5" stroke="#3c3c3c" stroke-width="1"/>
<text transform="translate(564.9 275.9) scale(0.9569 1)" font-size="13.58" text-anchor="end" fill="#1d1d1b">5</text>
<line x1="566.8" y1="292.5" x2="571.3" y2="292.5" stroke="#3c3c3c" stroke-width="1"/>
<text transform="translate(564.9 297.1) scale(0.9569 1)" font-size="13.58" text-anchor="end" fill="#1d1d1b">4</text>
<line x1="566.8" y1="313.5" x2="571.3" y2="313.5" stroke="#3c3c3c" stroke-width="1"/>
<text transform="translate(564.9 318.3) scale(0.9569 1)" font-size="13.58" text-anchor="end" fill="#1d1d1b">3</text>
<line x1="566.8" y1="334.5" x2="571.3" y2="334.5" stroke="#3c3c3c" stroke-width="1"/>
<text transform="translate(564.9 339.5) scale(0.9569 1)" font-size="13.58" text-anchor="end" fill="#1d1d1b">2</text>
<line x1="566.8" y1="356.5" x2="571.3" y2="356.5" stroke="#3c3c3c" stroke-width="1"/>
<text transform="translate(564.9 360.7) scale(0.9569 1)" font-size="13.58" text-anchor="end" fill="#1d1d1b">1</text>
<line x1="566.8" y1="377.5" x2="571.3" y2="377.5" stroke="#3c3c3c" stroke-width="1"/>
<text transform="translate(564.9 381.9) scale(0.9569 1)" font-size="13.58" text-anchor="end" fill="#1d1d1b">0</text>
<line x1="568.7" y1="281.5" x2="571.3" y2="281.5" stroke="#3c3c3c" stroke-width="1"/>
<line x1="568.7" y1="303.5" x2="571.3" y2="303.5" stroke="#3c3c3c" stroke-width="1"/>
<line x1="568.7" y1="324.5" x2="571.3" y2="324.5" stroke="#3c3c3c" stroke-width="1"/>
<line x1="568.7" y1="345.5" x2="571.3" y2="345.5" stroke="#3c3c3c" stroke-width="1"/>
<line x1="568.7" y1="366.5" x2="571.3" y2="366.5" stroke="#3c3c3c" stroke-width="1"/>
<line x1="596.5" y1="377.3" x2="596.5" y2="381.5" stroke="#3c3c3c" stroke-width="1"/>
<line x1="634.5" y1="377.3" x2="634.5" y2="381.5" stroke="#3c3c3c" stroke-width="1"/>
<text transform="translate(585.86 392.8) scale(0.9569 1)" font-size="11.24" fill="#1d1d1b">C57</text>
<text transform="translate(582.32 403.9) scale(0.9569 1)" font-size="11.55" fill="#1d1d1b">BL/6J</text>
<text transform="translate(620.35 392.8) scale(0.9569 1)" font-size="11.53" fill="#e52521">C58/J</text>
<text transform="translate(549.6 379.11) rotate(-90) scale(0.9569 1)" font-size="15.81" fill="#1d1d1b">Decay time (ms)</text>
<line x1="596.3" y1="276.3" x2="632.2" y2="276.3" stroke="#1d1d1b" stroke-width="1.4"/>
<line x1="616.3" y1="262.8" x2="616.3" y2="271" stroke="#1d1d1b" stroke-width="1.75" stroke-linecap="round"/>
<line x1="612.75" y1="264.85" x2="619.85" y2="268.95" stroke="#1d1d1b" stroke-width="1.75" stroke-linecap="round"/>
<line x1="612.75" y1="268.95" x2="619.85" y2="264.85" stroke="#1d1d1b" stroke-width="1.75" stroke-linecap="round"/>
<path d="M597 309.8 L597.35 309.98 L597.88 310.23 L598.44 310.54 L598.93 310.9 L599.2 311.3 L599.2 311.75 L599.01 312.25 L598.72 312.8 L598.42 313.38 L598.2 314 L598.02 314.68 L597.81 315.43 L597.64 316.2 L597.58 316.94 L597.7 317.6 L598.02 318.16 L598.51 318.64 L599.11 319.09 L599.78 319.53 L600.5 320 L601.31 320.48 L602.23 320.94 L603.19 321.42 L604.11 321.93 L604.9 322.5 L605.56 323.12 L606.13 323.79 L606.64 324.5 L607.09 325.24 L607.5 326 L607.87 326.8 L608.2 327.65 L608.48 328.52 L608.68 329.37 L608.8 330.2 L608.8 331 L608.71 331.78 L608.55 332.54 L608.36 333.28 L608.2 334 L608.06 334.68 L607.92 335.34 L607.77 335.98 L607.6 336.6 L607.4 337.2 L607.17 337.8 L606.91 338.38 L606.63 338.95 L606.33 339.49 L606 340 L605.65 340.45 L605.29 340.85 L604.9 341.24 L604.47 341.64 L604 342.1 L603.44 342.62 L602.8 343.18 L602.14 343.77 L601.52 344.38 L601 345 L600.62 345.66 L600.34 346.35 L600.1 347.06 L599.84 347.75 L599.5 348.4 L599.02 349.04 L598.45 349.7 L597.87 350.31 L597.36 350.83 L597 351.2 L595 351.2 L594.64 350.83 L594.13 350.31 L593.55 349.7 L592.98 349.04 L592.5 348.4 L592.16 347.75 L591.9 347.06 L591.66 346.35 L591.38 345.66 L591 345 L590.48 344.38 L589.86 343.77 L589.2 343.18 L588.56 342.62 L588 342.1 L587.53 341.64 L587.1 341.24 L586.71 340.85 L586.35 340.45 L586 340 L585.67 339.49 L585.37 338.95 L585.09 338.38 L584.83 337.8 L584.6 337.2 L584.4 336.6 L584.23 335.98 L584.08 335.34 L583.94 334.68 L583.8 334 L583.64 333.28 L583.45 332.54 L583.29 331.78 L583.2 331 L583.2 330.2 L583.32 329.37 L583.52 328.52 L583.8 327.65 L584.13 326.8 L584.5 326 L584.91 325.24 L585.36 324.5 L585.87 323.79 L586.44 323.12 L587.1 322.5 L587.89 321.93 L588.81 321.42 L589.77 320.94 L590.69 320.48 L591.5 320 L592.22 319.53 L592.89 319.09 L593.49 318.64 L593.98 318.16 L594.3 317.6 L594.42 316.94 L594.36 316.2 L594.19 315.43 L593.98 314.68 L593.8 314 L593.58 313.38 L593.28 312.8 L592.99 312.25 L592.8 311.75 L592.8 311.3 L593.07 310.9 L593.56 310.54 L594.12 310.23 L594.65 309.98 L595 309.8 Z" stroke="#7a7a7a" stroke-width="0.7" fill="#8f8f8f" stroke-linejoin="round"/>
<line x1="584.7" y1="326.4" x2="607.3" y2="326.4" stroke="#1d1d1b" stroke-width="1.4" stroke-dasharray="1.2 1.2"/>
<line x1="583.4" y1="332.6" x2="608.6" y2="332.6" stroke="#1d1d1b" stroke-width="1.7" stroke-dasharray="2.6 1.5"/>
<line x1="586" y1="340.3" x2="606" y2="340.3" stroke="#1d1d1b" stroke-width="1.4" stroke-dasharray="1.2 1.2"/>
<circle cx="596" cy="309.8" r="2.05" fill="#fff" stroke="#111" stroke-width="0.8"/>
<circle cx="591.8" cy="324.8" r="2.05" fill="#fff" stroke="#111" stroke-width="0.8"/>
<circle cx="600.2" cy="326.6" r="2.05" fill="#fff" stroke="#111" stroke-width="0.8"/>
<circle cx="604.4" cy="329" r="2.05" fill="#fff" stroke="#111" stroke-width="0.8"/>
<circle cx="587.6" cy="332.6" r="2.05" fill="#fff" stroke="#111" stroke-width="0.8"/>
<circle cx="596" cy="332.2" r="2.05" fill="#fff" stroke="#111" stroke-width="0.8"/>
<circle cx="587.6" cy="337.8" r="2.05" fill="#fff" stroke="#111" stroke-width="0.8"/>
<circle cx="596" cy="340" r="2.05" fill="#fff" stroke="#111" stroke-width="0.8"/>
<circle cx="604.4" cy="340" r="2.05" fill="#fff" stroke="#111" stroke-width="0.8"/>
<circle cx="596" cy="351.2" r="2.05" fill="#fff" stroke="#111" stroke-width="0.8"/>
<path d="M636.5 289.1 L636.6 289.24 L636.75 289.42 L636.91 289.65 L637.01 289.94 L637 290.3 L636.85 290.74 L636.6 291.26 L636.3 291.83 L635.98 292.42 L635.7 293 L635.44 293.58 L635.17 294.18 L634.91 294.79 L634.68 295.4 L634.5 296 L634.38 296.58 L634.31 297.15 L634.28 297.73 L634.26 298.34 L634.25 299 L634.23 299.75 L634.22 300.58 L634.22 301.42 L634.26 302.25 L634.35 303 L634.47 303.65 L634.62 304.22 L634.81 304.78 L635.06 305.35 L635.4 306 L635.85 306.72 L636.39 307.48 L636.99 308.28 L637.61 309.12 L638.2 310 L638.79 310.94 L639.39 311.93 L639.99 312.95 L640.57 313.98 L641.1 315 L641.58 316 L642.02 317 L642.43 318 L642.82 319 L643.2 320 L643.57 321.02 L643.92 322.07 L644.25 323.11 L644.58 324.1 L644.9 325 L645.23 325.82 L645.57 326.57 L645.9 327.26 L646.18 327.9 L646.4 328.5 L646.54 329.07 L646.62 329.62 L646.66 330.1 L646.68 330.51 L646.7 330.8 L621.1 330.8 L621.12 330.51 L621.14 330.1 L621.18 329.62 L621.26 329.07 L621.4 328.5 L621.62 327.9 L621.9 327.26 L622.23 326.57 L622.57 325.82 L622.9 325 L623.22 324.1 L623.55 323.11 L623.88 322.07 L624.23 321.02 L624.6 320 L624.98 319 L625.37 318 L625.78 317 L626.22 316 L626.7 315 L627.23 313.98 L627.81 312.95 L628.41 311.93 L629.01 310.94 L629.6 310 L630.19 309.12 L630.81 308.28 L631.41 307.48 L631.95 306.72 L632.4 306 L632.74 305.35 L632.99 304.78 L633.18 304.22 L633.33 303.65 L633.45 303 L633.54 302.25 L633.58 301.42 L633.58 300.58 L633.57 299.75 L633.55 299 L633.54 298.34 L633.52 297.73 L633.49 297.15 L633.42 296.58 L633.3 296 L633.12 295.4 L632.89 294.79 L632.63 294.18 L632.36 293.58 L632.1 293 L631.82 292.42 L631.5 291.83 L631.2 291.26 L630.95 290.74 L630.8 290.3 L630.79 289.94 L630.89 289.65 L631.05 289.42 L631.2 289.24 L631.3 289.1 Z" stroke="#e8221c" stroke-width="0.7" fill="#f0614a" stroke-linejoin="round"/>
<line x1="626.9" y1="315.6" x2="640.9" y2="315.6" stroke="#1d1d1b" stroke-width="1.4" stroke-dasharray="1.2 1.2"/>
<line x1="622.9" y1="324.2" x2="644.9" y2="324.2" stroke="#1d1d1b" stroke-width="1.7" stroke-dasharray="2.6 1.5"/>
<line x1="621.9" y1="328.8" x2="645.9" y2="328.8" stroke="#1d1d1b" stroke-width="1.4" stroke-dasharray="1.2 1.2"/>
<circle cx="633.9" cy="289.1" r="2.05" fill="#fff" stroke="#111" stroke-width="0.8"/>
<circle cx="630.7" cy="313.7" r="2.05" fill="#fff" stroke="#111" stroke-width="0.8"/>
<circle cx="637.1" cy="317.5" r="2.05" fill="#fff" stroke="#111" stroke-width="0.8"/>
<circle cx="637.1" cy="321" r="2.05" fill="#fff" stroke="#111" stroke-width="0.8"/>
<circle cx="630.7" cy="324.2" r="2.05" fill="#fff" stroke="#111" stroke-width="0.8"/>
<circle cx="624.5" cy="327.7" r="2.05" fill="#fff" stroke="#111" stroke-width="0.8"/>
<circle cx="630.7" cy="329" r="2.05" fill="#fff" stroke="#111" stroke-width="0.8"/>
<circle cx="637.1" cy="330.8" r="2.05" fill="#fff" stroke="#111" stroke-width="0.8"/>
<circle cx="643.3" cy="330.8" r="2.05" fill="#fff" stroke="#111" stroke-width="0.8"/>
<text transform="translate(60.8 448.9) scale(0.9569 1)" font-size="28.74" fill="#1d1d1b" stroke="#1d1d1b" stroke-width="0.3">H</text>
<text transform="translate(142.43 461.5) scale(0.9569 1)" font-size="13.99" fill="#1d1d1b">C57BL/6J</text>
<text transform="translate(154.02 570.6) scale(0.9569 1)" font-size="14.17" fill="#e52521">C58/J</text>
<path d="M82.5 528.2 L82.5 551.9 L125.7 551.9" stroke="#222" stroke-width="1.3" fill="none" stroke-linejoin="round"/>
<text transform="translate(86.17 536.6) scale(0.9569 1)" font-size="10.97" fill="#1d1d1b">1 mV</text>
<text transform="translate(86.38 547.8) scale(0.9569 1)" font-size="10.97" fill="#1d1d1b">20 ms</text>
<line x1="107.8" y1="514.2" x2="263.6" y2="514.2" stroke="#5a5a5a" stroke-width="0.9" stroke-dasharray="4 3"/>
<line x1="106.4" y1="619.3" x2="263.9" y2="619.3" stroke="#5a5a5a" stroke-width="0.9" stroke-dasharray="4 3"/>
<path d="M83.3 464.78 L83.55 464.82 L83.8 465.02 L84.05 464.92 L84.3 464.87 L84.55 464.89 L84.8 464.69 L85.05 464.74 L85.3 464.83 L85.55 464.96 L85.8 464.7 L86.05 464.64 L86.3 464.5 L86.55 464.77 L86.8 464.88 L87.05 464.62 L87.3 464.93 L87.55 465.11 L87.8 465.06 L88.05 465.02 L88.3 464.76 L88.55 464.53 L88.8 464.65 L89.05 464.49 L89.3 464.46 L89.55 464.47 L89.8 464.37 L90.05 464.52 L90.3 464.6 L90.55 464.85 L90.8 464.84 L91.05 464.89 L91.3 464.86 L91.55 464.92 L91.8 464.85 L92.05 464.72 L92.3 465 L92.55 465.17 L92.8 465.19 L93.05 465.26 L93.3 466.23 L93.55 468.23 L93.8 466.92 L94.05 463.82 L94.3 458.36 L94.55 454.92 L94.8 460.07 L95.05 463.44 L95.3 462.99 L95.55 461.67 L95.8 461.74 L96.05 462.96 L96.3 464.1 L96.55 464.06 L96.8 463.98 L97.05 463.72 L97.3 463.72 L97.55 464.26 L97.8 464.71 L98.05 464.65 L98.3 464.33 L98.55 463.9 L98.8 463.49 L99.05 462.92 L99.3 462.58 L99.55 463.06 L99.8 463.7 L100.05 464.14 L100.3 464.76 L100.55 464.95 L100.8 465.62 L101.05 466.54 L101.3 467.57 L101.55 468.78 L101.8 469.01 L102.05 468.75 L102.3 467.56 L102.55 466.49 L102.8 465.7 L103.05 465.79 L103.3 467.03 L103.55 467.92 L103.8 467.44 L104.05 466.96 L104.3 467.07 L104.55 468.07 L104.8 468.34 L105.05 467.03 L105.3 465.32 L105.55 464.86 L105.8 464.37 L106.05 464.18 L106.3 464.38 L106.55 464.34 L106.8 464.38 L107.05 464.37 L107.3 464.44 L107.55 464.79 L107.8 464.91 L108.05 465.26 L108.3 465.48 L108.55 465.83 L108.8 466.5 L109.05 466.9 L109.3 467.48 L109.55 468.27 L109.8 468.73 L110.05 469.31 L110.3 470.33 L110.55 471.15 L110.8 471.55 L111.05 471.88 L111.3 472.39 L111.55 472.73 L111.8 472.45 L112.05 472.52 L112.3 472.36 L112.55 471.91 L112.8 471.32 L113.05 470.56 L113.3 469.82 L113.55 469.59 L113.8 468.85 L114.05 468.42 L114.3 467.74 L114.55 467.44 L114.8 467 L115.05 466.45 L115.3 465.96 L115.55 465.85 L115.8 465.4 L116.05 465.15 L116.3 465.13 L116.55 465.24 L116.8 465.16 L117.05 464.93 L117.3 465.11 L117.55 464.85 L117.8 464.59 L118.05 464.56 L118.3 464.63 L118.55 464.48 L118.8 464.45 L119.05 464.52 L119.3 464.67 L119.55 464.54 L119.8 464.57 L120.05 464.86 L120.3 465.07 L120.55 465.03 L120.8 465.01 L121.05 464.92 L121.3 464.62 L121.55 464.33 L121.8 464.09 L122.05 464.31 L122.3 464.25 L122.55 464.24 L122.8 463.68 L123.05 463.58 L123.3 463.41 L123.55 463.43 L123.8 463.29 L124.05 463.62 L124.3 463.45 L124.55 463.69 L124.8 464.03 L125.05 464.4 L125.3 464.6 L125.55 464.74 L125.8 464.9 L126.05 465.06 L126.3 464.89 L126.55 464.95 L126.8 465.09 L127.05 465.16 L127.3 464.98 L127.55 465.05 L127.8 465.13 L128.05 465.04 L128.3 465 L128.55 464.86 L128.8 464.88 L129.05 464.9 L129.3 464.65 L129.55 464.78 L129.8 465.04 L130.05 465.13 L130.3 465.11 L130.55 464.93 L130.8 465 L131.05 464.96 L131.3 464.87 L131.55 465.01 L131.8 464.72 L132.05 464.88 L132.3 464.61 L132.55 464.74 L132.8 464.75 L133.05 464.64 L133.3 464.8 L133.55 464.8 L133.8 464.86 L134.05 465.04 L134.3 464.82 L134.55 464.57 L134.8 464.56 L135.05 464.75 L135.3 464.62 L135.55 464.53 L135.8 464.84 L136.05 464.9 L136.3 464.83 L136.55 465.02 L136.8 464.84 L137.05 464.91 L137.3 464.71 L137.55 464.71 L137.8 464.9 L138.05 465.07 L138.3 465.15 L138.55 464.95 L138.8 464.93 L139.05 464.79 L139.3 464.61 L139.55 464.68 L139.8 464.9 L140.05 465.03 L140.3 465.05 L140.55 465.17 L140.8 464.91 L141.05 464.7 L141.3 464.72 L141.55 464.64 L141.8 464.56 L142.05 464.61 L142.3 464.75 L142.55 464.77 L142.8 464.69 L143.05 464.9 L143.3 465.1 L143.55 464.96 L143.8 464.68 L144.05 464.49 L144.3 464.8 L144.55 464.57 L144.8 464.77 L145.05 464.82 L145.3 464.71 L145.55 464.89 L145.8 464.62 L146.05 464.51 L146.3 464.6 L146.55 464.44 L146.8 464.75 L147.05 464.64 L147.3 464.52 L147.55 464.41 L147.8 464.63 L148.05 464.67 L148.3 464.79 L148.55 464.87 L148.8 465 L149.05 465.15 L149.3 465.1 L149.55 464.83 L149.8 464.81 L150.05 464.64 L150.3 464.46 L150.55 464.58 L150.8 464.78 L151.05 464.63 L151.3 464.58 L151.55 464.59 L151.8 464.77 L152.05 464.79 L152.3 464.85 L152.55 464.96 L152.8 464.84 L153.05 464.97 L153.3 465.11 L153.55 464.78 L153.8 465 L154.05 465.03 L154.3 464.75 L154.55 464.75 L154.8 464.83 L155.05 465.02 L155.3 464.87 L155.55 464.88 L155.8 465.04 L156.05 465.09 L156.3 465.2 L156.55 465.02 L156.8 465.01 L157.05 464.78 L157.3 464.9 L157.55 465.02 L157.8 465 L158.05 465.03 L158.3 464.79 L158.55 465 L158.8 465.16 L159.05 465.25 L159.3 465.09 L159.55 465.12 L159.8 464.9 L160.05 465.07 L160.3 465.14 L160.55 464.93 L160.8 464.67 L161.05 464.69 L161.3 464.76 L161.55 464.91 L161.8 464.86 L162.05 464.6 L162.3 464.83 L162.55 464.6 L162.8 464.83 L163.05 464.66 L163.3 464.63 L163.55 464.84 L163.8 464.65 L164.05 464.53 L164.3 464.65 L164.55 464.82 L164.8 464.98 L165.05 465 L165.3 465.15 L165.55 465 L165.8 465.15 L166.05 464.8 L166.3 464.66 L166.55 464.73 L166.8 464.65 L167.05 464.83 L167.3 464.89 L167.55 464.86 L167.8 465.01 L168.05 464.96 L168.3 464.8 L168.55 464.74 L168.8 464.94 L169.05 465.08 L169.3 464.82 L169.55 464.99 L169.8 465.15 L170.05 465.02 L170.3 464.97 L170.55 464.75 L170.8 464.79 L171.05 464.8 L171.3 464.85 L171.55 464.59 L171.8 464.91 L172.05 464.87 L172.3 464.8 L172.55 464.95 L172.8 464.92 L173.05 464.87 L173.3 464.94 L173.55 464.66 L173.8 464.74 L174.05 464.72 L174.3 464.98 L174.55 465.12 L174.8 464.88 L175.05 464.83 L175.3 464.63 L175.55 464.67 L175.8 464.88 L176.05 465.05 L176.3 464.94 L176.55 464.79 L176.8 464.64 L177.05 464.76 L177.3 464.99 L177.55 464.73 L177.8 464.9 L178.05 464.62 L178.3 464.54 L178.55 464.51 L178.8 464.72 L179.05 464.66 L179.3 464.64 L179.55 464.77 L179.8 464.58 L180.05 464.78 L180.3 464.6 L180.55 464.69 L180.8 464.61 L181.05 464.53 L181.3 464.66 L181.55 464.68 L181.8 464.67 L182.05 464.68 L182.3 464.74 L182.55 464.59 L182.8 464.53 L183.05 464.7 L183.3 464.81 L183.55 464.82 L183.8 464.99 L184.05 464.97 L184.3 465.08 L184.55 464.83 L184.8 464.94 L185.05 465.04 L185.3 465.15 L185.55 464.92 L185.8 464.78 L186.05 465 L186.3 464.78 L186.55 465.04 L186.8 465.14 L187.05 464.82 L187.3 464.68 L187.55 464.84 L187.8 464.7 L188.05 464.54 L188.3 464.81 L188.55 464.77 L188.8 464.93 L189.05 464.69 L189.3 464.68 L189.55 464.82 L189.8 464.57 L190.05 464.51 L190.3 464.72 L190.55 464.96 L190.8 465.13 L191.05 464.8 L191.3 464.81 L191.55 464.93 L191.8 464.88 L192.05 464.94 L192.3 464.73 L192.55 464.54 L192.8 464.45 L193.05 464.36 L193.3 464.56 L193.55 464.66 L193.8 464.75 L194.05 464.59 L194.3 464.52 L194.55 464.48 L194.8 464.78 L195.05 465.03 L195.3 465.15 L195.55 464.81 L195.8 464.59 L196.05 464.9 L196.3 464.84 L196.55 464.96 L196.8 464.81 L197.05 464.79 L197.3 464.8 L197.55 464.77 L197.8 464.83 L198.05 464.57 L198.3 464.77 L198.55 464.95 L198.8 464.73 L199.05 464.74 L199.3 464.88 L199.55 464.8 L199.8 464.65 L200.05 464.54 L200.3 464.65 L200.55 464.47 L200.8 464.8 L201.05 464.95 L201.3 464.99 L201.55 465.1 L201.8 465.04 L202.05 464.9 L202.3 464.91 L202.55 464.87 L202.8 465.08 L203.05 465.12 L203.3 464.87 L203.55 465.05 L203.8 465.07 L204.05 465.1 L204.3 465.14 L204.55 464.96 L204.8 465.09 L205.05 465.17 L205.3 465.12 L205.55 465.12 L205.8 465.13 L206.05 464.95 L206.3 465 L206.55 464.71 L206.8 464.66 L207.05 464.7 L207.3 464.5 L207.55 464.55 L207.8 464.72 L208.05 464.81 L208.3 464.67 L208.55 464.95 L208.8 464.97 L209.05 464.82 L209.3 464.89 L209.55 464.89 L209.8 464.87 L210.05 464.79 L210.3 465.04 L210.55 465.02 L210.8 465.03 L211.05 465.07 L211.3 465.2 L211.55 464.8 L211.8 464.86 L212.05 464.95 L212.3 464.77 L212.55 464.73 L212.8 464.54 L213.05 464.49 L213.3 464.55 L213.55 464.45 L213.8 464.47 L214.05 464.8 L214.3 464.83 L214.55 464.82 L214.8 465.05 L215.05 464.98 L215.3 465.16 L215.55 465.08 L215.8 465.12 L216.05 464.78 L216.3 464.84 L216.55 464.95 L216.8 464.66 L217.05 464.93 L217.3 464.71 L217.55 464.73 L217.8 464.59 L218.05 464.67 L218.3 464.78 L218.55 464.57 L218.8 464.88 L219.05 464.81 L219.3 464.82 L219.55 464.85 L219.8 464.07 L220.05 458.41 L220.3 458.41 L220.55 475.08 L220.8 479.45 L221.05 469.08 L221.3 464.9 L221.55 463.39 L221.8 460.23 L222.05 457.01 L222.3 457.99 L222.55 461.34 L222.8 463.62 L223.05 464.72 L223.3 464.97 L223.55 464.67 L223.8 464.9 L224.05 464.91 L224.3 464.4 L224.55 464.5 L224.8 464.43 L225.05 464.55 L225.3 464.93 L225.55 464.79 L225.8 464.82 L226.05 465.03 L226.3 465.05 L226.55 464.94 L226.8 465.15 L227.05 465.26 L227.3 465.38 L227.55 465.5 L227.8 466.24 L228.05 466.99 L228.3 467.47 L228.55 467.48 L228.8 467.23 L229.05 466.38 L229.3 465.7 L229.55 465.3 L229.8 464.97 L230.05 464.73 L230.3 464.78 L230.55 464.74 L230.8 464.91 L231.05 464.89 L231.3 465.11 L231.55 465.23 L231.8 465.2 L232.05 464.94 L232.3 464.73 L232.55 465 L232.8 465.13 L233.05 465.14 L233.3 465.04 L233.55 464.97 L233.8 465.16 L234.05 465.26 L234.3 465.37 L234.55 465.52 L234.8 465.72 L235.05 465.63 L235.3 465.68 L235.55 466.16 L235.8 466.5 L236.05 466.77 L236.3 466.61 L236.55 466.62 L236.8 466.83 L237.05 467.13 L237.3 467.49 L237.55 467.53 L237.8 467.85 L238.05 467.86 L238.3 467.93 L238.55 468.29 L238.8 468.47 L239.05 468.61 L239.3 468.56 L239.55 468.54 L239.8 468.33 L240.05 468.19 L240.3 468.22 L240.55 468.17 L240.8 467.65 L241.05 467.25 L241.3 467.24 L241.55 467.03 L241.8 466.87 L242.05 466.4 L242.3 466.14 L242.55 465.82 L242.8 465.83 L243.05 465.57 L243.3 465.5 L243.55 465.59 L243.8 465.28 L244.05 465.18 L244.3 465.2 L244.55 465.29 L244.8 465.08 L245.05 464.92 L245.3 464.68 L245.55 464.93 L245.8 464.67 L246.05 464.52 L246.3 464.66 L246.55 464.71 L246.8 464.84 L247.05 464.72 L247.3 464.89 L247.55 464.64 L247.8 464.56 L248.05 464.74 L248.3 464.55 L248.55 464.55 L248.8 464.77 L249.05 464.88 L249.3 464.74 L249.55 464.58 L249.8 464.6 L250.05 464.79 L250.3 464.73 L250.55 464.57 L250.8 464.76 L251.05 464.81 L251.3 465.02 L251.55 465.15 L251.8 465.22 L252.05 465.02 L252.3 465.08 L252.55 464.87 L252.8 464.75 L253.05 464.72 L253.3 464.97 L253.55 465.1 L253.8 464.85 L254.05 464.76 L254.3 464.71 L254.55 464.68 L254.8 464.67 L255.05 464.67 L255.3 464.57 L255.55 464.69 L255.8 464.88 L256.05 464.87 L256.3 465.01 L256.55 464.96 L256.8 464.73 L257.05 464.89 L257.3 465.04 L257.55 464.84 L257.8 464.58 L258.05 464.68 L258.3 464.75 L258.55 464.8 L258.8 465.04 L259.05 465.02 L259.3 465.08 L259.55 464.75 L259.8 464.79 L260.05 464.94 L260.3 464.68 L260.55 464.52 L260.8 464.75 L261.05 464.97 L261.3 464.69 L261.55 464.8 L261.8 464.62 L262.05 464.82 L262.3 464.88 L262.55 464.72 L262.8 464.61 L263.05 464.82 L263.3 464.82 L263.55 464.95 L263.8 464.84 L264.05 464.74 L264.3 465 L264.55 465.01 L264.8 464.92 L265.05 464.89 L265.3 464.96 L265.55 465 L265.8 465.13 L266.05 464.95 L266.3 465.05 L266.55 465.04 L266.8 465.12 L267.05 465.14 L267.3 465.17 L267.55 465.22 L267.8 465.28 L268.05 465.16 L268.3 465.03 L268.55 465.04 L268.8 465.1 L269.05 464.94 L269.3 464.84 L269.55 464.65 L269.8 464.83 L270.05 465.06 L270.3 464.9 L270.55 464.69 L270.8 464.59 L271.05 464.63 L271.3 464.6 L271.55 464.91 L271.8 464.65" stroke="#8f8f8f" stroke-width="0.9" fill="none" stroke-linejoin="round"/>
<path d="M83.3 464.78 L83.55 464.9 L83.8 464.98 L84.05 464.66 L84.3 464.37 L84.55 464.45 L84.8 464.43 L85.05 464.8 L85.3 464.93 L85.55 464.95 L85.8 464.93 L86.05 464.99 L86.3 464.67 L86.55 464.68 L86.8 464.49 L87.05 464.9 L87.3 464.55 L87.55 464.87 L87.8 464.55 L88.05 464.78 L88.3 464.67 L88.55 464.66 L88.8 464.95 L89.05 464.56 L89.3 464.35 L89.55 464.82 L89.8 464.82 L90.05 464.52 L90.3 464.98 L90.55 465.22 L90.8 464.78 L91.05 464.73 L91.3 464.5 L91.55 464.49 L91.8 464.7 L92.05 464.5 L92.3 464.76 L92.55 464.46 L92.8 464.37 L93.05 464.89 L93.3 466.03 L93.55 468.19 L93.8 467.06 L94.05 464.11 L94.3 458.31 L94.55 454.62 L94.8 459.87 L95.05 463.71 L95.3 463.26 L95.55 461.77 L95.8 461.95 L96.05 463.14 L96.3 464.13 L96.55 464.22 L96.8 463.56 L97.05 463.33 L97.3 463.6 L97.55 464.13 L97.8 464.72 L98.05 464.76 L98.3 464.27 L98.55 464.17 L98.8 463.37 L99.05 462.74 L99.3 462.47 L99.55 463.07 L99.8 463.82 L100.05 464.62 L100.3 464.63 L100.55 465.07 L100.8 465.43 L101.05 466.59 L101.3 467.43 L101.55 468.43 L101.8 468.87 L102.05 468.69 L102.3 467.41 L102.55 466.42 L102.8 465.61 L103.05 465.71 L103.3 466.77 L103.55 468 L103.8 467.68 L104.05 467.4 L104.3 467.53 L104.55 469.15 L104.8 469.41 L105.05 468.45 L105.3 468.11 L105.55 468.77 L105.8 469.52 L106.05 471.21 L106.3 473.78 L106.55 476.44 L106.8 479.6 L107.05 483.13 L107.3 487.19 L107.55 491.98 L107.8 496.99 L108.05 501.72 L108.3 505.63 L108.55 508.69 L108.8 511.31 L109.05 513.29 L109.3 514.07 L109.55 513.57 L109.8 511.85 L110.05 509.58 L110.3 506.54 L110.55 503.04 L110.8 498.87 L111.05 495.06 L111.3 491.06 L111.55 486.61 L111.8 482.69 L112.05 479.59 L112.3 476.36 L112.55 474.12 L112.8 471.87 L113.05 470.19 L113.3 468.84 L113.55 467.44 L113.8 466.45 L114.05 465.7 L114.3 465.43 L114.55 465.17 L114.8 464.51 L115.05 464.53 L115.3 464.09 L115.55 463.57 L115.8 463.25 L116.05 463.29 L116.3 462.88 L116.55 462.57 L116.8 462.49 L117.05 462.4 L117.3 462.18 L117.55 461.81 L117.8 461.7 L118.05 461.84 L118.3 461.82 L118.55 461.64 L118.8 461.34 L119.05 461.12 L119.3 461.19 L119.55 461.05 L119.8 460.5 L120.05 460.58 L120.3 460.68 L120.55 460.6 L120.8 460.57 L121.05 460.54 L121.3 460.25 L121.55 460.29 L121.8 460.09 L122.05 459.89 L122.3 460.13 L122.55 460.46 L122.8 461.31 L123.05 461.88 L123.3 462.33 L123.55 462.84 L123.8 462.96 L124.05 463.44 L124.3 463.94 L124.55 464.09 L124.8 464.13 L125.05 464.3 L125.3 464.36 L125.55 464.66 L125.8 464.46 L126.05 464.31 L126.3 464.38 L126.55 464.68 L126.8 464.91 L127.05 464.98 L127.3 465.21 L127.55 464.95 L127.8 464.56 L128.05 464.65 L128.3 464.67 L128.55 464.5 L128.8 464.74 L129.05 464.65 L129.3 464.53 L129.55 464.52 L129.8 464.94 L130.05 464.54 L130.3 464.55 L130.55 464.49 L130.8 464.41 L131.05 464.52 L131.3 464.43 L131.55 464.87 L131.8 464.85 L132.05 464.97 L132.3 464.66 L132.55 464.69 L132.8 464.81 L133.05 465.05 L133.3 464.77 L133.55 464.76 L133.8 465.02 L134.05 465.17 L134.3 464.83 L134.55 464.84 L134.8 465.01 L135.05 464.85 L135.3 464.95 L135.55 465.01 L135.8 465.25 L136.05 465.11 L136.3 465.11 L136.55 464.88 L136.8 465.01 L137.05 464.8 L137.3 464.8 L137.55 464.7 L137.8 464.61 L138.05 464.43 L138.3 464.39 L138.55 464.58 L138.8 464.5 L139.05 464.3 L139.3 464.71 L139.55 464.6 L139.8 464.98 L140.05 464.98 L140.3 464.83 L140.55 465.08 L140.8 465.25 L141.05 464.94 L141.3 464.62 L141.55 464.79 L141.8 465.04 L142.05 465.02 L142.3 465.13 L142.55 464.94 L142.8 464.96 L143.05 464.73 L143.3 464.69 L143.55 464.65 L143.8 464.63 L144.05 464.63 L144.3 464.91 L144.55 464.64 L144.8 464.5 L145.05 464.45 L145.3 464.92 L145.55 464.89 L145.8 464.54 L146.05 464.88 L146.3 465.11 L146.55 465.21 L146.8 464.95 L147.05 465.05 L147.3 464.82 L147.55 464.56 L147.8 464.91 L148.05 465.1 L148.3 464.78 L148.55 465.05 L148.8 464.62 L149.05 464.56 L149.3 464.31 L149.55 464.28 L149.8 464.25 L150.05 464.62 L150.3 464.55 L150.55 464.43 L150.8 464.36 L151.05 464.4 L151.3 464.82 L151.55 464.88 L151.8 464.57 L152.05 464.79 L152.3 464.82 L152.55 464.78 L152.8 464.81 L153.05 464.91 L153.3 465.08 L153.55 464.97 L153.8 465 L154.05 464.89 L154.3 464.95 L154.55 464.81 L154.8 464.75 L155.05 464.78 L155.3 464.94 L155.55 464.73 L155.8 465.05 L156.05 464.95 L156.3 465.14 L156.55 465.14 L156.8 465.32 L157.05 465.24 L157.3 465.01 L157.55 464.86 L157.8 464.91 L158.05 465.05 L158.3 465.18 L158.55 464.77 L158.8 464.48 L159.05 464.33 L159.3 464.23 L159.55 464.15 L159.8 464.06 L160.05 464.18 L160.3 464.16 L160.55 464.55 L160.8 464.73 L161.05 465.08 L161.3 465.29 L161.55 465.27 L161.8 465.4 L162.05 464.83 L162.3 464.63 L162.55 464.99 L162.8 464.9 L163.05 464.65 L163.3 464.89 L163.55 464.8 L163.8 464.83 L164.05 464.69 L164.3 464.55 L164.55 464.36 L164.8 464.61 L165.05 465 L165.3 465.26 L165.55 465.26 L165.8 465.38 L166.05 465.05 L166.3 464.81 L166.55 465.1 L166.8 465.05 L167.05 465.07 L167.3 464.62 L167.55 464.5 L167.8 464.61 L168.05 464.85 L168.3 465.06 L168.55 465.13 L168.8 464.89 L169.05 464.77 L169.3 465.04 L169.55 465.28 L169.8 465.08 L170.05 464.75 L170.3 464.86 L170.55 464.86 L170.8 464.74 L171.05 464.58 L171.3 464.58 L171.55 464.75 L171.8 464.51 L172.05 464.65 L172.3 465.03 L172.55 465.11 L172.8 464.81 L173.05 464.75 L173.3 464.49 L173.55 464.78 L173.8 464.88 L174.05 464.62 L174.3 464.73 L174.55 464.82 L174.8 464.87 L175.05 464.76 L175.3 464.64 L175.55 464.6 L175.8 465.03 L176.05 464.82 L176.3 464.81 L176.55 464.78 L176.8 464.56 L177.05 464.59 L177.3 464.46 L177.55 464.47 L177.8 464.51 L178.05 464.52 L178.3 464.94 L178.55 464.74 L178.8 464.65 L179.05 464.82 L179.3 464.74 L179.55 464.77 L179.8 464.89 L180.05 464.55 L180.3 464.77 L180.55 464.5 L180.8 464.45 L181.05 464.81 L181.3 465.15 L181.55 465.13 L181.8 464.77 L182.05 464.74 L182.3 464.61 L182.55 464.92 L182.8 464.69 L183.05 464.52 L183.3 464.73 L183.55 464.85 L183.8 464.89 L184.05 464.84 L184.3 465.15 L184.55 464.98 L184.8 465.21 L185.05 464.97 L185.3 464.88 L185.55 464.75 L185.8 464.92 L186.05 465.05 L186.3 464.77 L186.55 464.8 L186.8 464.96 L187.05 464.9 L187.3 464.97 L187.55 464.98 L187.8 465.06 L188.05 464.85 L188.3 464.7 L188.55 464.41 L188.8 464.84 L189.05 465.02 L189.3 464.86 L189.55 465.16 L189.8 465.3 L190.05 464.86 L190.3 465.07 L190.55 464.91 L190.8 464.73 L191.05 464.59 L191.3 464.61 L191.55 464.38 L191.8 464.23 L192.05 464.19 L192.3 464.3 L192.55 464.26 L192.8 464.21 L193.05 464.68 L193.3 464.64 L193.55 464.7 L193.8 464.81 L194.05 465.11 L194.3 464.74 L194.55 464.57 L194.8 464.92 L195.05 465.16 L195.3 465.32 L195.55 465.13 L195.8 464.9 L196.05 464.64 L196.3 464.99 L196.55 465.1 L196.8 465.02 L197.05 465.13 L197.3 464.83 L197.55 464.84 L197.8 465.11 L198.05 464.71 L198.3 464.83 L198.55 464.6 L198.8 464.91 L199.05 465.11 L199.3 465.08 L199.55 464.93 L199.8 464.54 L200.05 464.64 L200.3 464.61 L200.55 464.61 L200.8 464.39 L201.05 464.85 L201.3 464.85 L201.55 464.87 L201.8 465.08 L202.05 465.25 L202.3 465.1 L202.55 465.01 L202.8 465.17 L203.05 464.93 L203.3 465.16 L203.55 464.68 L203.8 464.94 L204.05 464.9 L204.3 464.95 L204.55 465.23 L204.8 464.86 L205.05 464.77 L205.3 464.99 L205.55 465.09 L205.8 464.99 L206.05 465.11 L206.3 465.11 L206.55 465.24 L206.8 465.17 L207.05 464.93 L207.3 464.73 L207.55 464.46 L207.8 464.33 L208.05 464.2 L208.3 464.77 L208.55 464.53 L208.8 464.71 L209.05 464.49 L209.3 464.94 L209.55 464.91 L209.8 464.64 L210.05 464.93 L210.3 465.13 L210.55 465.33 L210.8 464.93 L211.05 464.81 L211.3 464.92 L211.55 464.72 L211.8 464.8 L212.05 464.94 L212.3 465.06 L212.55 465.18 L212.8 465.21 L213.05 464.89 L213.3 465.03 L213.55 464.89 L213.8 464.63 L214.05 464.36 L214.3 464.62 L214.55 464.59 L214.8 464.39 L215.05 464.55 L215.3 464.59 L215.55 464.55 L215.8 464.7 L216.05 464.77 L216.3 464.8 L216.55 465.14 L216.8 465.29 L217.05 464.95 L217.3 465.15 L217.55 464.88 L217.8 465.15 L218.05 464.7 L218.3 464.61 L218.55 464.99 L218.8 465.03 L219.05 465.08 L219.3 464.76 L219.55 464.5 L219.8 464.25 L220.05 458.33 L220.3 458.05 L220.55 474.78 L220.8 479.6 L221.05 469.19 L221.3 465.41 L221.55 464.14 L221.8 460.76 L222.05 457.85 L222.3 458.54 L222.55 461.23 L222.8 463.92 L223.05 464.97 L223.3 465.11 L223.55 464.96 L223.8 464.62 L224.05 464.33 L224.3 463.96 L224.55 463.75 L224.8 464 L225.05 464.58 L225.3 465.02 L225.55 464.98 L225.8 465.04 L226.05 464.93 L226.3 465.07 L226.55 465.11 L226.8 465.38 L227.05 465.77 L227.3 467.04 L227.55 469.73 L227.8 471.98 L228.05 471.65 L228.3 468.9 L228.55 466.85 L228.8 467.39 L229.05 469.2 L229.3 469.46 L229.55 468.73 L229.8 469 L230.05 471.98 L230.3 473.81 L230.55 472.28 L230.8 469.42 L231.05 467.97 L231.3 468.12 L231.55 469.8 L231.8 471.82 L232.05 474.1 L232.3 476.99 L232.55 480.17 L232.8 484.45 L233.05 489.11 L233.3 494.57 L233.55 500.74 L233.8 506.88 L234.05 513.28 L234.3 519.92 L234.55 525.86 L234.8 531.37 L235.05 535.27 L235.3 538.05 L235.55 540.13 L235.8 540.35 L236.05 539.5 L236.3 537.51 L236.55 534.33 L236.8 531.05 L237.05 526.61 L237.3 521.98 L237.55 516.39 L237.8 510.88 L238.05 505.61 L238.3 500.21 L238.55 495.54 L238.8 490.66 L239.05 486.15 L239.3 482.24 L239.55 478.92 L239.8 476.52 L240.05 474.32 L240.3 472.29 L240.55 470.46 L240.8 468.75 L241.05 468.02 L241.3 466.9 L241.55 466.14 L241.8 465.74 L242.05 465.72 L242.3 465.16 L242.55 464.68 L242.8 464.91 L243.05 464.33 L243.3 464.37 L243.55 463.82 L243.8 463.39 L244.05 462.81 L244.3 462.3 L244.55 461.95 L244.8 461.27 L245.05 460.21 L245.3 458.82 L245.55 457.65 L245.8 456.71 L246.05 456.26 L246.3 455.97 L246.55 455.2 L246.8 455.09 L247.05 455.53 L247.3 455.27 L247.55 455.12 L247.8 455.23 L248.05 455.81 L248.3 455.81 L248.55 456.23 L248.8 456.17 L249.05 456.63 L249.3 456.68 L249.55 457.14 L249.8 457.65 L250.05 458.18 L250.3 458.33 L250.55 458.94 L250.8 459.04 L251.05 459.62 L251.3 460.07 L251.55 460.54 L251.8 460.32 L252.05 460.43 L252.3 460.91 L252.55 461.45 L252.8 461.44 L253.05 461.9 L253.3 462.07 L253.55 461.94 L253.8 462 L254.05 462.06 L254.3 462.33 L254.55 463.05 L254.8 463.37 L255.05 463.75 L255.3 464.07 L255.55 463.96 L255.8 464.17 L256.05 464.35 L256.3 464.6 L256.55 464.46 L256.8 465.06 L257.05 465.02 L257.3 465.23 L257.55 465.5 L257.8 465.62 L258.05 465.63 L258.3 465.18 L258.55 464.85 L258.8 464.93 L259.05 464.5 L259.3 464.83 L259.55 464.65 L259.8 464.61 L260.05 464.54 L260.3 464.77 L260.55 464.54 L260.8 464.38 L261.05 464.24 L261.3 464.2 L261.55 464.52 L261.8 464.97 L262.05 464.56 L262.3 464.65 L262.55 464.65 L262.8 464.66 L263.05 464.76 L263.3 464.75 L263.55 465.08 L263.8 465.3 L264.05 465.4 L264.3 465.57 L264.55 466.23 L264.8 466.42 L265.05 466.59 L265.3 466.44 L265.55 466.16 L265.8 465.52 L266.05 465 L266.3 465.26 L266.55 465.19 L266.8 465.18 L267.05 464.77 L267.3 464.98 L267.55 464.93 L267.8 464.59 L268.05 464.47 L268.3 464.93 L268.55 464.96 L268.8 464.61 L269.05 464.39 L269.3 464.73 L269.55 464.66 L269.8 464.7 L270.05 464.48 L270.3 464.39 L270.55 464.55 L270.8 464.6 L271.05 464.46 L271.3 464.35 L271.55 464.49 L271.8 464.34" stroke="#1a1a1a" stroke-width="1.15" fill="none" stroke-linejoin="round"/>
<path d="M83 576.7 L83.25 576.89 L83.5 576.98 L83.75 576.93 L84 576.75 L84.25 576.99 L84.5 577.14 L84.75 577.05 L85 576.99 L85.25 576.8 L85.5 576.54 L85.75 576.61 L86 576.78 L86.25 576.57 L86.5 576.88 L86.75 576.73 L87 576.63 L87.25 576.47 L87.5 576.94 L87.75 577.07 L88 577.22 L88.25 577.16 L88.5 576.78 L88.75 576.72 L89 576.79 L89.25 576.61 L89.5 576.99 L89.75 576.88 L90 576.68 L90.25 576.96 L90.5 576.71 L90.75 577.04 L91 576.96 L91.25 576.97 L91.5 576.85 L91.75 576.86 L92 576.69 L92.25 576.49 L92.5 576.89 L92.75 576.95 L93 578.54 L93.25 581.84 L93.5 584.6 L93.75 582.33 L94 578.84 L94.25 577.5 L94.5 577.19 L94.75 577.2 L95 576.85 L95.25 576.84 L95.5 577 L95.75 576.63 L96 576.68 L96.25 576.48 L96.5 575.89 L96.75 575.47 L97 575.4 L97.25 575.58 L97.5 576.29 L97.75 576.5 L98 576.44 L98.25 576.43 L98.5 576.77 L98.75 577.13 L99 577.04 L99.25 577 L99.5 577.07 L99.75 577.36 L100 577.48 L100.25 578.18 L100.5 578.99 L100.75 579.73 L101 579.77 L101.25 579.35 L101.5 578.67 L101.75 578.25 L102 577.5 L102.25 577.2 L102.5 576.9 L102.75 576.63 L103 576.47 L103.25 576.84 L103.5 577.04 L103.75 576.94 L104 577.09 L104.25 577.22 L104.5 577.5 L104.75 577.83 L105 577.87 L105.25 578.48 L105.5 579.15 L105.75 579.69 L106 580.61 L106.25 581.34 L106.5 582.09 L106.75 582.73 L107 583.64 L107.25 583.74 L107.5 583.56 L107.75 583.63 L108 583.32 L108.25 582.58 L108.5 581.96 L108.75 580.76 L109 579.83 L109.25 579.03 L109.5 578.42 L109.75 577.75 L110 577.16 L110.25 576.88 L110.5 576.97 L110.75 577 L111 576.8 L111.25 576.46 L111.5 576.05 L111.75 576.16 L112 575.91 L112.25 575.84 L112.5 575.35 L112.75 575.17 L113 575.45 L113.25 575.61 L113.5 575.77 L113.75 575.71 L114 575.58 L114.25 575.61 L114.5 575.81 L114.75 575.63 L115 575.67 L115.25 575.57 L115.5 575.83 L115.75 575.56 L116 575.82 L116.25 576.17 L116.5 575.85 L116.75 576.02 L117 576.18 L117.25 576.43 L117.5 576.44 L117.75 576.27 L118 576.28 L118.25 576.63 L118.5 576.84 L118.75 576.51 L119 576.31 L119.25 576.2 L119.5 576.11 L119.75 576.32 L120 576.27 L120.25 576.68 L120.5 576.82 L120.75 576.58 L121 576.7 L121.25 576.65 L121.5 576.72 L121.75 576.6 L122 576.5 L122.25 576.46 L122.5 576.55 L122.75 576.81 L123 576.87 L123.25 576.6 L123.5 576.84 L123.75 577.09 L124 577.17 L124.25 577.24 L124.5 576.8 L124.75 576.82 L125 576.59 L125.25 576.87 L125.5 576.69 L125.75 576.9 L126 576.75 L126.25 576.93 L126.5 576.8 L126.75 576.57 L127 576.63 L127.25 576.63 L127.5 576.98 L127.75 576.82 L128 576.86 L128.25 576.9 L128.5 577.17 L128.75 576.82 L129 576.91 L129.25 576.91 L129.5 577.05 L129.75 577.27 L130 577.01 L130.25 577.08 L130.5 577.03 L130.75 577.01 L131 576.71 L131.25 576.97 L131.5 577.23 L131.75 577.01 L132 576.86 L132.25 577.17 L132.5 576.83 L132.75 576.6 L133 576.47 L133.25 576.83 L133.5 577.01 L133.75 576.94 L134 576.99 L134.25 576.67 L134.5 576.85 L134.75 576.83 L135 576.87 L135.25 576.82 L135.5 576.79 L135.75 576.67 L136 576.49 L136.25 576.62 L136.5 576.58 L136.75 576.83 L137 577.05 L137.25 577.12 L137.5 577.01 L137.75 576.81 L138 576.77 L138.25 576.82 L138.5 576.93 L138.75 577.2 L139 576.83 L139.25 576.84 L139.5 576.86 L139.75 577.01 L140 577.2 L140.25 577.25 L140.5 577.18 L140.75 577.23 L141 577.2 L141.25 577.29 L141.5 577.26 L141.75 577.22 L142 576.94 L142.25 577.17 L142.5 577 L142.75 577.03 L143 577.17 L143.25 577.34 L143.5 577.46 L143.75 576.94 L144 576.81 L144.25 576.73 L144.5 576.73 L144.75 576.59 L145 576.74 L145.25 576.55 L145.5 576.57 L145.75 576.97 L146 577.09 L146.25 576.99 L146.5 576.72 L146.75 577.07 L147 577.12 L147.25 576.86 L147.5 576.77 L147.75 576.91 L148 577.01 L148.25 576.83 L148.5 577.13 L148.75 576.93 L149 576.77 L149.25 577.03 L149.5 576.77 L149.75 576.93 L150 576.74 L150.25 576.86 L150.5 576.74 L150.75 576.73 L151 577.06 L151.25 576.98 L151.5 576.91 L151.75 576.98 L152 576.81 L152.25 576.65 L152.5 576.68 L152.75 576.63 L153 576.55 L153.25 576.97 L153.5 576.66 L153.75 576.94 L154 577.19 L154.25 577.19 L154.5 576.79 L154.75 576.83 L155 576.58 L155.25 576.77 L155.5 576.95 L155.75 576.77 L156 576.53 L156.25 576.7 L156.5 576.54 L156.75 576.57 L157 576.67 L157.25 577 L157.5 576.88 L157.75 576.67 L158 576.94 L158.25 577.12 L158.5 577.05 L158.75 576.72 L159 576.6 L159.25 576.66 L159.5 576.79 L159.75 576.67 L160 576.94 L160.25 577.13 L160.5 577.29 L160.75 577.37 L161 576.89 L161.25 576.94 L161.5 576.67 L161.75 577 L162 577.11 L162.25 577.18 L162.5 576.88 L162.75 576.63 L163 576.92 L163.25 576.98 L163.5 577.02 L163.75 576.95 L164 577.11 L164.25 576.93 L164.5 576.78 L164.75 576.74 L165 576.68 L165.25 576.85 L165.5 577.1 L165.75 576.76 L166 576.56 L166.25 576.7 L166.5 576.89 L166.75 576.71 L167 576.65 L167.25 576.48 L167.5 576.37 L167.75 576.58 L168 576.82 L168.25 576.94 L168.5 576.72 L168.75 576.55 L169 576.95 L169.25 576.95 L169.5 576.88 L169.75 577 L170 577.1 L170.25 577.03 L170.5 576.73 L170.75 576.99 L171 576.78 L171.25 576.55 L171.5 576.6 L171.75 576.74 L172 576.88 L172.25 576.69 L172.5 576.9 L172.75 576.9 L173 576.7 L173.25 576.99 L173.5 577.14 L173.75 577.29 L174 577.24 L174.25 576.93 L174.5 577.09 L174.75 577.25 L175 577.13 L175.25 577.28 L175.5 577.41 L175.75 577.14 L176 577.31 L176.25 577.41 L176.5 577.38 L176.75 576.9 L177 576.81 L177.25 576.91 L177.5 576.97 L177.75 577.1 L178 577.11 L178.25 576.82 L178.5 577.11 L178.75 577.05 L179 577.22 L179.25 576.91 L179.5 577.21 L179.75 577.12 L180 577.2 L180.25 577.22 L180.5 577.32 L180.75 577.07 L181 576.75 L181.25 576.75 L181.5 576.62 L181.75 576.76 L182 577 L182.25 576.88 L182.5 576.67 L182.75 576.48 L183 576.6 L183.25 576.77 L183.5 576.54 L183.75 576.78 L184 576.66 L184.25 576.52 L184.5 576.93 L184.75 576.93 L185 577.16 L185.25 577.06 L185.5 576.77 L185.75 576.67 L186 576.71 L186.25 576.87 L186.5 577.05 L186.75 577.14 L187 577.13 L187.25 576.89 L187.5 576.85 L187.75 576.8 L188 576.83 L188.25 576.72 L188.5 576.81 L188.75 576.82 L189 576.58 L189.25 576.9 L189.5 576.95 L189.75 577.11 L190 577.17 L190.25 577.2 L190.5 577.38 L190.75 577.11 L191 576.96 L191.25 576.64 L191.5 576.84 L191.75 576.91 L192 576.95 L192.25 577.23 L192.5 576.92 L192.75 576.75 L193 576.95 L193.25 577.12 L193.5 577.02 L193.75 576.7 L194 576.71 L194.25 576.98 L194.5 576.95 L194.75 576.91 L195 576.84 L195.25 576.94 L195.5 576.98 L195.75 577.07 L196 577.22 L196.25 577.24 L196.5 577.03 L196.75 576.83 L197 577.03 L197.25 577.15 L197.5 577.31 L197.75 576.96 L198 577.15 L198.25 577.28 L198.5 576.88 L198.75 576.77 L199 576.9 L199.25 576.69 L199.5 576.97 L199.75 576.8 L200 576.95 L200.25 576.81 L200.5 576.68 L200.75 576.59 L201 576.71 L201.25 576.92 L201.5 576.74 L201.75 576.92 L202 576.81 L202.25 576.94 L202.5 576.84 L202.75 576.68 L203 576.55 L203.25 576.43 L203.5 576.73 L203.75 576.75 L204 576.58 L204.25 576.94 L204.5 577.02 L204.75 576.68 L205 576.9 L205.25 576.96 L205.5 576.9 L205.75 576.9 L206 577.18 L206.25 576.99 L206.5 577.04 L206.75 577.06 L207 576.92 L207.25 576.82 L207.5 577 L207.75 577.04 L208 576.96 L208.25 576.94 L208.5 576.76 L208.75 576.99 L209 576.67 L209.25 576.85 L209.5 576.84 L209.75 576.7 L210 576.83 L210.25 576.91 L210.5 576.66 L210.75 576.75 L211 576.61 L211.25 576.9 L211.5 576.8 L211.75 576.74 L212 576.63 L212.25 576.47 L212.5 576.45 L212.75 576.42 L213 576.69 L213.25 576.98 L213.5 576.78 L213.75 576.6 L214 576.74 L214.25 576.57 L214.5 576.65 L214.75 576.9 L215 576.72 L215.25 576.91 L215.5 576.93 L215.75 576.67 L216 576.61 L216.25 576.78 L216.5 576.59 L216.75 576.54 L217 576.73 L217.25 576.99 L217.5 576.96 L217.75 577.04 L218 576.69 L218.25 576.65 L218.5 576.64 L218.75 576.99 L219 576.87 L219.25 577.05 L219.5 576.71 L219.75 576.79 L220 577.07 L220.25 577.18 L220.5 577.32 L220.75 578.1 L221 580.62 L221.25 581.21 L221.5 579.67 L221.75 577.87 L222 577.29 L222.25 577.11 L222.5 576.82 L222.75 576.76 L223 576.91 L223.25 577 L223.5 576.89 L223.75 577.08 L224 576.74 L224.25 576.68 L224.5 576.52 L224.75 576.57 L225 576.88 L225.25 577.04 L225.5 576.77 L225.75 576.71 L226 576.55 L226.25 576.79 L226.5 576.8 L226.75 576.68 L227 576.69 L227.25 576.99 L227.5 576.91 L227.75 577.02 L228 577.05 L228.25 576.97 L228.5 576.98 L228.75 576.87 L229 576.7 L229.25 576.78 L229.5 576.73 L229.75 576.75 L230 576.74 L230.25 577.28 L230.5 577.49 L230.75 577.7 L231 577.94 L231.25 578.34 L231.5 579.01 L231.75 579.04 L232 579.17 L232.25 578.96 L232.5 579.23 L232.75 579.59 L233 580.43 L233.25 581.37 L233.5 582.38 L233.75 583.4 L234 584.48 L234.25 585.35 L234.5 585.62 L234.75 585.29 L235 584.48 L235.25 583.74 L235.5 582.69 L235.75 581.14 L236 580.15 L236.25 579.37 L236.5 578.75 L236.75 578.63 L237 578.74 L237.25 578.83 L237.5 579.81 L237.75 580.43 L238 581.05 L238.25 581.69 L238.5 581.2 L238.75 580.5 L239 579.69 L239.25 578.61 L239.5 577.75 L239.75 577.5 L240 577.25 L240.25 577.21 L240.5 577.23 L240.75 577.31 L241 577.38 L241.25 577.38 L241.5 577.48 L241.75 577.24 L242 577.23 L242.25 577.1 L242.5 577.3 L242.75 577.24 L243 577.06 L243.25 577.09 L243.5 576.89 L243.75 576.67 L244 576.7 L244.25 576.56 L244.5 576.4 L244.75 576.35 L245 576.55 L245.25 576.85 L245.5 576.6 L245.75 576.8 L246 576.61 L246.25 576.73 L246.5 576.68 L246.75 576.73 L247 576.93 L247.25 576.86 L247.5 576.81 L247.75 576.99 L248 576.72 L248.25 576.7 L248.5 576.9 L248.75 577.1 L249 577.31 L249.25 577 L249.5 577.03 L249.75 576.87 L250 577 L250.25 577.17 L250.5 576.84 L250.75 576.77 L251 577.09 L251.25 576.92 L251.5 576.99 L251.75 577.15 L252 576.92 L252.25 577.08 L252.5 576.71 L252.75 576.69 L253 576.57 L253.25 576.61 L253.5 576.56 L253.75 576.41 L254 576.79 L254.25 576.64 L254.5 576.79 L254.75 576.86 L255 577.09 L255.25 577.22 L255.5 577.17 L255.75 576.86 L256 577.03 L256.25 576.74 L256.5 577.06 L256.75 576.88 L257 576.74 L257.25 576.63 L257.5 576.68 L257.75 576.94 L258 577.14 L258.25 577.19 L258.5 577.21 L258.75 576.93 L259 576.81 L259.25 576.73 L259.5 576.76 L259.75 577.04 L260 577.28 L260.25 576.88 L260.5 577.17 L260.75 577.31 L261 577.12 L261.25 577.15 L261.5 577.22 L261.75 576.9 L262 576.97 L262.25 577.23 L262.5 577.33 L262.75 577.4 L263 576.95 L263.25 577.06 L263.5 576.99 L263.75 577.2 L264 576.88 L264.25 576.92 L264.5 576.68 L264.75 576.95 L265 577.06 L265.25 576.72 L265.5 576.68 L265.75 576.55 L266 576.77 L266.25 576.9 L266.5 576.64 L266.75 577.01 L267 577.25 L267.25 577.07 L267.5 577.05 L267.75 576.91 L268 576.97 L268.25 576.88 L268.5 576.85 L268.75 577.02 L269 576.78 L269.25 576.71 L269.5 576.94 L269.75 576.76 L270 576.56 L270.25 576.94 L270.5 576.72" stroke="#7a7a7a" stroke-width="0.9" fill="none" stroke-linejoin="round"/>
<path d="M83 577.03 L83.25 576.76 L83.5 576.54 L83.75 576.89 L84 576.7 L84.25 576.55 L84.5 576.72 L84.75 576.68 L85 576.92 L85.25 576.74 L85.5 576.99 L85.75 576.83 L86 576.87 L86.25 577.06 L86.5 577.05 L86.75 577.16 L87 577.12 L87.25 576.77 L87.5 576.97 L87.75 576.95 L88 576.79 L88.25 576.64 L88.5 576.88 L88.75 576.89 L89 577.07 L89.25 577.1 L89.5 577.21 L89.75 577.08 L90 577.07 L90.25 577.02 L90.5 576.81 L90.75 577.03 L91 576.85 L91.25 576.97 L91.5 577.13 L91.75 577.07 L92 576.78 L92.25 576.95 L92.5 576.99 L92.75 576.97 L93 578.12 L93.25 581.74 L93.5 583.98 L93.75 581.9 L94 578.39 L94.25 577.04 L94.5 576.78 L94.75 576.86 L95 577.04 L95.25 576.83 L95.5 576.7 L95.75 576.63 L96 576.29 L96.25 576.02 L96.5 575.65 L96.75 575.33 L97 575.4 L97.25 575.62 L97.5 575.77 L97.75 576.46 L98 576.59 L98.25 576.69 L98.5 576.71 L98.75 576.97 L99 577.14 L99.25 577.04 L99.5 577 L99.75 577.01 L100 577.77 L100.25 578.41 L100.5 579.57 L100.75 580.52 L101 580.99 L101.25 580.84 L101.5 580.21 L101.75 579.6 L102 579.79 L102.25 580.73 L102.5 582.2 L102.75 584.08 L103 586.92 L103.25 589.98 L103.5 593.87 L103.75 598.38 L104 603.09 L104.25 607.47 L104.5 611.76 L104.75 615.19 L105 617.74 L105.25 619.17 L105.5 619.53 L105.75 618.63 L106 616.67 L106.25 614.09 L106.5 610.81 L106.75 606.96 L107 603.17 L107.25 599.32 L107.5 595.48 L107.75 592.11 L108 588.61 L108.25 585.93 L108.5 583.76 L108.75 581.85 L109 580.27 L109.25 579.35 L109.5 578.51 L109.75 577.82 L110 577.21 L110.25 577.26 L110.5 576.92 L110.75 576.54 L111 576.28 L111.25 576.04 L111.5 576.05 L111.75 575.54 L112 575.07 L112.25 574.44 L112.5 573.96 L112.75 573.24 L113 572.58 L113.25 572.1 L113.5 571.68 L113.75 571.23 L114 570.48 L114.25 570.22 L114.5 570.4 L114.75 570.13 L115 570.08 L115.25 570.24 L115.5 570.32 L115.75 570.6 L116 570.8 L116.25 570.85 L116.5 570.83 L116.75 570.86 L117 570.95 L117.25 570.95 L117.5 571.3 L117.75 571.29 L118 571.69 L118.25 571.84 L118.5 571.66 L118.75 571.8 L119 571.96 L119.25 571.8 L119.5 571.96 L119.75 571.85 L120 572.2 L120.25 572.07 L120.5 572.36 L120.75 572.78 L121 573.04 L121.25 572.96 L121.5 573.13 L121.75 573.09 L122 573.23 L122.25 573.64 L122.5 573.91 L122.75 573.73 L123 573.87 L123.25 574.13 L123.5 574.11 L123.75 574.46 L124 574.77 L124.25 574.83 L124.5 574.83 L124.75 575.11 L125 575.16 L125.25 575.07 L125.5 575.1 L125.75 575.11 L126 575.48 L126.25 575.59 L126.5 575.77 L126.75 575.98 L127 576.22 L127.25 575.99 L127.5 576 L127.75 576.26 L128 576.39 L128.25 576.3 L128.5 576.4 L128.75 576.25 L129 576.16 L129.25 576.07 L129.5 576.19 L129.75 576.2 L130 576.37 L130.25 576.7 L130.5 576.5 L130.75 576.59 L131 576.81 L131.25 576.81 L131.5 576.79 L131.75 576.89 L132 576.59 L132.25 576.88 L132.5 576.92 L132.75 577.01 L133 577.07 L133.25 576.75 L133.5 576.55 L133.75 576.48 L134 576.6 L134.25 576.9 L134.5 577.06 L134.75 576.91 L135 576.92 L135.25 576.99 L135.5 576.83 L135.75 577.05 L136 577.17 L136.25 577.13 L136.5 577.2 L136.75 577.19 L137 577.11 L137.25 576.9 L137.5 576.75 L137.75 576.64 L138 576.48 L138.25 576.82 L138.5 576.71 L138.75 576.51 L139 576.53 L139.25 576.44 L139.5 576.56 L139.75 576.57 L140 576.5 L140.25 576.61 L140.5 576.64 L140.75 576.63 L141 576.86 L141.25 576.74 L141.5 576.78 L141.75 576.98 L142 577.14 L142.25 576.94 L142.5 576.65 L142.75 576.94 L143 576.89 L143.25 576.71 L143.5 576.56 L143.75 576.53 L144 576.54 L144.25 576.46 L144.5 576.37 L144.75 576.79 L145 576.95 L145.25 576.7 L145.5 576.73 L145.75 576.91 L146 576.87 L146.25 576.63 L146.5 576.61 L146.75 576.63 L147 576.9 L147.25 576.9 L147.5 576.84 L147.75 576.89 L148 576.63 L148.25 576.79 L148.5 576.95 L148.75 576.97 L149 576.83 L149.25 576.71 L149.5 576.5 L149.75 576.41 L150 576.4 L150.25 576.53 L150.5 576.78 L150.75 576.65 L151 576.69 L151.25 576.8 L151.5 576.87 L151.75 576.6 L152 576.89 L152.25 576.9 L152.5 576.76 L152.75 576.65 L153 576.8 L153.25 577.02 L153.5 576.85 L153.75 576.78 L154 576.82 L154.25 576.65 L154.5 576.66 L154.75 576.93 L155 576.9 L155.25 577.02 L155.5 576.82 L155.75 576.99 L156 577.06 L156.25 576.82 L156.5 576.83 L156.75 576.91 L157 576.9 L157.25 576.91 L157.5 576.74 L157.75 576.79 L158 576.72 L158.25 576.9 L158.5 576.8 L158.75 577.04 L159 576.98 L159.25 576.77 L159.5 576.74 L159.75 576.58 L160 576.79 L160.25 576.56 L160.5 576.71 L160.75 576.65 L161 576.85 L161.25 576.64 L161.5 576.8 L161.75 576.9 L162 576.73 L162.25 576.57 L162.5 576.6 L162.75 576.75 L163 576.65 L163.25 576.47 L163.5 576.57 L163.75 576.82 L164 576.64 L164.25 576.92 L164.5 576.88 L164.75 576.68 L165 576.53 L165.25 576.57 L165.5 576.65 L165.75 576.55 L166 576.44 L166.25 576.59 L166.5 576.55 L166.75 576.62 L167 576.67 L167.25 576.82 L167.5 576.85 L167.75 576.69 L168 576.58 L168.25 576.85 L168.5 576.6 L168.75 576.49 L169 576.4 L169.25 576.72 L169.5 576.77 L169.75 577 L170 576.98 L170.25 576.83 L170.5 576.78 L170.75 576.9 L171 576.73 L171.25 576.91 L171.5 576.82 L171.75 576.58 L172 576.59 L172.25 576.7 L172.5 576.57 L172.75 576.86 L173 577.05 L173.25 576.96 L173.5 577.1 L173.75 577.07 L174 576.98 L174.25 576.74 L174.5 576.99 L174.75 577.12 L175 576.97 L175.25 576.84 L175.5 576.61 L175.75 576.75 L176 576.95 L176.25 576.83 L176.5 576.71 L176.75 576.8 L177 576.95 L177.25 576.72 L177.5 576.65 L177.75 576.78 L178 576.56 L178.25 576.81 L178.5 576.72 L178.75 576.92 L179 576.85 L179.25 576.66 L179.5 576.48 L179.75 576.41 L180 576.45 L180.25 576.72 L180.5 576.9 L180.75 576.92 L181 576.78 L181.25 576.87 L181.5 576.96 L181.75 576.83 L182 576.61 L182.25 576.67 L182.5 576.58 L182.75 576.51 L183 576.57 L183.25 576.45 L183.5 576.79 L183.75 576.68 L184 576.93 L184.25 577 L184.5 576.67 L184.75 576.92 L185 577.03 L185.25 576.95 L185.5 577.08 L185.75 576.96 L186 576.66 L186.25 576.54 L186.5 576.55 L186.75 576.83 L187 576.98 L187.25 576.72 L187.5 576.68 L187.75 576.53 L188 576.5 L188.25 576.55 L188.5 576.61 L188.75 576.51 L189 576.7 L189.25 576.61 L189.5 576.88 L189.75 576.84 L190 576.79 L190.25 576.93 L190.5 576.8 L190.75 576.68 L191 576.54 L191.25 576.54 L191.5 576.51 L191.75 576.74 L192 576.69 L192.25 576.84 L192.5 576.71 L192.75 576.53 L193 576.54 L193.25 576.59 L193.5 576.88 L193.75 576.7 L194 576.59 L194.25 576.5 L194.5 576.5 L194.75 576.85 L195 577.05 L195.25 576.81 L195.5 576.58 L195.75 576.66 L196 576.76 L196.25 576.58 L196.5 576.63 L196.75 576.83 L197 576.57 L197.25 576.77 L197.5 576.88 L197.75 576.99 L198 576.91 L198.25 576.85 L198.5 576.84 L198.75 576.64 L199 576.71 L199.25 576.62 L199.5 576.6 L199.75 576.45 L200 576.42 L200.25 576.35 L200.5 576.55 L200.75 576.52 L201 576.66 L201.25 576.72 L201.5 576.62 L201.75 576.5 L202 576.67 L202.25 576.81 L202.5 576.9 L202.75 576.86 L203 576.88 L203.25 576.61 L203.5 576.59 L203.75 576.82 L204 576.75 L204.25 576.57 L204.5 576.62 L204.75 576.86 L205 576.64 L205.25 576.51 L205.5 576.62 L205.75 576.88 L206 576.79 L206.25 576.67 L206.5 576.86 L206.75 576.63 L207 576.6 L207.25 576.73 L207.5 576.93 L207.75 577.06 L208 576.87 L208.25 576.72 L208.5 576.69 L208.75 576.54 L209 576.53 L209.25 576.77 L209.5 577.02 L209.75 576.82 L210 576.6 L210.25 576.8 L210.5 577.03 L210.75 577.09 L211 576.93 L211.25 577 L211.5 577.05 L211.75 577.07 L212 576.96 L212.25 577.15 L212.5 577.15 L212.75 576.88 L213 576.81 L213.25 576.6 L213.5 576.62 L213.75 576.85 L214 576.82 L214.25 576.83 L214.5 576.95 L214.75 576.69 L215 576.66 L215.25 576.71 L215.5 576.74 L215.75 576.86 L216 577.05 L216.25 577.1 L216.5 577 L216.75 577.01 L217 576.95 L217.25 577.13 L217.5 577.05 L217.75 577 L218 576.87 L218.25 576.8 L218.5 576.93 L218.75 576.82 L219 577.01 L219.25 577.04 L219.5 577.17 L219.75 577.13 L220 577.03 L220.25 576.89 L220.5 576.81 L220.75 578.03 L221 580.39 L221.25 581.31 L221.5 579.26 L221.75 576.52 L222 575.36 L222.25 574.73 L222.5 574.9 L222.75 575.78 L223 576.31 L223.25 576.63 L223.5 576.54 L223.75 576.5 L224 576.48 L224.25 576.46 L224.5 576.61 L224.75 576.46 L225 576.39 L225.25 576.35 L225.5 576.65 L225.75 576.95 L226 577.02 L226.25 576.95 L226.5 576.72 L226.75 576.93 L227 576.76 L227.25 576.67 L227.5 576.92 L227.75 577.36 L228 577.54 L228.25 578.21 L228.5 578.75 L228.75 579.96 L229 581.36 L229.25 583.29 L229.5 585.83 L229.75 588.9 L230 592.37 L230.25 596.84 L230.5 601.99 L230.75 607.77 L231 613.58 L231.25 619.7 L231.5 625.37 L231.75 630.41 L232 634.66 L232.25 637.8 L232.5 639.23 L232.75 638.97 L233 637.11 L233.25 633.91 L233.5 629.52 L233.75 624.15 L234 618.27 L234.25 612.14 L234.5 606.18 L234.75 600.78 L235 595.83 L235.25 591.52 L235.5 588.04 L235.75 585.06 L236 582.45 L236.25 580.63 L236.5 579.32 L236.75 578.43 L237 577.6 L237.25 576.68 L237.5 576.08 L237.75 575.51 L238 574.86 L238.25 573.86 L238.5 572.64 L238.75 571.3 L239 570.23 L239.25 569.26 L239.5 568.02 L239.75 567.31 L240 566.91 L240.25 566.82 L240.5 566.69 L240.75 566.55 L241 566.46 L241.25 566.57 L241.5 566.96 L241.75 566.99 L242 567.34 L242.25 567.5 L242.5 567.53 L242.75 567.53 L243 567.65 L243.25 567.91 L243.5 567.88 L243.75 567.84 L244 568.26 L244.25 568.45 L244.5 568.51 L244.75 568.63 L245 568.64 L245.25 568.95 L245.5 569.33 L245.75 569.5 L246 569.78 L246.25 570.06 L246.5 570.11 L246.75 570.38 L247 570.79 L247.25 571 L247.5 570.94 L247.75 571.23 L248 571.48 L248.25 571.78 L248.5 572.01 L248.75 572.33 L249 572.63 L249.25 572.51 L249.5 572.65 L249.75 572.59 L250 573.1 L250.25 573.04 L250.5 573.23 L250.75 573.51 L251 573.65 L251.25 573.66 L251.5 573.9 L251.75 573.96 L252 574.19 L252.25 574.49 L252.5 574.52 L252.75 574.65 L253 574.88 L253.25 575.01 L253.5 575.26 L253.75 575.5 L254 575.72 L254.25 575.49 L254.5 575.54 L254.75 575.43 L255 575.68 L255.25 575.71 L255.5 575.98 L255.75 575.99 L256 576.17 L256.25 575.92 L256.5 576.08 L256.75 576.1 L257 576.34 L257.25 576.14 L257.5 576.02 L257.75 576.27 L258 576.25 L258.25 576.3 L258.5 576.33 L258.75 576.65 L259 576.67 L259.25 576.8 L259.5 576.89 L259.75 576.96 L260 576.8 L260.25 576.64 L260.5 576.65 L260.75 576.86 L261 576.98 L261.25 576.86 L261.5 577 L261.75 577.02 L262 576.67 L262.25 576.77 L262.5 576.9 L262.75 576.61 L263 576.61 L263.25 576.74 L263.5 576.75 L263.75 576.77 L264 576.57 L264.25 576.53 L264.5 576.81 L264.75 576.73 L265 576.74 L265.25 576.8 L265.5 576.69 L265.75 576.68 L266 576.73 L266.25 576.94 L266.5 577.05 L266.75 576.79 L267 576.79 L267.25 576.92 L267.5 577.07 L267.75 576.97 L268 576.97 L268.25 576.97 L268.5 576.99 L268.75 577.11 L269 577.23 L269.25 577.3 L269.5 576.91 L269.75 576.98 L270 576.85 L270.25 576.72 L270.5 576.55" stroke="#e8221c" stroke-width="1" fill="none" stroke-linejoin="round"/>
<line x1="131.5" y1="477.2" x2="119.7" y2="467.9" stroke="#222" stroke-width="1"/>
<path d="M122.82 468.59 L119.7 467.9 L121.1 470.78" stroke="#222" stroke-width="1" fill="none" stroke-linejoin="round"/>
<text transform="translate(131.93 483.7) scale(0.9569 1)" font-size="10.04" fill="#333">DCG-IV</text>
<line x1="126.1" y1="588.9" x2="114.4" y2="579.8" stroke="#222" stroke-width="1"/>
<path d="M117.53 580.47 L114.4 579.8 L115.82 582.67" stroke="#222" stroke-width="1" fill="none" stroke-linejoin="round"/>
<text transform="translate(126.83 595.1) scale(0.9569 1)" font-size="10.01" fill="#333">DCG-IV</text>
<text transform="translate(356.82 448.8) scale(0.9569 1)" font-size="28.74" fill="#1d1d1b" stroke="#1d1d1b" stroke-width="0.3">I</text>
<line x1="404.5" y1="448.1" x2="404.5" y2="589.5" stroke="#3c3c3c" stroke-width="1"/>
<line x1="404.4" y1="589.5" x2="616.5" y2="589.5" stroke="#3c3c3c" stroke-width="1"/>
<line x1="398" y1="589.5" x2="404.4" y2="589.5" stroke="#3c3c3c" stroke-width="1"/>
<text transform="translate(396.5 594.1) scale(0.9569 1)" font-size="13.58" text-anchor="end" fill="#1d1d1b">1.0</text>
<line x1="400.6" y1="577.5" x2="404.4" y2="577.5" stroke="#3c3c3c" stroke-width="1"/>
<line x1="398" y1="566.5" x2="404.4" y2="566.5" stroke="#3c3c3c" stroke-width="1"/>
<text transform="translate(396.5 570.6) scale(0.9569 1)" font-size="13.58" text-anchor="end" fill="#1d1d1b">1.2</text>
<line x1="400.6" y1="554.5" x2="404.4" y2="554.5" stroke="#3c3c3c" stroke-width="1"/>
<line x1="398" y1="542.5" x2="404.4" y2="542.5" stroke="#3c3c3c" stroke-width="1"/>
<text transform="translate(396.5 547.1) scale(0.9569 1)" font-size="13.58" text-anchor="end" fill="#1d1d1b">1.4</text>
<line x1="400.6" y1="530.5" x2="404.4" y2="530.5" stroke="#3c3c3c" stroke-width="1"/>
<line x1="398" y1="519.5" x2="404.4" y2="519.5" stroke="#3c3c3c" stroke-width="1"/>
<text transform="translate(396.5 523.6) scale(0.9569 1)" font-size="13.58" text-anchor="end" fill="#1d1d1b">1.6</text>
<line x1="400.6" y1="507.5" x2="404.4" y2="507.5" stroke="#3c3c3c" stroke-width="1"/>
<line x1="398" y1="495.5" x2="404.4" y2="495.5" stroke="#3c3c3c" stroke-width="1"/>
<text transform="translate(396.5 500.1) scale(0.9569 1)" font-size="13.58" text-anchor="end" fill="#1d1d1b">1.8</text>
<line x1="400.6" y1="483.5" x2="404.4" y2="483.5" stroke="#3c3c3c" stroke-width="1"/>
<line x1="398" y1="472.5" x2="404.4" y2="472.5" stroke="#3c3c3c" stroke-width="1"/>
<text transform="translate(396.5 476.6) scale(0.9569 1)" font-size="13.58" text-anchor="end" fill="#1d1d1b">2.0</text>
<line x1="400.6" y1="460.5" x2="404.4" y2="460.5" stroke="#3c3c3c" stroke-width="1"/>
<line x1="398" y1="448.5" x2="404.4" y2="448.5" stroke="#3c3c3c" stroke-width="1"/>
<text transform="translate(396.5 453.1) scale(0.9569 1)" font-size="13.58" text-anchor="end" fill="#1d1d1b">2.2</text>
<line x1="404.5" y1="589.5" x2="404.5" y2="594" stroke="#3c3c3c" stroke-width="1"/>
<text transform="translate(404.7 608) scale(0.9569 1)" font-size="13.58" text-anchor="middle" fill="#1d1d1b">0</text>
<line x1="425.5" y1="589.5" x2="425.5" y2="592.5" stroke="#3c3c3c" stroke-width="1"/>
<line x1="446.5" y1="589.5" x2="446.5" y2="594" stroke="#3c3c3c" stroke-width="1"/>
<text transform="translate(447.15 608) scale(0.9569 1)" font-size="13.58" text-anchor="middle" fill="#1d1d1b">100</text>
<line x1="468.5" y1="589.5" x2="468.5" y2="592.5" stroke="#3c3c3c" stroke-width="1"/>
<line x1="489.5" y1="589.5" x2="489.5" y2="594" stroke="#3c3c3c" stroke-width="1"/>
<text transform="translate(489.6 608) scale(0.9569 1)" font-size="13.58" text-anchor="middle" fill="#1d1d1b">200</text>
<line x1="510.5" y1="589.5" x2="510.5" y2="592.5" stroke="#3c3c3c" stroke-width="1"/>
<line x1="531.5" y1="589.5" x2="531.5" y2="594" stroke="#3c3c3c" stroke-width="1"/>
<text transform="translate(532.05 608) scale(0.9569 1)" font-size="13.58" text-anchor="middle" fill="#1d1d1b">300</text>
<line x1="552.5" y1="589.5" x2="552.5" y2="592.5" stroke="#3c3c3c" stroke-width="1"/>
<line x1="574.5" y1="589.5" x2="574.5" y2="594" stroke="#3c3c3c" stroke-width="1"/>
<text transform="translate(574.5 608) scale(0.9569 1)" font-size="13.58" text-anchor="middle" fill="#1d1d1b">400</text>
<line x1="595.5" y1="589.5" x2="595.5" y2="592.5" stroke="#3c3c3c" stroke-width="1"/>
<line x1="616.5" y1="589.5" x2="616.5" y2="594" stroke="#3c3c3c" stroke-width="1"/>
<text transform="translate(616.95 608) scale(0.9569 1)" font-size="13.58" text-anchor="middle" fill="#1d1d1b">500</text>
<text transform="translate(425.71 621.4) scale(0.9569 1)" font-size="15.03" fill="#1d1d1b">Inter-stimulus interval (ms)</text>
<text transform="translate(374.9 544.98) rotate(-90) scale(0.9569 1)" font-size="15.43" fill="#1d1d1b">MF PPF</text>
<path d="M421.38 497 L429.87 507.5 L446.85 512.8 L489.3 540.8 L616.65 543.2 L616.65 558.4 L489.3 548.7 L446.85 524.2 L429.87 514.5 L421.38 499.6 Z" stroke="#222" stroke-width="0.6" fill="#8a8a8a" stroke-linejoin="round" fill-opacity="0.6"/>
<path d="M421.38 495.3 L429.87 511.4 L446.85 518.9 L489.3 545.2 L616.65 549.9" stroke="#222" stroke-width="0.9" fill="none" stroke-linejoin="round"/>
<circle cx="421.38" cy="495.3" r="3.7" fill="#0d0d0d" stroke="none" stroke-width="1"/>
<circle cx="429.87" cy="511.4" r="3.7" fill="#0d0d0d" stroke="none" stroke-width="1"/>
<circle cx="446.85" cy="518.9" r="3.7" fill="#0d0d0d" stroke="none" stroke-width="1"/>
<circle cx="489.3" cy="545.2" r="3.7" fill="#0d0d0d" stroke="none" stroke-width="1"/>
<circle cx="616.65" cy="549.9" r="3.7" fill="#0d0d0d" stroke="none" stroke-width="1"/>
<path d="M421.38 510.1 L429.87 514.5 L446.85 518.9 L489.3 532 L616.65 547 L616.65 556.5 L489.3 542.6 L446.85 532 L429.87 527.7 L421.38 518.9 Z" stroke="none" stroke-width="1" fill="#f49a7c" stroke-linejoin="round" fill-opacity="0.6"/>
<path d="M421.38 515 L429.87 521 L446.85 525.9 L489.3 539 L616.65 552.7" stroke="#e8221c" stroke-width="1" fill="none" stroke-linejoin="round"/>
<circle cx="421.38" cy="515" r="3.7" fill="#ea1f1f" stroke="none" stroke-width="1"/>
<circle cx="429.87" cy="521" r="3.7" fill="#ea1f1f" stroke="none" stroke-width="1"/>
<circle cx="446.85" cy="525.9" r="3.7" fill="#ea1f1f" stroke="none" stroke-width="1"/>
<circle cx="489.3" cy="539" r="3.7" fill="#ea1f1f" stroke="none" stroke-width="1"/>
<circle cx="616.65" cy="552.7" r="3.7" fill="#ea1f1f" stroke="none" stroke-width="1"/>
<line x1="408.8" y1="448.5" x2="428" y2="448.5" stroke="#222" stroke-width="1"/>
<circle cx="418.6" cy="448.4" r="3.6" fill="#111" stroke="none" stroke-width="1"/>
<text transform="translate(428.5 452.5) scale(0.9569 1)" font-size="11.49" fill="#1d1d1b">C57BL/6J</text>
<line x1="408.8" y1="459.5" x2="428" y2="459.5" stroke="#e8432f" stroke-width="1"/>
<circle cx="418.6" cy="459.3" r="3.6" fill="#f0604b" stroke="#e53d2c" stroke-width="0.8"/>
<text transform="translate(428.5 463.4) scale(0.9569 1)" font-size="11.49" fill="#e52521">C58/J</text>
<line x1="554.5" y1="446.3" x2="554.5" y2="529.2" stroke="#3c3c3c" stroke-width="1"/>
<line x1="554.8" y1="529.5" x2="613.7" y2="529.5" stroke="#3c3c3c" stroke-width="1"/>
<line x1="550.2" y1="529.5" x2="554.8" y2="529.5" stroke="#3c3c3c" stroke-width="1"/>
<text transform="translate(548.8 532.9) scale(0.9569 1)" font-size="11.18" text-anchor="end" fill="#1d1d1b">1.2</text>
<line x1="550.2" y1="508.5" x2="554.8" y2="508.5" stroke="#3c3c3c" stroke-width="1"/>
<text transform="translate(548.8 512.2) scale(0.9569 1)" font-size="11.18" text-anchor="end" fill="#1d1d1b">1.4</text>
<line x1="550.2" y1="487.5" x2="554.8" y2="487.5" stroke="#3c3c3c" stroke-width="1"/>
<text transform="translate(548.8 491.5) scale(0.9569 1)" font-size="11.18" text-anchor="end" fill="#1d1d1b">1.6</text>
<line x1="550.2" y1="467.5" x2="554.8" y2="467.5" stroke="#3c3c3c" stroke-width="1"/>
<text transform="translate(548.8 470.8) scale(0.9569 1)" font-size="11.18" text-anchor="end" fill="#1d1d1b">1.8</text>
<line x1="550.2" y1="446.5" x2="554.8" y2="446.5" stroke="#3c3c3c" stroke-width="1"/>
<text transform="translate(548.8 450.1) scale(0.9569 1)" font-size="11.18" text-anchor="end" fill="#1d1d1b">2.0</text>
<line x1="571.5" y1="529.2" x2="571.5" y2="533.8" stroke="#3c3c3c" stroke-width="1"/>
<line x1="597.5" y1="529.2" x2="597.5" y2="533.8" stroke="#3c3c3c" stroke-width="1"/>
<text transform="translate(529.2 516.59) rotate(-90) scale(0.9569 1)" font-size="12.93" fill="#1d1d1b">PPF (40 ms)</text>
<line x1="573.9" y1="447.2" x2="597.9" y2="447.2" stroke="#1d1d1b" stroke-width="1.3"/>
<line x1="586.2" y1="435.5" x2="586.2" y2="443.3" stroke="#1d1d1b" stroke-width="1.75" stroke-linecap="round"/>
<line x1="582.82" y1="437.45" x2="589.58" y2="441.35" stroke="#1d1d1b" stroke-width="1.75" stroke-linecap="round"/>
<line x1="582.82" y1="441.35" x2="589.58" y2="437.45" stroke="#1d1d1b" stroke-width="1.75" stroke-linecap="round"/>
<path d="M579.5 456.8 L579.59 456.92 L579.71 457.07 L579.85 457.28 L579.99 457.58 L580.1 458 L580.2 458.59 L580.29 459.32 L580.37 460.13 L580.41 460.95 L580.4 461.7 L580.34 462.38 L580.23 463.03 L580.09 463.67 L579.91 464.32 L579.7 465 L579.48 465.71 L579.24 466.45 L578.96 467.2 L578.62 467.95 L578.2 468.7 L577.66 469.44 L577.02 470.18 L576.33 470.91 L575.64 471.65 L575 472.4 L574.38 473.16 L573.73 473.92 L573.12 474.68 L572.62 475.44 L572.3 476.2 L572.2 476.96 L572.27 477.72 L572.46 478.47 L572.69 479.2 L572.9 479.9 L573.13 480.57 L573.41 481.21 L573.71 481.82 L573.95 482.42 L574.1 483 L574.14 483.57 L574.11 484.14 L574.02 484.68 L573.88 485.17 L573.7 485.6 L573.43 485.96 L573.07 486.28 L572.68 486.54 L572.34 486.74 L572.1 486.9 L570.5 486.9 L570.26 486.74 L569.92 486.54 L569.53 486.28 L569.17 485.96 L568.9 485.6 L568.72 485.17 L568.58 484.68 L568.49 484.14 L568.46 483.57 L568.5 483 L568.65 482.42 L568.89 481.82 L569.19 481.21 L569.47 480.57 L569.7 479.9 L569.91 479.2 L570.14 478.47 L570.33 477.72 L570.4 476.96 L570.3 476.2 L569.98 475.44 L569.48 474.68 L568.87 473.92 L568.22 473.16 L567.6 472.4 L566.96 471.65 L566.27 470.91 L565.58 470.18 L564.94 469.44 L564.4 468.7 L563.98 467.95 L563.64 467.2 L563.36 466.45 L563.12 465.71 L562.9 465 L562.69 464.32 L562.51 463.67 L562.37 463.03 L562.26 462.38 L562.2 461.7 L562.19 460.95 L562.23 460.13 L562.31 459.32 L562.4 458.59 L562.5 458 L562.61 457.58 L562.75 457.28 L562.89 457.07 L563.01 456.92 L563.1 456.8 Z" stroke="#111" stroke-width="0.9" fill="#fff" stroke-linejoin="round"/>
<line x1="564" y1="458.3" x2="579" y2="458.3" stroke="#555" stroke-width="0.7" stroke-dasharray="1 1.2"/>
<line x1="563" y1="464.3" x2="580" y2="464.3" stroke="#555" stroke-width="0.7" stroke-dasharray="1 1.2"/>
<circle cx="565.6" cy="460.5" r="2.4" fill="#111" stroke="none" stroke-width="1"/>
<circle cx="577.1" cy="457.1" r="2.4" fill="#111" stroke="none" stroke-width="1"/>
<circle cx="571.6" cy="462.3" r="2.4" fill="#111" stroke="none" stroke-width="1"/>
<circle cx="568.5" cy="466.6" r="2.4" fill="#111" stroke="none" stroke-width="1"/>
<circle cx="574.2" cy="469.8" r="2.4" fill="#111" stroke="none" stroke-width="1"/>
<circle cx="571.6" cy="485.3" r="2.4" fill="#111" stroke="none" stroke-width="1"/>
<path d="M598.2 466 L598.55 466.17 L599.05 466.4 L599.63 466.68 L600.23 467.05 L600.8 467.5 L601.35 468.06 L601.92 468.73 L602.49 469.47 L603.02 470.24 L603.5 471 L603.92 471.77 L604.31 472.58 L604.65 473.4 L604.95 474.21 L605.2 475 L605.4 475.76 L605.55 476.5 L605.66 477.23 L605.71 477.96 L605.7 478.7 L605.62 479.46 L605.48 480.23 L605.29 481 L605.06 481.76 L604.8 482.5 L604.49 483.21 L604.14 483.9 L603.75 484.59 L603.36 485.28 L603 486 L602.65 486.75 L602.31 487.52 L601.97 488.31 L601.67 489.1 L601.4 489.9 L601.18 490.68 L600.99 491.43 L600.84 492.21 L600.71 493.06 L600.6 494 L600.52 495.09 L600.47 496.31 L600.44 497.58 L600.42 498.83 L600.4 500 L600.4 501.09 L600.41 502.14 L600.43 503.16 L600.44 504.11 L600.4 505 L600.34 505.82 L600.27 506.58 L600.17 507.28 L600.02 507.92 L599.8 508.5 L599.46 509.03 L599 509.5 L598.52 509.92 L598.09 510.25 L597.8 510.5 L596.2 510.5 L595.91 510.25 L595.48 509.92 L595 509.5 L594.54 509.03 L594.2 508.5 L593.98 507.92 L593.83 507.28 L593.73 506.58 L593.66 505.82 L593.6 505 L593.56 504.11 L593.57 503.16 L593.59 502.14 L593.6 501.09 L593.6 500 L593.58 498.83 L593.56 497.58 L593.53 496.31 L593.48 495.09 L593.4 494 L593.29 493.06 L593.16 492.21 L593.01 491.43 L592.82 490.68 L592.6 489.9 L592.33 489.1 L592.03 488.31 L591.69 487.52 L591.35 486.75 L591 486 L590.64 485.28 L590.25 484.59 L589.86 483.9 L589.51 483.21 L589.2 482.5 L588.94 481.76 L588.71 481 L588.52 480.23 L588.38 479.46 L588.3 478.7 L588.29 477.96 L588.34 477.23 L588.45 476.5 L588.6 475.76 L588.8 475 L589.05 474.21 L589.35 473.4 L589.69 472.58 L590.08 471.77 L590.5 471 L590.98 470.24 L591.51 469.47 L592.08 468.73 L592.65 468.06 L593.2 467.5 L593.77 467.05 L594.37 466.68 L594.95 466.4 L595.45 466.17 L595.8 466 Z" stroke="#e8221c" stroke-width="0.9" fill="#fff" stroke-linejoin="round"/>
<line x1="590" y1="474.3" x2="604" y2="474.3" stroke="#777" stroke-width="0.7" stroke-dasharray="1 1.2"/>
<line x1="588.5" y1="481" x2="605.5" y2="481" stroke="#444" stroke-width="0.9" stroke-dasharray="2 1.2"/>
<line x1="592" y1="497" x2="602" y2="497" stroke="#777" stroke-width="0.7" stroke-dasharray="1 1.2"/>
<circle cx="597" cy="467.4" r="2.4" fill="#e8221c" stroke="none" stroke-width="1"/>
<circle cx="597" cy="473.8" r="2.4" fill="#e8221c" stroke="none" stroke-width="1"/>
<circle cx="590.5" cy="481" r="2.4" fill="#e8221c" stroke="none" stroke-width="1"/>
<circle cx="597" cy="481" r="2.4" fill="#e8221c" stroke="none" stroke-width="1"/>
<circle cx="603.4" cy="478" r="2.4" fill="#e8221c" stroke="none" stroke-width="1"/>
<circle cx="597" cy="489.2" r="2.4" fill="#e8221c" stroke="none" stroke-width="1"/>
<circle cx="597" cy="499" r="2.4" fill="#e8221c" stroke="none" stroke-width="1"/>
<circle cx="597" cy="508.9" r="2.4" fill="#e8221c" stroke="none" stroke-width="1"/>
</svg>
</body></html>
